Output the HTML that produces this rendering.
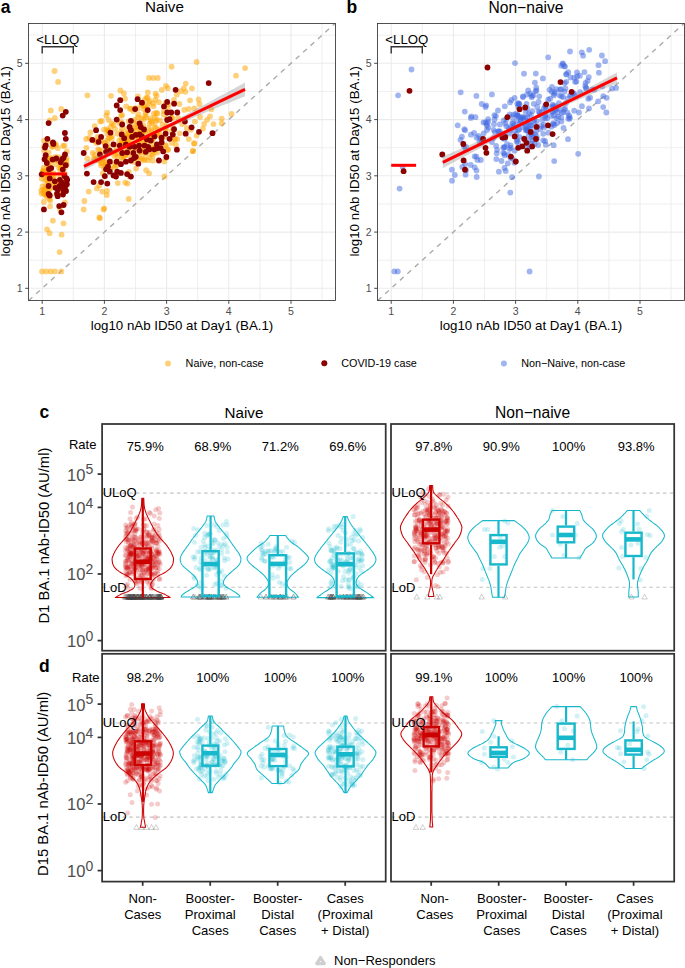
<!DOCTYPE html>
<html><head><meta charset="utf-8"><style>
html,body{margin:0;padding:0;background:#fff;}
svg{display:block;}
text{font-family:"Liberation Sans", sans-serif;}
</style></head><body>
<svg width="685" height="968" viewBox="0 0 685 968" font-family='"Liberation Sans", sans-serif'>
<rect width="685" height="968" fill="#fff"/>
<rect x="28.5" y="23.5" width="307" height="277" fill="#fff"/>
<line x1="73.3" y1="23.5" x2="73.3" y2="300.5" stroke="#EBEBEB" stroke-width="0.8"/>
<line x1="28.5" y1="260.2" x2="335.5" y2="260.2" stroke="#EBEBEB" stroke-width="0.8"/>
<line x1="135.5" y1="23.5" x2="135.5" y2="300.5" stroke="#EBEBEB" stroke-width="0.8"/>
<line x1="28.5" y1="203.9" x2="335.5" y2="203.9" stroke="#EBEBEB" stroke-width="0.8"/>
<line x1="197.7" y1="23.5" x2="197.7" y2="300.5" stroke="#EBEBEB" stroke-width="0.8"/>
<line x1="28.5" y1="147.7" x2="335.5" y2="147.7" stroke="#EBEBEB" stroke-width="0.8"/>
<line x1="259.9" y1="23.5" x2="259.9" y2="300.5" stroke="#EBEBEB" stroke-width="0.8"/>
<line x1="28.5" y1="91.4" x2="335.5" y2="91.4" stroke="#EBEBEB" stroke-width="0.8"/>
<line x1="322.1" y1="23.5" x2="322.1" y2="300.5" stroke="#EBEBEB" stroke-width="0.8"/>
<line x1="28.5" y1="35.2" x2="335.5" y2="35.2" stroke="#EBEBEB" stroke-width="0.8"/>
<line x1="42.2" y1="23.5" x2="42.2" y2="300.5" stroke="#EBEBEB" stroke-width="1.1"/>
<line x1="28.5" y1="288.3" x2="335.5" y2="288.3" stroke="#EBEBEB" stroke-width="1.1"/>
<line x1="104.4" y1="23.5" x2="104.4" y2="300.5" stroke="#EBEBEB" stroke-width="1.1"/>
<line x1="28.5" y1="232.1" x2="335.5" y2="232.1" stroke="#EBEBEB" stroke-width="1.1"/>
<line x1="166.6" y1="23.5" x2="166.6" y2="300.5" stroke="#EBEBEB" stroke-width="1.1"/>
<line x1="28.5" y1="175.8" x2="335.5" y2="175.8" stroke="#EBEBEB" stroke-width="1.1"/>
<line x1="228.8" y1="23.5" x2="228.8" y2="300.5" stroke="#EBEBEB" stroke-width="1.1"/>
<line x1="28.5" y1="119.6" x2="335.5" y2="119.6" stroke="#EBEBEB" stroke-width="1.1"/>
<line x1="291" y1="23.5" x2="291" y2="300.5" stroke="#EBEBEB" stroke-width="1.1"/>
<line x1="28.5" y1="63.3" x2="335.5" y2="63.3" stroke="#EBEBEB" stroke-width="1.1"/>
<line x1="28.7" y1="300.5" x2="335" y2="23.5" stroke="#ABABAB" stroke-width="1.4" stroke-dasharray="5 5"/>
<g fill="#FFA500" fill-opacity="0.52"><circle cx="98.1" cy="149.5" r="2.9"/><circle cx="160.2" cy="136.9" r="2.9"/><circle cx="95.2" cy="159.4" r="2.9"/><circle cx="145.8" cy="113" r="2.9"/><circle cx="128.4" cy="134.4" r="2.9"/><circle cx="148.1" cy="160.2" r="2.9"/><circle cx="153.1" cy="103.3" r="2.9"/><circle cx="123.4" cy="153" r="2.9"/><circle cx="121.5" cy="122.2" r="2.9"/><circle cx="135.6" cy="127.3" r="2.9"/><circle cx="139" cy="137" r="2.9"/><circle cx="139.3" cy="157.2" r="2.9"/><circle cx="139.2" cy="124.4" r="2.9"/><circle cx="104.1" cy="168.2" r="2.9"/><circle cx="107" cy="163.6" r="2.9"/><circle cx="106" cy="164.7" r="2.9"/><circle cx="130.9" cy="145.4" r="2.9"/><circle cx="108.9" cy="149.6" r="2.9"/><circle cx="155.3" cy="99.9" r="2.9"/><circle cx="152.8" cy="160.7" r="2.9"/><circle cx="164.1" cy="161.6" r="2.9"/><circle cx="132.9" cy="140.6" r="2.9"/><circle cx="147.8" cy="92.4" r="2.9"/><circle cx="147.1" cy="139.3" r="2.9"/><circle cx="138.9" cy="160.1" r="2.9"/><circle cx="97.1" cy="158.2" r="2.9"/><circle cx="144.3" cy="159.2" r="2.9"/><circle cx="133.1" cy="149.6" r="2.9"/><circle cx="132.7" cy="131.4" r="2.9"/><circle cx="150.8" cy="120.9" r="2.9"/><circle cx="164.6" cy="136.8" r="2.9"/><circle cx="138.3" cy="138.7" r="2.9"/><circle cx="117.7" cy="153.3" r="2.9"/><circle cx="121.5" cy="157.2" r="2.9"/><circle cx="141.6" cy="142.3" r="2.9"/><circle cx="140.2" cy="152" r="2.9"/><circle cx="146.8" cy="142.2" r="2.9"/><circle cx="89.1" cy="137.9" r="2.9"/><circle cx="124.3" cy="151.1" r="2.9"/><circle cx="151.7" cy="132" r="2.9"/><circle cx="129.9" cy="108.7" r="2.9"/><circle cx="121.2" cy="131.6" r="2.9"/><circle cx="143.3" cy="131.5" r="2.9"/><circle cx="114.3" cy="156.1" r="2.9"/><circle cx="110.7" cy="161.7" r="2.9"/><circle cx="152.9" cy="155.5" r="2.9"/><circle cx="136.1" cy="130.5" r="2.9"/><circle cx="119.2" cy="123" r="2.9"/><circle cx="141.2" cy="149.4" r="2.9"/><circle cx="149.3" cy="103.1" r="2.9"/><circle cx="149.6" cy="136.8" r="2.9"/><circle cx="114.5" cy="164.8" r="2.9"/><circle cx="114.7" cy="144.6" r="2.9"/><circle cx="137.2" cy="124.4" r="2.9"/><circle cx="127.6" cy="146.8" r="2.9"/><circle cx="111.7" cy="138.7" r="2.9"/><circle cx="98.7" cy="159.7" r="2.9"/><circle cx="149.1" cy="133.7" r="2.9"/><circle cx="122" cy="142" r="2.9"/><circle cx="167.9" cy="107.6" r="2.9"/><circle cx="101.5" cy="163.2" r="2.9"/><circle cx="133.8" cy="136.3" r="2.9"/><circle cx="128.7" cy="121.5" r="2.9"/><circle cx="148.6" cy="128.2" r="2.9"/><circle cx="107.6" cy="133.9" r="2.9"/><circle cx="150.4" cy="118.4" r="2.9"/><circle cx="137.1" cy="134.2" r="2.9"/><circle cx="139.3" cy="152" r="2.9"/><circle cx="171.8" cy="117.9" r="2.9"/><circle cx="87.3" cy="158.4" r="2.9"/><circle cx="87.4" cy="95.3" r="2.9"/><circle cx="163.7" cy="114.5" r="2.9"/><circle cx="127.5" cy="183.6" r="2.9"/><circle cx="128.9" cy="171.8" r="2.9"/><circle cx="149.1" cy="173.3" r="2.9"/><circle cx="107" cy="129.2" r="2.9"/><circle cx="99.3" cy="185.5" r="2.9"/><circle cx="157" cy="152.7" r="2.9"/><circle cx="115.1" cy="167.3" r="2.9"/><circle cx="157.3" cy="134.5" r="2.9"/><circle cx="125.2" cy="182.6" r="2.9"/><circle cx="165.3" cy="145.8" r="2.9"/><circle cx="97.5" cy="136.9" r="2.9"/><circle cx="106" cy="163" r="2.9"/><circle cx="138.6" cy="144.2" r="2.9"/><circle cx="132.4" cy="145.1" r="2.9"/><circle cx="106.6" cy="165.7" r="2.9"/><circle cx="137.8" cy="108.4" r="2.9"/><circle cx="93.7" cy="158.4" r="2.9"/><circle cx="151.3" cy="138.4" r="2.9"/><circle cx="156" cy="127.9" r="2.9"/><circle cx="124.2" cy="155.9" r="2.9"/><circle cx="161.8" cy="89.9" r="2.9"/><circle cx="116.2" cy="165.6" r="2.9"/><circle cx="151.8" cy="141.8" r="2.9"/><circle cx="123" cy="155.8" r="2.9"/><circle cx="86.4" cy="147.8" r="2.9"/><circle cx="102.8" cy="173.4" r="2.9"/><circle cx="157" cy="132.8" r="2.9"/><circle cx="146.2" cy="170.2" r="2.9"/><circle cx="133.6" cy="122.3" r="2.9"/><circle cx="96.5" cy="142.9" r="2.9"/><circle cx="125.4" cy="133.5" r="2.9"/><circle cx="159.2" cy="129.7" r="2.9"/><circle cx="151.6" cy="154.2" r="2.9"/><circle cx="152.6" cy="147.4" r="2.9"/><circle cx="133.3" cy="111.1" r="2.9"/><circle cx="121.9" cy="143.2" r="2.9"/><circle cx="143.6" cy="106" r="2.9"/><circle cx="143.7" cy="149.8" r="2.9"/><circle cx="122.1" cy="144.3" r="2.9"/><circle cx="127.1" cy="129.1" r="2.9"/><circle cx="155.6" cy="93.7" r="2.9"/><circle cx="140.5" cy="135.7" r="2.9"/><circle cx="147.8" cy="107.3" r="2.9"/><circle cx="143.9" cy="160.4" r="2.9"/><circle cx="145.4" cy="153.7" r="2.9"/><circle cx="90.4" cy="132.4" r="2.9"/><circle cx="121.4" cy="138.8" r="2.9"/><circle cx="162.6" cy="124.7" r="2.9"/><circle cx="136.1" cy="168.4" r="2.9"/><circle cx="140.1" cy="130.1" r="2.9"/><circle cx="152.5" cy="147.5" r="2.9"/><circle cx="168.1" cy="149.5" r="2.9"/><circle cx="127.4" cy="142" r="2.9"/><circle cx="104.4" cy="142.9" r="2.9"/><circle cx="166.3" cy="125.9" r="2.9"/><circle cx="117.8" cy="173" r="2.9"/><circle cx="143.7" cy="119.3" r="2.9"/><circle cx="117.8" cy="183.1" r="2.9"/><circle cx="108.3" cy="138.6" r="2.9"/><circle cx="92.8" cy="153" r="2.9"/><circle cx="144.9" cy="105" r="2.9"/><circle cx="149.1" cy="157.3" r="2.9"/><circle cx="128.5" cy="155.2" r="2.9"/><circle cx="86.2" cy="138.9" r="2.9"/><circle cx="127.5" cy="138.5" r="2.9"/><circle cx="108.6" cy="120" r="2.9"/><circle cx="102.9" cy="159.1" r="2.9"/><circle cx="141.9" cy="158.4" r="2.9"/><circle cx="145.2" cy="131.7" r="2.9"/><circle cx="100.2" cy="121.5" r="2.9"/><circle cx="141.4" cy="104.5" r="2.9"/><circle cx="152.1" cy="122.9" r="2.9"/><circle cx="154.8" cy="127.2" r="2.9"/><circle cx="117.4" cy="133.8" r="2.9"/><circle cx="159.5" cy="133.5" r="2.9"/><circle cx="143.7" cy="137.5" r="2.9"/><circle cx="138.5" cy="114.4" r="2.9"/><circle cx="121.1" cy="115.8" r="2.9"/><circle cx="110.5" cy="168.6" r="2.9"/><circle cx="152.3" cy="151.3" r="2.9"/><circle cx="122" cy="128" r="2.9"/><circle cx="166.3" cy="158.1" r="2.9"/><circle cx="146.6" cy="97.6" r="2.9"/><circle cx="165.8" cy="129" r="2.9"/><circle cx="115.6" cy="154.1" r="2.9"/><circle cx="100.1" cy="160.8" r="2.9"/><circle cx="127.1" cy="145.7" r="2.9"/><circle cx="165.5" cy="129" r="2.9"/><circle cx="91.6" cy="139.8" r="2.9"/><circle cx="102.4" cy="163.3" r="2.9"/><circle cx="128.6" cy="148.7" r="2.9"/><circle cx="104.3" cy="158.5" r="2.9"/><circle cx="115.4" cy="151.1" r="2.9"/><circle cx="163.8" cy="111.1" r="2.9"/><circle cx="153.8" cy="113.7" r="2.9"/><circle cx="108.2" cy="149.5" r="2.9"/><circle cx="146.4" cy="109" r="2.9"/><circle cx="145.5" cy="138.7" r="2.9"/><circle cx="133.5" cy="143.9" r="2.9"/><circle cx="139.3" cy="124.2" r="2.9"/><circle cx="122.9" cy="160.5" r="2.9"/><circle cx="108.5" cy="130.8" r="2.9"/><circle cx="168.2" cy="104.3" r="2.9"/><circle cx="156.4" cy="113" r="2.9"/><circle cx="132.3" cy="127.7" r="2.9"/><circle cx="102.9" cy="158.3" r="2.9"/><circle cx="111.9" cy="136.3" r="2.9"/><circle cx="116.2" cy="150.2" r="2.9"/><circle cx="143.6" cy="109.1" r="2.9"/><circle cx="110.2" cy="168.9" r="2.9"/><circle cx="155.3" cy="150.6" r="2.9"/><circle cx="145.1" cy="145.2" r="2.9"/><circle cx="129.4" cy="176.6" r="2.9"/><circle cx="152.4" cy="140.4" r="2.9"/><circle cx="107.2" cy="112.7" r="2.9"/><circle cx="143.8" cy="141.6" r="2.9"/><circle cx="135.4" cy="108.2" r="2.9"/><circle cx="131.6" cy="132.1" r="2.9"/><circle cx="146.8" cy="150.9" r="2.9"/><circle cx="136" cy="148.3" r="2.9"/><circle cx="97.5" cy="140.3" r="2.9"/><circle cx="151" cy="130.1" r="2.9"/><circle cx="107" cy="190.9" r="2.9"/><circle cx="157.3" cy="113.4" r="2.9"/><circle cx="134.1" cy="162.1" r="2.9"/><circle cx="125.3" cy="155.2" r="2.9"/><circle cx="144.4" cy="130.8" r="2.9"/><circle cx="166.9" cy="118.3" r="2.9"/><circle cx="96.2" cy="159.9" r="2.9"/><circle cx="143.2" cy="125.5" r="2.9"/><circle cx="147.7" cy="98" r="2.9"/><circle cx="128.5" cy="136.6" r="2.9"/><circle cx="138" cy="117.4" r="2.9"/><circle cx="123" cy="143.3" r="2.9"/><circle cx="139.3" cy="139.6" r="2.9"/><circle cx="129.7" cy="152.8" r="2.9"/><circle cx="145.3" cy="115.1" r="2.9"/><circle cx="130.5" cy="160.7" r="2.9"/><circle cx="138.1" cy="126.8" r="2.9"/><circle cx="127.5" cy="143" r="2.9"/><circle cx="171.8" cy="142.9" r="2.9"/><circle cx="101.1" cy="140.7" r="2.9"/><circle cx="130.2" cy="136.4" r="2.9"/><circle cx="112" cy="123.3" r="2.9"/><circle cx="107.9" cy="145.9" r="2.9"/><circle cx="165.7" cy="103" r="2.9"/><circle cx="102.8" cy="151" r="2.9"/><circle cx="95.2" cy="141" r="2.9"/><circle cx="155.5" cy="121.8" r="2.9"/><circle cx="128.4" cy="141.7" r="2.9"/><circle cx="107.8" cy="130.6" r="2.9"/><circle cx="117.9" cy="157.1" r="2.9"/><circle cx="171.4" cy="131.4" r="2.9"/><circle cx="110.8" cy="126.7" r="2.9"/><circle cx="101.1" cy="165.3" r="2.9"/><circle cx="105.1" cy="176.6" r="2.9"/><circle cx="138.4" cy="138" r="2.9"/><circle cx="125.1" cy="140.3" r="2.9"/><circle cx="141.5" cy="118.5" r="2.9"/><circle cx="149.7" cy="123.7" r="2.9"/><circle cx="161.7" cy="139.9" r="2.9"/><circle cx="128.8" cy="198.9" r="2.9"/><circle cx="105.2" cy="143.1" r="2.9"/><circle cx="111" cy="95.8" r="2.9"/><circle cx="120.4" cy="90.5" r="2.9"/><circle cx="123.9" cy="93.4" r="2.9"/><circle cx="125" cy="98.7" r="2.9"/><circle cx="126.2" cy="106.3" r="2.9"/><circle cx="130.9" cy="108.6" r="2.9"/><circle cx="106.4" cy="115.6" r="2.9"/><circle cx="101.7" cy="120.9" r="2.9"/><circle cx="94.7" cy="126.1" r="2.9"/><circle cx="104" cy="129.6" r="2.9"/><circle cx="137.9" cy="96.4" r="2.9"/><circle cx="144.9" cy="99.3" r="2.9"/><circle cx="149.6" cy="101" r="2.9"/><circle cx="153.6" cy="106.3" r="2.9"/><circle cx="156.6" cy="95.8" r="2.9"/><circle cx="158.9" cy="102.2" r="2.9"/><circle cx="165.9" cy="85.8" r="2.9"/><circle cx="167.7" cy="88.2" r="2.9"/><circle cx="146.1" cy="117.4" r="2.9"/><circle cx="154.8" cy="117.4" r="2.9"/><circle cx="160.1" cy="120.3" r="2.9"/><circle cx="156.6" cy="119.7" r="2.9"/><circle cx="135" cy="119.7" r="2.9"/><circle cx="122.1" cy="115" r="2.9"/><circle cx="113.4" cy="125" r="2.9"/><circle cx="115.1" cy="129" r="2.9"/><circle cx="128.5" cy="133.7" r="2.9"/><circle cx="132" cy="134.9" r="2.9"/><circle cx="141.4" cy="131.4" r="2.9"/><circle cx="148.4" cy="139.6" r="2.9"/><circle cx="153.1" cy="138.4" r="2.9"/><circle cx="155.4" cy="134.9" r="2.9"/><circle cx="107.5" cy="140.7" r="2.9"/><circle cx="109.9" cy="137.2" r="2.9"/><circle cx="99.3" cy="150.1" r="2.9"/><circle cx="94.7" cy="154.7" r="2.9"/><circle cx="119.2" cy="140.7" r="2.9"/><circle cx="139" cy="150.1" r="2.9"/><circle cx="143.7" cy="152.4" r="2.9"/><circle cx="165.9" cy="145.4" r="2.9"/><circle cx="167.7" cy="150.1" r="2.9"/><circle cx="196.6" cy="62" r="2.9"/><circle cx="245.1" cy="68.1" r="2.9"/><circle cx="236" cy="75.7" r="2.9"/><circle cx="185.7" cy="83.6" r="2.9"/><circle cx="191.9" cy="88.3" r="2.9"/><circle cx="183.8" cy="88.3" r="2.9"/><circle cx="185.5" cy="91.8" r="2.9"/><circle cx="180.8" cy="91.2" r="2.9"/><circle cx="176.8" cy="94.7" r="2.9"/><circle cx="190" cy="100.3" r="2.9"/><circle cx="198.6" cy="99.4" r="2.9"/><circle cx="199.5" cy="104" r="2.9"/><circle cx="179.4" cy="104" r="2.9"/><circle cx="211.4" cy="109.3" r="2.9"/><circle cx="184.3" cy="109.9" r="2.9"/><circle cx="188.8" cy="109" r="2.9"/><circle cx="194.3" cy="108.5" r="2.9"/><circle cx="231.6" cy="114" r="2.9"/><circle cx="210" cy="116.3" r="2.9"/><circle cx="207.1" cy="119.8" r="2.9"/><circle cx="200.1" cy="116.9" r="2.9"/><circle cx="194.9" cy="121.6" r="2.9"/><circle cx="221.7" cy="118.6" r="2.9"/><circle cx="221.7" cy="123.3" r="2.9"/><circle cx="213.5" cy="124.1" r="2.9"/><circle cx="204.2" cy="123.9" r="2.9"/><circle cx="203" cy="128.6" r="2.9"/><circle cx="186.7" cy="128" r="2.9"/><circle cx="190.8" cy="129.7" r="2.9"/><circle cx="179.7" cy="133.3" r="2.9"/><circle cx="177.3" cy="139.1" r="2.9"/><circle cx="196.6" cy="135.6" r="2.9"/><circle cx="188.8" cy="139.1" r="2.9"/><circle cx="194.3" cy="143.2" r="2.9"/><circle cx="192.8" cy="151" r="2.9"/><circle cx="175" cy="139" r="2.9"/><circle cx="171.6" cy="66.7" r="2.9"/><circle cx="174.5" cy="139.3" r="2.9"/><circle cx="173" cy="128" r="2.9"/><circle cx="172" cy="118" r="2.9"/><circle cx="174" cy="100" r="2.9"/><circle cx="178" cy="118" r="2.9"/><circle cx="182" cy="124" r="2.9"/><circle cx="176" cy="145" r="2.9"/><circle cx="53.9" cy="176" r="2.9"/><circle cx="46.4" cy="196.8" r="2.9"/><circle cx="43.7" cy="170.6" r="2.9"/><circle cx="65.7" cy="191.2" r="2.9"/><circle cx="57.1" cy="160.4" r="2.9"/><circle cx="51.3" cy="177.3" r="2.9"/><circle cx="56.1" cy="144.9" r="2.9"/><circle cx="49.3" cy="174.5" r="2.9"/><circle cx="42.5" cy="186.5" r="2.9"/><circle cx="48.3" cy="160.9" r="2.9"/><circle cx="61" cy="168.4" r="2.9"/><circle cx="51.9" cy="146.6" r="2.9"/><circle cx="43.4" cy="189.8" r="2.9"/><circle cx="66.8" cy="164.5" r="2.9"/><circle cx="64.7" cy="173.8" r="2.9"/><circle cx="52.9" cy="220.7" r="2.9"/><circle cx="48.3" cy="164.3" r="2.9"/><circle cx="55.2" cy="143.8" r="2.9"/><circle cx="53.9" cy="182.7" r="2.9"/><circle cx="66.6" cy="161" r="2.9"/><circle cx="45.1" cy="194.4" r="2.9"/><circle cx="57.7" cy="183.3" r="2.9"/><circle cx="43.5" cy="167.9" r="2.9"/><circle cx="55.3" cy="157" r="2.9"/><circle cx="58.8" cy="157.2" r="2.9"/><circle cx="53.5" cy="173.2" r="2.9"/><circle cx="52.6" cy="146.8" r="2.9"/><circle cx="61.6" cy="234.7" r="2.9"/><circle cx="65.9" cy="183.7" r="2.9"/><circle cx="60.5" cy="170.6" r="2.9"/><circle cx="64.4" cy="162.2" r="2.9"/><circle cx="61.7" cy="183.7" r="2.9"/><circle cx="49" cy="183.7" r="2.9"/><circle cx="59.2" cy="194.1" r="2.9"/><circle cx="58" cy="181.2" r="2.9"/><circle cx="60.9" cy="166.1" r="2.9"/><circle cx="66.6" cy="158.2" r="2.9"/><circle cx="65" cy="167.5" r="2.9"/><circle cx="43.7" cy="174.9" r="2.9"/><circle cx="48.9" cy="194.4" r="2.9"/><circle cx="44.7" cy="159.6" r="2.9"/><circle cx="55.7" cy="164.2" r="2.9"/><circle cx="59" cy="167.8" r="2.9"/><circle cx="55.9" cy="183.5" r="2.9"/><circle cx="54.1" cy="184.5" r="2.9"/><circle cx="47.4" cy="188.3" r="2.9"/><circle cx="63.1" cy="145.8" r="2.9"/><circle cx="44" cy="146.6" r="2.9"/><circle cx="57.7" cy="148.2" r="2.9"/><circle cx="61.3" cy="166.8" r="2.9"/><circle cx="48.6" cy="152.3" r="2.9"/><circle cx="62.3" cy="189.7" r="2.9"/><circle cx="66.8" cy="151.5" r="2.9"/><circle cx="50.3" cy="200.6" r="2.9"/><circle cx="65.1" cy="180.5" r="2.9"/><circle cx="52.8" cy="177" r="2.9"/><circle cx="64" cy="165.2" r="2.9"/><circle cx="44.2" cy="150.6" r="2.9"/><circle cx="54.3" cy="159.4" r="2.9"/><circle cx="59.3" cy="181" r="2.9"/><circle cx="44.1" cy="140.7" r="2.9"/><circle cx="47.5" cy="175.3" r="2.9"/><circle cx="49.8" cy="177.8" r="2.9"/><circle cx="60.2" cy="176.5" r="2.9"/><circle cx="45.8" cy="185.5" r="2.9"/><circle cx="51.1" cy="174" r="2.9"/><circle cx="45.1" cy="188.8" r="2.9"/><circle cx="59.8" cy="209" r="2.9"/><circle cx="65.6" cy="188.8" r="2.9"/><circle cx="64.9" cy="202.3" r="2.9"/><circle cx="49.8" cy="158.6" r="2.9"/><circle cx="50.1" cy="206.3" r="2.9"/><circle cx="64.5" cy="145.7" r="2.9"/><circle cx="48.4" cy="182.7" r="2.9"/><circle cx="51.2" cy="157.8" r="2.9"/><circle cx="45.1" cy="180" r="2.9"/><circle cx="46.9" cy="167" r="2.9"/><circle cx="49.4" cy="198.9" r="2.9"/><circle cx="46.9" cy="179.7" r="2.9"/><circle cx="42.8" cy="171.4" r="2.9"/><circle cx="43.9" cy="202" r="2.9"/><circle cx="41.2" cy="190.5" r="2.9"/><circle cx="47" cy="174.7" r="2.9"/><circle cx="51.2" cy="187.8" r="2.9"/><circle cx="41.6" cy="193.6" r="2.9"/><circle cx="46.7" cy="171.6" r="2.9"/><circle cx="41.8" cy="178.7" r="2.9"/><circle cx="48.7" cy="168.2" r="2.9"/><circle cx="47.7" cy="176.5" r="2.9"/><circle cx="42.5" cy="173.5" r="2.9"/><circle cx="43.6" cy="193.3" r="2.9"/><circle cx="43.3" cy="171.3" r="2.9"/><circle cx="49" cy="190" r="2.9"/><circle cx="45.1" cy="192.4" r="2.9"/><circle cx="48.1" cy="141.5" r="2.9"/><circle cx="46.2" cy="194.8" r="2.9"/><circle cx="48.4" cy="178.2" r="2.9"/><circle cx="50.6" cy="195.3" r="2.9"/><circle cx="48" cy="159" r="2.9"/><circle cx="50" cy="163.8" r="2.9"/><circle cx="42" cy="271.4" r="2.9"/><circle cx="46.2" cy="271.4" r="2.9"/><circle cx="50.6" cy="271.4" r="2.9"/><circle cx="55" cy="271.4" r="2.9"/><circle cx="61.3" cy="271.4" r="2.9"/><circle cx="54.6" cy="71" r="2.9"/><circle cx="58.1" cy="81.9" r="2.9"/><circle cx="148.9" cy="77.9" r="2.9"/><circle cx="153.3" cy="77.9" r="2.9"/><circle cx="157.8" cy="77.9" r="2.9"/><circle cx="84.4" cy="201" r="2.9"/><circle cx="99.3" cy="217.4" r="2.9"/><circle cx="104.2" cy="208.4" r="2.9"/><circle cx="59.6" cy="252.1" r="2.9"/><circle cx="63.5" cy="223.3" r="2.9"/><circle cx="47.1" cy="229.3" r="2.9"/><circle cx="49.6" cy="233.2" r="2.9"/><circle cx="50.8" cy="110.5" r="2.9"/><circle cx="61.2" cy="108.9" r="2.9"/><circle cx="54.8" cy="118" r="2.9"/><circle cx="49.7" cy="120.5" r="2.9"/><circle cx="83.7" cy="209.5" r="2.9"/><circle cx="103.6" cy="209.5" r="2.9"/><circle cx="99.9" cy="218.2" r="2.9"/><circle cx="88.7" cy="191.6" r="2.9"/><circle cx="96.9" cy="188.4" r="2.9"/><circle cx="102.3" cy="191.6" r="2.9"/><circle cx="106.8" cy="195.1" r="2.9"/><circle cx="164.4" cy="176.5" r="2.9"/><circle cx="192.9" cy="151.2" r="2.9"/><circle cx="194.1" cy="143.7" r="2.9"/></g>
<g fill="#8B0000"><circle cx="65.8" cy="111.8" r="2.9"/><circle cx="62.7" cy="115.6" r="2.9"/><circle cx="48.6" cy="123.1" r="2.9"/><circle cx="64.9" cy="133" r="2.9"/><circle cx="65.8" cy="138.8" r="2.9"/><circle cx="47.4" cy="138.8" r="2.9"/><circle cx="53" cy="142.4" r="2.9"/><circle cx="53.4" cy="143.9" r="2.9"/><circle cx="45.7" cy="145.4" r="2.9"/><circle cx="45" cy="147.6" r="2.9"/><circle cx="65" cy="154.5" r="2.9"/><circle cx="45.7" cy="155.2" r="2.9"/><circle cx="56.3" cy="158.5" r="2.9"/><circle cx="52.6" cy="159.6" r="2.9"/><circle cx="44.6" cy="159.2" r="2.9"/><circle cx="62.1" cy="159.2" r="2.9"/><circle cx="63.6" cy="157.8" r="2.9"/><circle cx="46.8" cy="163" r="2.9"/><circle cx="60.7" cy="162.3" r="2.9"/><circle cx="65.8" cy="165.2" r="2.9"/><circle cx="62.8" cy="169.6" r="2.9"/><circle cx="49" cy="169.2" r="2.9"/><circle cx="51.2" cy="168.1" r="2.9"/><circle cx="41.7" cy="174.3" r="2.9"/><circle cx="49.7" cy="178.4" r="2.9"/><circle cx="54.8" cy="181.3" r="2.9"/><circle cx="59.9" cy="179.8" r="2.9"/><circle cx="62.1" cy="182.7" r="2.9"/><circle cx="66.5" cy="178.4" r="2.9"/><circle cx="67.2" cy="179.8" r="2.9"/><circle cx="66.9" cy="184.2" r="2.9"/><circle cx="48.6" cy="186" r="2.9"/><circle cx="55.5" cy="187.8" r="2.9"/><circle cx="59.2" cy="186.4" r="2.9"/><circle cx="63.6" cy="190" r="2.9"/><circle cx="65" cy="187.1" r="2.9"/><circle cx="48.6" cy="194" r="2.9"/><circle cx="49.7" cy="195.5" r="2.9"/><circle cx="57" cy="193.7" r="2.9"/><circle cx="57.7" cy="196.2" r="2.9"/><circle cx="43.9" cy="209.4" r="2.9"/><circle cx="59.2" cy="206.1" r="2.9"/><circle cx="63.6" cy="205" r="2.9"/><circle cx="61.4" cy="212.3" r="2.9"/><circle cx="64.5" cy="176" r="2.9"/><circle cx="61" cy="185" r="2.9"/><circle cx="66" cy="191" r="2.9"/><circle cx="58" cy="189.5" r="2.9"/><circle cx="63" cy="194.5" r="2.9"/><circle cx="120.2" cy="100.2" r="2.9"/><circle cx="116.7" cy="105.4" r="2.9"/><circle cx="137.6" cy="99.2" r="2.9"/><circle cx="142" cy="102.7" r="2.9"/><circle cx="120.2" cy="110.1" r="2.9"/><circle cx="135.1" cy="109.1" r="2.9"/><circle cx="147.7" cy="110.1" r="2.9"/><circle cx="116.7" cy="119.6" r="2.9"/><circle cx="130.9" cy="120.8" r="2.9"/><circle cx="122.2" cy="124.5" r="2.9"/><circle cx="129.6" cy="127" r="2.9"/><circle cx="130.9" cy="130.2" r="2.9"/><circle cx="139.6" cy="123.3" r="2.9"/><circle cx="140.8" cy="127" r="2.9"/><circle cx="144" cy="129.5" r="2.9"/><circle cx="96.1" cy="130.2" r="2.9"/><circle cx="110.5" cy="132.7" r="2.9"/><circle cx="101.1" cy="136.9" r="2.9"/><circle cx="92.4" cy="139.9" r="2.9"/><circle cx="98.6" cy="141.9" r="2.9"/><circle cx="121.7" cy="134.4" r="2.9"/><circle cx="124.2" cy="138.2" r="2.9"/><circle cx="132.1" cy="136.9" r="2.9"/><circle cx="135.8" cy="134.9" r="2.9"/><circle cx="139.6" cy="134.4" r="2.9"/><circle cx="142" cy="136.4" r="2.9"/><circle cx="147" cy="139.4" r="2.9"/><circle cx="150.7" cy="140.6" r="2.9"/><circle cx="154.4" cy="136.4" r="2.9"/><circle cx="105.6" cy="146.1" r="2.9"/><circle cx="113.5" cy="144.4" r="2.9"/><circle cx="119.7" cy="145.6" r="2.9"/><circle cx="125.9" cy="144.4" r="2.9"/><circle cx="129.6" cy="146.8" r="2.9"/><circle cx="134.6" cy="146.8" r="2.9"/><circle cx="139.1" cy="145.6" r="2.9"/><circle cx="144.5" cy="145.6" r="2.9"/><circle cx="148.2" cy="146.8" r="2.9"/><circle cx="156.9" cy="144.4" r="2.9"/><circle cx="157.4" cy="148.1" r="2.9"/><circle cx="83.7" cy="153" r="2.9"/><circle cx="99.9" cy="154.3" r="2.9"/><circle cx="106.1" cy="151.8" r="2.9"/><circle cx="109.8" cy="150.6" r="2.9"/><circle cx="122.2" cy="153" r="2.9"/><circle cx="127.1" cy="152.3" r="2.9"/><circle cx="133.4" cy="153" r="2.9"/><circle cx="135.8" cy="156.8" r="2.9"/><circle cx="139.6" cy="150.6" r="2.9"/><circle cx="145.8" cy="151.8" r="2.9"/><circle cx="149.5" cy="149.3" r="2.9"/><circle cx="154.4" cy="149.3" r="2.9"/><circle cx="109.8" cy="161.7" r="2.9"/><circle cx="108" cy="166.7" r="2.9"/><circle cx="116.7" cy="161.7" r="2.9"/><circle cx="120.9" cy="164.2" r="2.9"/><circle cx="125.9" cy="161.7" r="2.9"/><circle cx="130.9" cy="160.5" r="2.9"/><circle cx="134.1" cy="158" r="2.9"/><circle cx="138.3" cy="163.7" r="2.9"/><circle cx="158.9" cy="160.5" r="2.9"/><circle cx="86.9" cy="173.6" r="2.9"/><circle cx="106.1" cy="169.2" r="2.9"/><circle cx="109.8" cy="171.7" r="2.9"/><circle cx="117.2" cy="171.7" r="2.9"/><circle cx="113.5" cy="175.4" r="2.9"/><circle cx="116" cy="176.6" r="2.9"/><circle cx="120.9" cy="172.9" r="2.9"/><circle cx="127.1" cy="174.1" r="2.9"/><circle cx="130.9" cy="176.6" r="2.9"/><circle cx="93.6" cy="182.1" r="2.9"/><circle cx="101.1" cy="182.1" r="2.9"/><circle cx="107.3" cy="183.6" r="2.9"/><circle cx="104.8" cy="176.1" r="2.9"/><circle cx="208.7" cy="83.1" r="2.9"/><circle cx="175.6" cy="89.8" r="2.9"/><circle cx="167.2" cy="101.9" r="2.9"/><circle cx="174.1" cy="103.7" r="2.9"/><circle cx="164" cy="106.4" r="2.9"/><circle cx="167.2" cy="112.5" r="2.9"/><circle cx="171.2" cy="112.5" r="2.9"/><circle cx="177.3" cy="112.5" r="2.9"/><circle cx="167.2" cy="120" r="2.9"/><circle cx="169.6" cy="119.2" r="2.9"/><circle cx="184.9" cy="121.6" r="2.9"/><circle cx="191.6" cy="127.3" r="2.9"/><circle cx="174.1" cy="129.2" r="2.9"/><circle cx="199" cy="131.8" r="2.9"/><circle cx="212.5" cy="133.2" r="2.9"/><circle cx="185.7" cy="133.7" r="2.9"/><circle cx="165.6" cy="133.7" r="2.9"/><circle cx="172.8" cy="134.5" r="2.9"/><circle cx="169.6" cy="138.8" r="2.9"/><circle cx="161.6" cy="142.5" r="2.9"/><circle cx="161.6" cy="137.7" r="2.9"/><circle cx="176.9" cy="149.7" r="2.9"/><circle cx="163.2" cy="151.4" r="2.9"/><circle cx="166.4" cy="157" r="2.9"/><circle cx="160.6" cy="148.1" r="2.9"/></g>
<path d="M84 162.3 L89.4 160 L94.7 157.8 L100.1 155.5 L105.5 153.3 L110.8 151 L116.2 148.7 L121.6 146.4 L126.9 144 L132.3 141.6 L137.7 139.1 L143 136.6 L148.4 134 L153.8 131.3 L159.1 128.5 L164.5 125.8 L169.9 122.9 L175.2 120.1 L180.6 117.2 L185.9 114.4 L191.3 111.5 L196.7 108.6 L202 105.8 L207.4 102.9 L212.8 100 L218.1 97.1 L223.5 94.2 L228.9 91.3 L234.2 88.4 L239.6 85.5 L245 82.6 L245 96.2 L239.6 98.4 L234.2 100.7 L228.9 102.9 L223.5 105.1 L218.1 107.3 L212.8 109.6 L207.4 111.8 L202 114.1 L196.7 116.3 L191.3 118.6 L185.9 120.8 L180.6 123.1 L175.2 125.3 L169.9 127.6 L164.5 129.9 L159.1 132.3 L153.8 134.7 L148.4 137.1 L143 139.6 L137.7 142.2 L132.3 144.8 L126.9 147.6 L121.6 150.3 L116.2 153.1 L110.8 156 L105.5 158.8 L100.1 161.7 L94.7 164.5 L89.4 167.4 L84 170.3Z" fill="#999" fill-opacity="0.4"/>
<line x1="84" y1="166.3" x2="245" y2="89.4" stroke="#FF0000" stroke-width="3"/>
<line x1="42.2" y1="173.9" x2="66.8" y2="173.9" stroke="#FF0000" stroke-width="3"/>
<rect x="28.5" y="23.5" width="307" height="277" fill="none" stroke="#333333" stroke-width="0.85"/>
<line x1="42.2" y1="300.5" x2="42.2" y2="303.8" stroke="#333333" stroke-width="0.9"/>
<text x="42.2" y="314.9" font-size="10.56" fill="#4D4D4D" text-anchor="middle">1</text>
<line x1="25.2" y1="288.3" x2="28.5" y2="288.3" stroke="#333333" stroke-width="0.9"/>
<text x="22.6" y="292.1" font-size="10.56" fill="#4D4D4D" text-anchor="end">1</text>
<line x1="104.4" y1="300.5" x2="104.4" y2="303.8" stroke="#333333" stroke-width="0.9"/>
<text x="104.4" y="314.9" font-size="10.56" fill="#4D4D4D" text-anchor="middle">2</text>
<line x1="25.2" y1="232.1" x2="28.5" y2="232.1" stroke="#333333" stroke-width="0.9"/>
<text x="22.6" y="235.9" font-size="10.56" fill="#4D4D4D" text-anchor="end">2</text>
<line x1="166.6" y1="300.5" x2="166.6" y2="303.8" stroke="#333333" stroke-width="0.9"/>
<text x="166.6" y="314.9" font-size="10.56" fill="#4D4D4D" text-anchor="middle">3</text>
<line x1="25.2" y1="175.8" x2="28.5" y2="175.8" stroke="#333333" stroke-width="0.9"/>
<text x="22.6" y="179.6" font-size="10.56" fill="#4D4D4D" text-anchor="end">3</text>
<line x1="228.8" y1="300.5" x2="228.8" y2="303.8" stroke="#333333" stroke-width="0.9"/>
<text x="228.8" y="314.9" font-size="10.56" fill="#4D4D4D" text-anchor="middle">4</text>
<line x1="25.2" y1="119.6" x2="28.5" y2="119.6" stroke="#333333" stroke-width="0.9"/>
<text x="22.6" y="123.4" font-size="10.56" fill="#4D4D4D" text-anchor="end">4</text>
<line x1="291" y1="300.5" x2="291" y2="303.8" stroke="#333333" stroke-width="0.9"/>
<text x="291" y="314.9" font-size="10.56" fill="#4D4D4D" text-anchor="middle">5</text>
<line x1="25.2" y1="63.3" x2="28.5" y2="63.3" stroke="#333333" stroke-width="0.9"/>
<text x="22.6" y="67.1" font-size="10.56" fill="#4D4D4D" text-anchor="end">5</text>
<text x="182" y="330" font-size="13.3" text-anchor="middle">log10 nAb ID50 at Day1 (BA.1)</text>
<text transform="translate(9.9,161.3) rotate(-90)" x="0" y="0" font-size="13.35" text-anchor="middle">log10 nAb ID50 at Day15 (BA.1)</text>
<text x="164.5" y="12.3" font-size="15.2" text-anchor="middle">Naive</text>
<path d="M42.2 53.5V46.7H73.3V53.5" fill="none" stroke="#333333" stroke-width="1.4"/>
<text x="57.8" y="44.1" font-size="13.2" text-anchor="middle">&lt;LLOQ</text>
<rect x="377.5" y="23.5" width="307" height="277" fill="#fff"/>
<line x1="422.3" y1="23.5" x2="422.3" y2="300.5" stroke="#EBEBEB" stroke-width="0.8"/>
<line x1="377.5" y1="260.2" x2="684.5" y2="260.2" stroke="#EBEBEB" stroke-width="0.8"/>
<line x1="484.5" y1="23.5" x2="484.5" y2="300.5" stroke="#EBEBEB" stroke-width="0.8"/>
<line x1="377.5" y1="203.9" x2="684.5" y2="203.9" stroke="#EBEBEB" stroke-width="0.8"/>
<line x1="546.7" y1="23.5" x2="546.7" y2="300.5" stroke="#EBEBEB" stroke-width="0.8"/>
<line x1="377.5" y1="147.7" x2="684.5" y2="147.7" stroke="#EBEBEB" stroke-width="0.8"/>
<line x1="608.9" y1="23.5" x2="608.9" y2="300.5" stroke="#EBEBEB" stroke-width="0.8"/>
<line x1="377.5" y1="91.4" x2="684.5" y2="91.4" stroke="#EBEBEB" stroke-width="0.8"/>
<line x1="671.1" y1="23.5" x2="671.1" y2="300.5" stroke="#EBEBEB" stroke-width="0.8"/>
<line x1="377.5" y1="35.2" x2="684.5" y2="35.2" stroke="#EBEBEB" stroke-width="0.8"/>
<line x1="391.2" y1="23.5" x2="391.2" y2="300.5" stroke="#EBEBEB" stroke-width="1.1"/>
<line x1="377.5" y1="288.3" x2="684.5" y2="288.3" stroke="#EBEBEB" stroke-width="1.1"/>
<line x1="453.4" y1="23.5" x2="453.4" y2="300.5" stroke="#EBEBEB" stroke-width="1.1"/>
<line x1="377.5" y1="232.1" x2="684.5" y2="232.1" stroke="#EBEBEB" stroke-width="1.1"/>
<line x1="515.6" y1="23.5" x2="515.6" y2="300.5" stroke="#EBEBEB" stroke-width="1.1"/>
<line x1="377.5" y1="175.8" x2="684.5" y2="175.8" stroke="#EBEBEB" stroke-width="1.1"/>
<line x1="577.8" y1="23.5" x2="577.8" y2="300.5" stroke="#EBEBEB" stroke-width="1.1"/>
<line x1="377.5" y1="119.6" x2="684.5" y2="119.6" stroke="#EBEBEB" stroke-width="1.1"/>
<line x1="640" y1="23.5" x2="640" y2="300.5" stroke="#EBEBEB" stroke-width="1.1"/>
<line x1="377.5" y1="63.3" x2="684.5" y2="63.3" stroke="#EBEBEB" stroke-width="1.1"/>
<line x1="377.7" y1="300.5" x2="684" y2="23.5" stroke="#ABABAB" stroke-width="1.4" stroke-dasharray="5 5"/>
<g fill="#4169E1" fill-opacity="0.5"><circle cx="464.8" cy="111.6" r="2.9"/><circle cx="470.7" cy="164.9" r="2.9"/><circle cx="496.1" cy="145.8" r="2.9"/><circle cx="466.1" cy="170.2" r="2.9"/><circle cx="549.6" cy="89.8" r="2.9"/><circle cx="579.9" cy="75.7" r="2.9"/><circle cx="529.1" cy="113.5" r="2.9"/><circle cx="553.1" cy="124.3" r="2.9"/><circle cx="545.2" cy="105.5" r="2.9"/><circle cx="528.7" cy="124.4" r="2.9"/><circle cx="548.4" cy="132.7" r="2.9"/><circle cx="479.4" cy="141.4" r="2.9"/><circle cx="543.2" cy="140.3" r="2.9"/><circle cx="543.8" cy="108.6" r="2.9"/><circle cx="525.7" cy="111.8" r="2.9"/><circle cx="546.2" cy="109.1" r="2.9"/><circle cx="557.9" cy="112.2" r="2.9"/><circle cx="482" cy="141.1" r="2.9"/><circle cx="554.7" cy="110.6" r="2.9"/><circle cx="553.7" cy="107.7" r="2.9"/><circle cx="498.9" cy="171.7" r="2.9"/><circle cx="510.6" cy="145.5" r="2.9"/><circle cx="534.9" cy="82.6" r="2.9"/><circle cx="477.4" cy="159.9" r="2.9"/><circle cx="570.5" cy="77.4" r="2.9"/><circle cx="519.7" cy="123.8" r="2.9"/><circle cx="542.9" cy="78.4" r="2.9"/><circle cx="509.4" cy="149.1" r="2.9"/><circle cx="561.4" cy="121.4" r="2.9"/><circle cx="528.2" cy="90.5" r="2.9"/><circle cx="527.8" cy="120.9" r="2.9"/><circle cx="536.7" cy="136.6" r="2.9"/><circle cx="537.3" cy="107" r="2.9"/><circle cx="474.7" cy="156.4" r="2.9"/><circle cx="517.7" cy="115.9" r="2.9"/><circle cx="558.6" cy="108.7" r="2.9"/><circle cx="606.3" cy="112.5" r="2.9"/><circle cx="525.8" cy="124.8" r="2.9"/><circle cx="577.1" cy="76.4" r="2.9"/><circle cx="583.1" cy="55.7" r="2.9"/><circle cx="531.7" cy="97.2" r="2.9"/><circle cx="474.1" cy="132.8" r="2.9"/><circle cx="545.8" cy="114.3" r="2.9"/><circle cx="514.6" cy="150.7" r="2.9"/><circle cx="536.4" cy="90.4" r="2.9"/><circle cx="517.5" cy="115.1" r="2.9"/><circle cx="506.4" cy="126.2" r="2.9"/><circle cx="493.6" cy="129.8" r="2.9"/><circle cx="523" cy="116.9" r="2.9"/><circle cx="508.5" cy="154.9" r="2.9"/><circle cx="518.9" cy="103.9" r="2.9"/><circle cx="590.1" cy="97.7" r="2.9"/><circle cx="561" cy="89.2" r="2.9"/><circle cx="545.8" cy="144.7" r="2.9"/><circle cx="543.2" cy="133.8" r="2.9"/><circle cx="575.1" cy="81.8" r="2.9"/><circle cx="554.2" cy="161.1" r="2.9"/><circle cx="554.3" cy="93.7" r="2.9"/><circle cx="483.5" cy="122.4" r="2.9"/><circle cx="534" cy="121.9" r="2.9"/><circle cx="504.5" cy="153.6" r="2.9"/><circle cx="515" cy="63.1" r="2.9"/><circle cx="538.7" cy="111.5" r="2.9"/><circle cx="507" cy="144.1" r="2.9"/><circle cx="510.6" cy="147.9" r="2.9"/><circle cx="563.8" cy="109.3" r="2.9"/><circle cx="563.5" cy="127.9" r="2.9"/><circle cx="565.8" cy="103.2" r="2.9"/><circle cx="556.1" cy="109.6" r="2.9"/><circle cx="498" cy="110.4" r="2.9"/><circle cx="514.9" cy="130.4" r="2.9"/><circle cx="498.1" cy="131.3" r="2.9"/><circle cx="516.6" cy="120.7" r="2.9"/><circle cx="544" cy="127.6" r="2.9"/><circle cx="478.5" cy="136" r="2.9"/><circle cx="565.4" cy="88.4" r="2.9"/><circle cx="488.4" cy="127.6" r="2.9"/><circle cx="545.5" cy="106.6" r="2.9"/><circle cx="547.2" cy="118.5" r="2.9"/><circle cx="539.2" cy="96.3" r="2.9"/><circle cx="512.3" cy="158.6" r="2.9"/><circle cx="527.2" cy="117.3" r="2.9"/><circle cx="462.3" cy="166.9" r="2.9"/><circle cx="553.1" cy="111.9" r="2.9"/><circle cx="534.6" cy="144" r="2.9"/><circle cx="565" cy="66.6" r="2.9"/><circle cx="523.7" cy="138.3" r="2.9"/><circle cx="488" cy="121.9" r="2.9"/><circle cx="535" cy="134.1" r="2.9"/><circle cx="576.4" cy="81.6" r="2.9"/><circle cx="553.7" cy="145.2" r="2.9"/><circle cx="527.3" cy="108.3" r="2.9"/><circle cx="485.5" cy="122.3" r="2.9"/><circle cx="584.5" cy="72.1" r="2.9"/><circle cx="504.2" cy="147.3" r="2.9"/><circle cx="566.3" cy="81.8" r="2.9"/><circle cx="577" cy="72.3" r="2.9"/><circle cx="527.4" cy="129.8" r="2.9"/><circle cx="461.9" cy="136.7" r="2.9"/><circle cx="616.1" cy="87.9" r="2.9"/><circle cx="513.4" cy="114.6" r="2.9"/><circle cx="545.1" cy="141.2" r="2.9"/><circle cx="504.5" cy="155.3" r="2.9"/><circle cx="606.6" cy="97.8" r="2.9"/><circle cx="563" cy="64.1" r="2.9"/><circle cx="601.9" cy="55.5" r="2.9"/><circle cx="518.3" cy="129.9" r="2.9"/><circle cx="527.7" cy="129.7" r="2.9"/><circle cx="519.8" cy="117.2" r="2.9"/><circle cx="503.7" cy="120.5" r="2.9"/><circle cx="514.4" cy="162.7" r="2.9"/><circle cx="499.8" cy="124.4" r="2.9"/><circle cx="574.4" cy="93.8" r="2.9"/><circle cx="535.5" cy="91.3" r="2.9"/><circle cx="581.9" cy="106.2" r="2.9"/><circle cx="511.4" cy="100" r="2.9"/><circle cx="528.3" cy="141.2" r="2.9"/><circle cx="474.7" cy="167.3" r="2.9"/><circle cx="555.9" cy="106.1" r="2.9"/><circle cx="510.8" cy="127" r="2.9"/><circle cx="494.5" cy="119.5" r="2.9"/><circle cx="552" cy="87" r="2.9"/><circle cx="527" cy="94.6" r="2.9"/><circle cx="504.8" cy="106.3" r="2.9"/><circle cx="585.2" cy="86" r="2.9"/><circle cx="589.2" cy="49.8" r="2.9"/><circle cx="497.1" cy="149.8" r="2.9"/><circle cx="486.8" cy="125.6" r="2.9"/><circle cx="507.8" cy="163.4" r="2.9"/><circle cx="531.6" cy="143.3" r="2.9"/><circle cx="602.3" cy="86.3" r="2.9"/><circle cx="554.6" cy="125" r="2.9"/><circle cx="487" cy="130" r="2.9"/><circle cx="568.9" cy="115.4" r="2.9"/><circle cx="491.9" cy="142" r="2.9"/><circle cx="558.2" cy="116.7" r="2.9"/><circle cx="587.7" cy="80.8" r="2.9"/><circle cx="531.5" cy="137" r="2.9"/><circle cx="519.3" cy="129.6" r="2.9"/><circle cx="560" cy="89.6" r="2.9"/><circle cx="493.6" cy="138" r="2.9"/><circle cx="585.6" cy="82.8" r="2.9"/><circle cx="503.9" cy="135.2" r="2.9"/><circle cx="518.2" cy="106.2" r="2.9"/><circle cx="532.4" cy="111.1" r="2.9"/><circle cx="557.2" cy="123" r="2.9"/><circle cx="540.1" cy="129" r="2.9"/><circle cx="530.1" cy="146.9" r="2.9"/><circle cx="545.1" cy="118.1" r="2.9"/><circle cx="536.2" cy="127.4" r="2.9"/><circle cx="509.7" cy="114.3" r="2.9"/><circle cx="531.3" cy="125.1" r="2.9"/><circle cx="562.7" cy="63.4" r="2.9"/><circle cx="561.5" cy="96.4" r="2.9"/><circle cx="496.7" cy="153.3" r="2.9"/><circle cx="570" cy="95.6" r="2.9"/><circle cx="533.8" cy="103.8" r="2.9"/><circle cx="512.1" cy="177.2" r="2.9"/><circle cx="532" cy="95.8" r="2.9"/><circle cx="525.1" cy="117.7" r="2.9"/><circle cx="561.2" cy="65.7" r="2.9"/><circle cx="494" cy="124.2" r="2.9"/><circle cx="598.2" cy="101.3" r="2.9"/><circle cx="564.6" cy="83.1" r="2.9"/><circle cx="598.9" cy="72.7" r="2.9"/><circle cx="530.4" cy="129" r="2.9"/><circle cx="513.2" cy="123.3" r="2.9"/><circle cx="523" cy="97.1" r="2.9"/><circle cx="568.3" cy="118.7" r="2.9"/><circle cx="605.1" cy="61.2" r="2.9"/><circle cx="488.1" cy="119.1" r="2.9"/><circle cx="574.3" cy="77.7" r="2.9"/><circle cx="515.7" cy="114" r="2.9"/><circle cx="543.8" cy="124.9" r="2.9"/><circle cx="586.2" cy="88.5" r="2.9"/><circle cx="553.4" cy="105.9" r="2.9"/><circle cx="586.1" cy="87.8" r="2.9"/><circle cx="496.3" cy="159.1" r="2.9"/><circle cx="465.2" cy="164.1" r="2.9"/><circle cx="516.7" cy="141.4" r="2.9"/><circle cx="612.1" cy="88.6" r="2.9"/><circle cx="505.1" cy="137.9" r="2.9"/><circle cx="518.7" cy="103.2" r="2.9"/><circle cx="526.9" cy="146.8" r="2.9"/><circle cx="523" cy="96.4" r="2.9"/><circle cx="545.3" cy="116" r="2.9"/><circle cx="558.9" cy="103.1" r="2.9"/><circle cx="516.1" cy="134.4" r="2.9"/><circle cx="592.3" cy="89.4" r="2.9"/><circle cx="561.3" cy="117.6" r="2.9"/><circle cx="524" cy="73.7" r="2.9"/><circle cx="464.4" cy="129.2" r="2.9"/><circle cx="539.9" cy="115.2" r="2.9"/><circle cx="494.4" cy="115.2" r="2.9"/><circle cx="512.3" cy="117.3" r="2.9"/><circle cx="574.2" cy="110.7" r="2.9"/><circle cx="503.3" cy="152.8" r="2.9"/><circle cx="476.5" cy="170.6" r="2.9"/><circle cx="526.5" cy="103.9" r="2.9"/><circle cx="519.3" cy="108.6" r="2.9"/><circle cx="588.8" cy="77.1" r="2.9"/><circle cx="575.1" cy="96.1" r="2.9"/><circle cx="571.2" cy="94.8" r="2.9"/><circle cx="466.2" cy="147" r="2.9"/><circle cx="504.7" cy="147" r="2.9"/><circle cx="533" cy="140" r="2.9"/><circle cx="510" cy="102.4" r="2.9"/><circle cx="542.2" cy="120.1" r="2.9"/><circle cx="483.7" cy="133.3" r="2.9"/><circle cx="514.3" cy="125.4" r="2.9"/><circle cx="536.9" cy="138.9" r="2.9"/><circle cx="532.1" cy="134.2" r="2.9"/><circle cx="541.6" cy="112" r="2.9"/><circle cx="517.3" cy="103.6" r="2.9"/><circle cx="504.5" cy="167.9" r="2.9"/><circle cx="513.4" cy="127.2" r="2.9"/><circle cx="552.1" cy="111.6" r="2.9"/><circle cx="541.3" cy="126" r="2.9"/><circle cx="579" cy="112.4" r="2.9"/><circle cx="526.5" cy="129.3" r="2.9"/><circle cx="522.7" cy="118.1" r="2.9"/><circle cx="510.5" cy="129.9" r="2.9"/><circle cx="553.2" cy="123.1" r="2.9"/><circle cx="465.6" cy="149.6" r="2.9"/><circle cx="518.2" cy="142.5" r="2.9"/><circle cx="550.1" cy="98.7" r="2.9"/><circle cx="572.9" cy="92.9" r="2.9"/><circle cx="538.9" cy="176.5" r="2.9"/><circle cx="556.5" cy="89.1" r="2.9"/><circle cx="530.8" cy="125.5" r="2.9"/><circle cx="535.8" cy="73.6" r="2.9"/><circle cx="554.6" cy="92" r="2.9"/><circle cx="519.5" cy="104.3" r="2.9"/><circle cx="539.9" cy="112.7" r="2.9"/><circle cx="594.5" cy="89.6" r="2.9"/><circle cx="528.5" cy="135.8" r="2.9"/><circle cx="530.2" cy="93.6" r="2.9"/><circle cx="533.3" cy="95.3" r="2.9"/><circle cx="563.5" cy="112" r="2.9"/><circle cx="476.4" cy="95.9" r="2.9"/><circle cx="523" cy="127.2" r="2.9"/><circle cx="486.8" cy="123.7" r="2.9"/><circle cx="563.1" cy="97.1" r="2.9"/><circle cx="505.7" cy="170.9" r="2.9"/><circle cx="465.6" cy="174.7" r="2.9"/><circle cx="494.9" cy="132.2" r="2.9"/><circle cx="551.3" cy="126.7" r="2.9"/><circle cx="536.2" cy="131.2" r="2.9"/><circle cx="517.5" cy="115.3" r="2.9"/><circle cx="509.9" cy="133.6" r="2.9"/><circle cx="538.6" cy="102" r="2.9"/><circle cx="499.7" cy="131.1" r="2.9"/><circle cx="569.7" cy="118.7" r="2.9"/><circle cx="464" cy="146.3" r="2.9"/><circle cx="566.3" cy="73.8" r="2.9"/><circle cx="556.4" cy="118.1" r="2.9"/><circle cx="553.8" cy="95.4" r="2.9"/><circle cx="533.9" cy="119.8" r="2.9"/><circle cx="568.3" cy="72.2" r="2.9"/><circle cx="503.8" cy="135" r="2.9"/><circle cx="566.2" cy="74.6" r="2.9"/><circle cx="603.2" cy="107.1" r="2.9"/><circle cx="580.2" cy="92.2" r="2.9"/><circle cx="527" cy="130.5" r="2.9"/><circle cx="564.2" cy="66.1" r="2.9"/><circle cx="569.7" cy="117.1" r="2.9"/><circle cx="588.2" cy="98.8" r="2.9"/><circle cx="529.6" cy="132.3" r="2.9"/><circle cx="548.2" cy="99.7" r="2.9"/><circle cx="536.6" cy="121.2" r="2.9"/><circle cx="525.8" cy="130.4" r="2.9"/><circle cx="567.4" cy="112.7" r="2.9"/><circle cx="525.6" cy="126.5" r="2.9"/><circle cx="503.2" cy="137.7" r="2.9"/><circle cx="476.5" cy="137.5" r="2.9"/><circle cx="551.3" cy="115.9" r="2.9"/><circle cx="589" cy="108.5" r="2.9"/><circle cx="551.8" cy="106.9" r="2.9"/><circle cx="561.8" cy="112.8" r="2.9"/><circle cx="552.7" cy="104.6" r="2.9"/><circle cx="533.3" cy="136.8" r="2.9"/><circle cx="495.9" cy="116.1" r="2.9"/><circle cx="514.6" cy="97.9" r="2.9"/><circle cx="553.9" cy="115.5" r="2.9"/><circle cx="510.5" cy="158.1" r="2.9"/><circle cx="603.3" cy="96.2" r="2.9"/><circle cx="536.3" cy="87.7" r="2.9"/><circle cx="564.5" cy="91.6" r="2.9"/><circle cx="520.9" cy="119.9" r="2.9"/><circle cx="506.4" cy="119.1" r="2.9"/><circle cx="500.9" cy="133.8" r="2.9"/><circle cx="551.7" cy="91.8" r="2.9"/><circle cx="508.9" cy="128.3" r="2.9"/><circle cx="517.1" cy="139.6" r="2.9"/><circle cx="559.6" cy="95.2" r="2.9"/><circle cx="512.3" cy="123" r="2.9"/><circle cx="480.8" cy="160" r="2.9"/><circle cx="476.4" cy="156.6" r="2.9"/><circle cx="568" cy="98.7" r="2.9"/><circle cx="522.3" cy="118.1" r="2.9"/><circle cx="520.8" cy="120.5" r="2.9"/><circle cx="481.6" cy="142.7" r="2.9"/><circle cx="498.7" cy="131.7" r="2.9"/><circle cx="531" cy="115" r="2.9"/><circle cx="486.1" cy="105.4" r="2.9"/><circle cx="504.5" cy="138.9" r="2.9"/><circle cx="519.4" cy="136.8" r="2.9"/><circle cx="480.5" cy="138.5" r="2.9"/><circle cx="565.1" cy="108.6" r="2.9"/><circle cx="452" cy="180.7" r="2.9"/><circle cx="538.2" cy="145" r="2.9"/><circle cx="503.3" cy="147.7" r="2.9"/><circle cx="505.3" cy="123.6" r="2.9"/><circle cx="568" cy="139.2" r="2.9"/><circle cx="470.8" cy="117.9" r="2.9"/><circle cx="460.7" cy="92.3" r="2.9"/><circle cx="491.9" cy="94.4" r="2.9"/><circle cx="481.7" cy="104" r="2.9"/><circle cx="485.5" cy="107" r="2.9"/><circle cx="548.2" cy="57.3" r="2.9"/><circle cx="570" cy="51.5" r="2.9"/><circle cx="581.8" cy="52.3" r="2.9"/><circle cx="598.5" cy="65.2" r="2.9"/><circle cx="457.7" cy="125.3" r="2.9"/><circle cx="465" cy="130.3" r="2.9"/><circle cx="470.9" cy="134.7" r="2.9"/><circle cx="451.9" cy="169.7" r="2.9"/><circle cx="454.8" cy="175" r="2.9"/><circle cx="476.7" cy="177" r="2.9"/><circle cx="501.5" cy="161" r="2.9"/><circle cx="471.4" cy="116.4" r="2.9"/><circle cx="475.5" cy="117.2" r="2.9"/><circle cx="460.5" cy="139.8" r="2.9"/><circle cx="402.6" cy="166.8" r="2.9"/><circle cx="398.1" cy="95.3" r="2.9"/><circle cx="411.5" cy="69.5" r="2.9"/><circle cx="399.6" cy="188.6" r="2.9"/><circle cx="394.3" cy="271.4" r="2.9"/><circle cx="397.8" cy="271.4" r="2.9"/><circle cx="529.6" cy="271.5" r="2.9"/><circle cx="510.3" cy="192.6" r="2.9"/><circle cx="578.2" cy="153.8" r="2.9"/></g>
<g fill="#8B0000"><circle cx="487.5" cy="67.5" r="2.9"/><circle cx="560.5" cy="82.1" r="2.9"/><circle cx="571.6" cy="91.8" r="2.9"/><circle cx="546.2" cy="104.3" r="2.9"/><circle cx="519.6" cy="109.3" r="2.9"/><circle cx="525.2" cy="107.5" r="2.9"/><circle cx="507.4" cy="117.2" r="2.9"/><circle cx="442.3" cy="154.5" r="2.9"/><circle cx="463.3" cy="144" r="2.9"/><circle cx="463.6" cy="160.4" r="2.9"/><circle cx="465" cy="169.7" r="2.9"/><circle cx="483.1" cy="139" r="2.9"/><circle cx="485.5" cy="147.8" r="2.9"/><circle cx="486.4" cy="152.8" r="2.9"/><circle cx="502.4" cy="137.6" r="2.9"/><circle cx="505.3" cy="137" r="2.9"/><circle cx="514.7" cy="136.4" r="2.9"/><circle cx="536.6" cy="126.8" r="2.9"/><circle cx="530.7" cy="132" r="2.9"/><circle cx="548" cy="125.3" r="2.9"/><circle cx="552.6" cy="134.1" r="2.9"/><circle cx="524.3" cy="139" r="2.9"/><circle cx="526.4" cy="142.8" r="2.9"/><circle cx="536" cy="139" r="2.9"/><circle cx="532.2" cy="146.4" r="2.9"/><circle cx="518.2" cy="147.8" r="2.9"/><circle cx="522.3" cy="146.4" r="2.9"/><circle cx="527.2" cy="150.7" r="2.9"/><circle cx="510.9" cy="156.6" r="2.9"/><circle cx="515.8" cy="161.5" r="2.9"/><circle cx="409.5" cy="90.8" r="2.9"/><circle cx="403.6" cy="171.2" r="2.9"/></g>
<path d="M442.8 156.3 L448.6 153.9 L454.4 151.4 L460.2 148.9 L466 146.4 L471.9 144 L477.7 141.5 L483.5 139 L489.3 136.5 L495.1 134 L500.9 131.4 L506.7 128.9 L512.5 126.3 L518.3 123.7 L524.1 121 L529.9 118.3 L535.7 115.5 L541.5 112.6 L547.3 109.7 L553.1 106.7 L558.9 103.7 L564.7 100.6 L570.5 97.5 L576.3 94.4 L582.2 91.3 L588 88.2 L593.8 85.1 L599.6 81.9 L605.4 78.8 L611.2 75.6 L617 72.5 L617 83.4 L611.2 85.9 L605.4 88.3 L599.6 90.8 L593.8 93.3 L588 95.8 L582.2 98.3 L576.3 100.8 L570.5 103.3 L564.7 105.9 L558.9 108.4 L553.1 111 L547.3 113.7 L541.5 116.3 L535.7 119.1 L529.9 121.9 L524.1 124.8 L518.3 127.8 L512.5 130.8 L506.7 133.9 L500.9 136.9 L495.1 140 L489.3 143.1 L483.5 146.3 L477.7 149.4 L471.9 152.5 L466 155.7 L460.2 158.8 L454.4 162 L448.6 165.1 L442.8 168.3Z" fill="#999" fill-opacity="0.4"/>
<line x1="442.8" y1="162.3" x2="617" y2="77.9" stroke="#FF0000" stroke-width="3"/>
<line x1="391.2" y1="165.3" x2="416.1" y2="165.3" stroke="#FF0000" stroke-width="3"/>
<rect x="377.5" y="23.5" width="307" height="277" fill="none" stroke="#333333" stroke-width="0.85"/>
<line x1="391.2" y1="300.5" x2="391.2" y2="303.8" stroke="#333333" stroke-width="0.9"/>
<text x="391.2" y="314.9" font-size="10.56" fill="#4D4D4D" text-anchor="middle">1</text>
<line x1="374.2" y1="288.3" x2="377.5" y2="288.3" stroke="#333333" stroke-width="0.9"/>
<text x="371.6" y="292.1" font-size="10.56" fill="#4D4D4D" text-anchor="end">1</text>
<line x1="453.4" y1="300.5" x2="453.4" y2="303.8" stroke="#333333" stroke-width="0.9"/>
<text x="453.4" y="314.9" font-size="10.56" fill="#4D4D4D" text-anchor="middle">2</text>
<line x1="374.2" y1="232.1" x2="377.5" y2="232.1" stroke="#333333" stroke-width="0.9"/>
<text x="371.6" y="235.9" font-size="10.56" fill="#4D4D4D" text-anchor="end">2</text>
<line x1="515.6" y1="300.5" x2="515.6" y2="303.8" stroke="#333333" stroke-width="0.9"/>
<text x="515.6" y="314.9" font-size="10.56" fill="#4D4D4D" text-anchor="middle">3</text>
<line x1="374.2" y1="175.8" x2="377.5" y2="175.8" stroke="#333333" stroke-width="0.9"/>
<text x="371.6" y="179.6" font-size="10.56" fill="#4D4D4D" text-anchor="end">3</text>
<line x1="577.8" y1="300.5" x2="577.8" y2="303.8" stroke="#333333" stroke-width="0.9"/>
<text x="577.8" y="314.9" font-size="10.56" fill="#4D4D4D" text-anchor="middle">4</text>
<line x1="374.2" y1="119.6" x2="377.5" y2="119.6" stroke="#333333" stroke-width="0.9"/>
<text x="371.6" y="123.4" font-size="10.56" fill="#4D4D4D" text-anchor="end">4</text>
<line x1="640" y1="300.5" x2="640" y2="303.8" stroke="#333333" stroke-width="0.9"/>
<text x="640" y="314.9" font-size="10.56" fill="#4D4D4D" text-anchor="middle">5</text>
<line x1="374.2" y1="63.3" x2="377.5" y2="63.3" stroke="#333333" stroke-width="0.9"/>
<text x="371.6" y="67.1" font-size="10.56" fill="#4D4D4D" text-anchor="end">5</text>
<text x="531" y="330" font-size="13.3" text-anchor="middle">log10 nAb ID50 at Day1 (BA.1)</text>
<text transform="translate(358.9,161.3) rotate(-90)" x="0" y="0" font-size="13.35" text-anchor="middle">log10 nAb ID50 at Day15 (BA.1)</text>
<text x="526" y="12.9" font-size="15.6" text-anchor="middle">Non−naive</text>
<path d="M391.2 53.5V46.7H422.3V53.5" fill="none" stroke="#333333" stroke-width="1.4"/>
<text x="406.8" y="44.1" font-size="13.2" text-anchor="middle">&lt;LLOQ</text>
<text x="0.8" y="12.6" font-size="17.5" font-weight="bold">a</text>
<text x="346.5" y="12.6" font-size="17.5" font-weight="bold">b</text>
<text x="39.6" y="418.4" font-size="17.5" font-weight="bold">c</text>
<text x="39.0" y="671.8" font-size="17.5" font-weight="bold">d</text>
<circle cx="168" cy="363.4" r="3" fill="#FFA500" fill-opacity="0.52"/>
<text x="185.6" y="367.2" font-size="10.8">Naive, non-case</text>
<circle cx="324.3" cy="363.2" r="3" fill="#8B0000"/>
<text x="341.2" y="367.2" font-size="10.8">COVID-19 case</text>
<circle cx="503.9" cy="363.5" r="3" fill="#4169E1" fill-opacity="0.5"/>
<text x="521.2" y="367.2" font-size="10.8">Non−Naive, non-case</text>
<rect x="102.1" y="424.0" width="283.6" height="226.7" fill="#fff"/>
<line x1="102.1" y1="493.1" x2="385.7" y2="493.1" stroke="#C4C4C4" stroke-width="1.05" stroke-dasharray="3.5 3.3"/>
<line x1="102.1" y1="587.3" x2="385.7" y2="587.3" stroke="#C4C4C4" stroke-width="1.05" stroke-dasharray="3.5 3.3"/>
<g fill="#CC0000" fill-opacity="0.2"><circle cx="153.1" cy="554.7" r="2.5"/><circle cx="141.6" cy="581.8" r="2.5"/><circle cx="141.7" cy="579.8" r="2.5"/><circle cx="132.9" cy="550.2" r="2.5"/><circle cx="153.2" cy="567.6" r="2.5"/><circle cx="155.8" cy="509.8" r="2.5"/><circle cx="132.5" cy="547.1" r="2.5"/><circle cx="149" cy="552.9" r="2.5"/><circle cx="153.9" cy="528.9" r="2.5"/><circle cx="142.1" cy="541.8" r="2.5"/><circle cx="159.4" cy="562.1" r="2.5"/><circle cx="152.9" cy="574.8" r="2.5"/><circle cx="143.7" cy="529.5" r="2.5"/><circle cx="151.5" cy="568.5" r="2.5"/><circle cx="137.2" cy="553.6" r="2.5"/><circle cx="131.5" cy="526.6" r="2.5"/><circle cx="159.8" cy="512.9" r="2.5"/><circle cx="133.6" cy="546.6" r="2.5"/><circle cx="141.2" cy="552.1" r="2.5"/><circle cx="157.4" cy="536.5" r="2.5"/><circle cx="150.9" cy="574.2" r="2.5"/><circle cx="140.5" cy="569.6" r="2.5"/><circle cx="139.4" cy="541.7" r="2.5"/><circle cx="137.1" cy="555" r="2.5"/><circle cx="148.5" cy="568.4" r="2.5"/><circle cx="150" cy="567" r="2.5"/><circle cx="135.6" cy="568" r="2.5"/><circle cx="144.4" cy="550.8" r="2.5"/><circle cx="137.5" cy="556.9" r="2.5"/><circle cx="154.3" cy="556.6" r="2.5"/><circle cx="131.1" cy="545.2" r="2.5"/><circle cx="131.3" cy="563.4" r="2.5"/><circle cx="148.6" cy="568.9" r="2.5"/><circle cx="150.5" cy="568.4" r="2.5"/><circle cx="141.8" cy="555.4" r="2.5"/><circle cx="130" cy="518.8" r="2.5"/><circle cx="132.1" cy="527" r="2.5"/><circle cx="156.9" cy="551.7" r="2.5"/><circle cx="146.8" cy="532.1" r="2.5"/><circle cx="130.3" cy="556.4" r="2.5"/><circle cx="158.8" cy="552.2" r="2.5"/><circle cx="130.2" cy="549.5" r="2.5"/><circle cx="138.5" cy="555.3" r="2.5"/><circle cx="135.5" cy="537.4" r="2.5"/><circle cx="159.6" cy="552.2" r="2.5"/><circle cx="136.5" cy="543.2" r="2.5"/><circle cx="152.7" cy="538.4" r="2.5"/><circle cx="143.9" cy="573.1" r="2.5"/><circle cx="134.7" cy="569.1" r="2.5"/><circle cx="146.4" cy="541.3" r="2.5"/><circle cx="151.9" cy="565.6" r="2.5"/><circle cx="143.8" cy="528.7" r="2.5"/><circle cx="151.4" cy="540.3" r="2.5"/><circle cx="134.1" cy="551.8" r="2.5"/><circle cx="142.2" cy="562.4" r="2.5"/><circle cx="154.6" cy="573.4" r="2.5"/><circle cx="135.3" cy="561.2" r="2.5"/><circle cx="136.9" cy="548" r="2.5"/><circle cx="133.4" cy="571.8" r="2.5"/><circle cx="150.6" cy="558.4" r="2.5"/><circle cx="154.8" cy="561.8" r="2.5"/><circle cx="146.7" cy="581.4" r="2.5"/><circle cx="147.1" cy="535.8" r="2.5"/><circle cx="127.3" cy="532.6" r="2.5"/><circle cx="156" cy="550.4" r="2.5"/><circle cx="149.7" cy="532.2" r="2.5"/><circle cx="134.5" cy="548.5" r="2.5"/><circle cx="151.6" cy="548.2" r="2.5"/><circle cx="133.5" cy="545.1" r="2.5"/><circle cx="148.7" cy="557.6" r="2.5"/><circle cx="156" cy="552.1" r="2.5"/><circle cx="153.2" cy="541.8" r="2.5"/><circle cx="159.3" cy="518.5" r="2.5"/><circle cx="130.2" cy="558.5" r="2.5"/><circle cx="133.5" cy="554.8" r="2.5"/><circle cx="140.5" cy="556.9" r="2.5"/><circle cx="146" cy="575.4" r="2.5"/><circle cx="139.1" cy="550.2" r="2.5"/><circle cx="132.4" cy="507.1" r="2.5"/><circle cx="128.8" cy="537.1" r="2.5"/><circle cx="156.1" cy="532.2" r="2.5"/><circle cx="135.3" cy="523.4" r="2.5"/><circle cx="141.8" cy="560.5" r="2.5"/><circle cx="148.7" cy="583.9" r="2.5"/><circle cx="132.3" cy="564.3" r="2.5"/><circle cx="133.7" cy="563.3" r="2.5"/><circle cx="147.9" cy="559.1" r="2.5"/><circle cx="126.9" cy="568.8" r="2.5"/><circle cx="128.6" cy="545.3" r="2.5"/><circle cx="127.1" cy="535.2" r="2.5"/><circle cx="125.9" cy="575.8" r="2.5"/><circle cx="145.3" cy="547.1" r="2.5"/><circle cx="136.1" cy="564" r="2.5"/><circle cx="136.2" cy="518.6" r="2.5"/><circle cx="129.8" cy="572.5" r="2.5"/><circle cx="127.5" cy="550.5" r="2.5"/><circle cx="132.3" cy="561.7" r="2.5"/><circle cx="145.4" cy="557.5" r="2.5"/><circle cx="150.8" cy="557.6" r="2.5"/><circle cx="153.7" cy="561.8" r="2.5"/><circle cx="127.6" cy="532.9" r="2.5"/><circle cx="127.5" cy="559.5" r="2.5"/><circle cx="126.3" cy="567.4" r="2.5"/><circle cx="125.7" cy="531.1" r="2.5"/><circle cx="150.7" cy="551.2" r="2.5"/><circle cx="136.4" cy="570.2" r="2.5"/><circle cx="152.2" cy="537.6" r="2.5"/><circle cx="159.5" cy="536.3" r="2.5"/><circle cx="135" cy="533.8" r="2.5"/><circle cx="130.3" cy="554.2" r="2.5"/><circle cx="126.6" cy="573.6" r="2.5"/><circle cx="150.4" cy="513.6" r="2.5"/><circle cx="153.2" cy="579.8" r="2.5"/><circle cx="125.7" cy="570.7" r="2.5"/><circle cx="131.8" cy="544.6" r="2.5"/><circle cx="126.2" cy="533.5" r="2.5"/><circle cx="144.1" cy="561" r="2.5"/><circle cx="146.1" cy="570.6" r="2.5"/><circle cx="135.2" cy="559.8" r="2.5"/><circle cx="136" cy="567" r="2.5"/><circle cx="150.4" cy="582.4" r="2.5"/><circle cx="156.7" cy="558.9" r="2.5"/><circle cx="151.2" cy="560.5" r="2.5"/><circle cx="143.4" cy="553.6" r="2.5"/><circle cx="159.4" cy="579.4" r="2.5"/><circle cx="125.4" cy="547.5" r="2.5"/><circle cx="148.2" cy="533.6" r="2.5"/><circle cx="129.1" cy="553.8" r="2.5"/><circle cx="150.3" cy="560.6" r="2.5"/><circle cx="147.4" cy="579.5" r="2.5"/><circle cx="127.5" cy="567.7" r="2.5"/><circle cx="156.1" cy="549.5" r="2.5"/><circle cx="140.2" cy="564.2" r="2.5"/><circle cx="146.5" cy="525.7" r="2.5"/><circle cx="126.4" cy="585.8" r="2.5"/><circle cx="132" cy="552.9" r="2.5"/><circle cx="149.5" cy="552.1" r="2.5"/><circle cx="142.3" cy="564.3" r="2.5"/><circle cx="133.3" cy="556.7" r="2.5"/><circle cx="142" cy="561.4" r="2.5"/><circle cx="130.6" cy="512.5" r="2.5"/><circle cx="151.8" cy="554" r="2.5"/><circle cx="153.4" cy="564.9" r="2.5"/><circle cx="158.8" cy="562.8" r="2.5"/><circle cx="128.2" cy="559.9" r="2.5"/><circle cx="146.2" cy="532.3" r="2.5"/><circle cx="151.9" cy="583.8" r="2.5"/><circle cx="129.4" cy="563.6" r="2.5"/><circle cx="151.1" cy="541.7" r="2.5"/><circle cx="145.4" cy="561.4" r="2.5"/><circle cx="127.1" cy="575" r="2.5"/><circle cx="148.6" cy="536.4" r="2.5"/><circle cx="152.1" cy="571.7" r="2.5"/><circle cx="134.1" cy="531" r="2.5"/><circle cx="143.4" cy="539.8" r="2.5"/><circle cx="135.1" cy="541" r="2.5"/><circle cx="139" cy="544.3" r="2.5"/><circle cx="146.1" cy="568.7" r="2.5"/><circle cx="126.1" cy="555.8" r="2.5"/><circle cx="155.9" cy="567.9" r="2.5"/><circle cx="130.5" cy="566.7" r="2.5"/><circle cx="159.3" cy="569" r="2.5"/><circle cx="140" cy="588.3" r="2.5"/><circle cx="138.6" cy="539.7" r="2.5"/><circle cx="154.3" cy="516.1" r="2.5"/><circle cx="151.7" cy="537.1" r="2.5"/><circle cx="138.2" cy="556.5" r="2.5"/><circle cx="159.1" cy="541.5" r="2.5"/><circle cx="142.1" cy="564.5" r="2.5"/><circle cx="152.3" cy="562.2" r="2.5"/><circle cx="146.7" cy="536.2" r="2.5"/><circle cx="142.8" cy="570.1" r="2.5"/><circle cx="135.7" cy="529.6" r="2.5"/><circle cx="158.1" cy="546.3" r="2.5"/><circle cx="157.9" cy="525.6" r="2.5"/><circle cx="138.9" cy="564.9" r="2.5"/><circle cx="130.1" cy="548.2" r="2.5"/><circle cx="141.2" cy="549.5" r="2.5"/><circle cx="159.2" cy="529.3" r="2.5"/><circle cx="134.5" cy="569.2" r="2.5"/><circle cx="138.9" cy="573.3" r="2.5"/><circle cx="134.5" cy="555.2" r="2.5"/><circle cx="130.1" cy="579.5" r="2.5"/><circle cx="126.8" cy="549.1" r="2.5"/><circle cx="155.8" cy="572.9" r="2.5"/><circle cx="133.1" cy="553.6" r="2.5"/><circle cx="127.5" cy="584.2" r="2.5"/><circle cx="127.6" cy="560.2" r="2.5"/><circle cx="151.7" cy="574.6" r="2.5"/><circle cx="132.9" cy="540.4" r="2.5"/><circle cx="137.6" cy="516.9" r="2.5"/><circle cx="131.4" cy="554.6" r="2.5"/><circle cx="145.4" cy="560.5" r="2.5"/><circle cx="134.7" cy="580.8" r="2.5"/><circle cx="156.8" cy="543" r="2.5"/><circle cx="140" cy="548.6" r="2.5"/><circle cx="135.6" cy="569.3" r="2.5"/><circle cx="129.4" cy="556.3" r="2.5"/><circle cx="128.9" cy="568" r="2.5"/><circle cx="145.7" cy="555.5" r="2.5"/><circle cx="139.6" cy="563.8" r="2.5"/><circle cx="127.6" cy="528.1" r="2.5"/><circle cx="155.7" cy="563.2" r="2.5"/><circle cx="139.9" cy="544.1" r="2.5"/><circle cx="145.1" cy="518.8" r="2.5"/><circle cx="143.2" cy="524.5" r="2.5"/><circle cx="152.2" cy="540.5" r="2.5"/><circle cx="134.8" cy="547.4" r="2.5"/><circle cx="143.3" cy="537" r="2.5"/><circle cx="136.7" cy="555.7" r="2.5"/><circle cx="130.2" cy="571.7" r="2.5"/><circle cx="157.4" cy="540.5" r="2.5"/><circle cx="135.2" cy="550.2" r="2.5"/><circle cx="141.8" cy="565.6" r="2.5"/><circle cx="130" cy="566.9" r="2.5"/><circle cx="160.2" cy="564.3" r="2.5"/><circle cx="131" cy="554.4" r="2.5"/><circle cx="145.6" cy="561.5" r="2.5"/><circle cx="155.9" cy="556.1" r="2.5"/><circle cx="137" cy="581.5" r="2.5"/><circle cx="140" cy="577.7" r="2.5"/><circle cx="125.3" cy="566.8" r="2.5"/><circle cx="150.9" cy="559.5" r="2.5"/><circle cx="146.8" cy="544" r="2.5"/><circle cx="142.6" cy="570.3" r="2.5"/><circle cx="126.8" cy="568.1" r="2.5"/><circle cx="129.5" cy="546.7" r="2.5"/><circle cx="154.3" cy="575.5" r="2.5"/><circle cx="147.9" cy="557.2" r="2.5"/><circle cx="142.9" cy="550.9" r="2.5"/><circle cx="151" cy="537.7" r="2.5"/><circle cx="149.3" cy="566.9" r="2.5"/><circle cx="127.3" cy="574.4" r="2.5"/><circle cx="126.2" cy="541.4" r="2.5"/><circle cx="147.1" cy="570.3" r="2.5"/><circle cx="150.4" cy="573.9" r="2.5"/><circle cx="127.6" cy="587.9" r="2.5"/><circle cx="138.2" cy="529.1" r="2.5"/><circle cx="158.7" cy="533.5" r="2.5"/><circle cx="126.2" cy="539.1" r="2.5"/><circle cx="149.2" cy="561.1" r="2.5"/><circle cx="157.4" cy="567.3" r="2.5"/><circle cx="148.4" cy="570.1" r="2.5"/><circle cx="150.3" cy="557.9" r="2.5"/><circle cx="136.8" cy="538.4" r="2.5"/><circle cx="144" cy="567.9" r="2.5"/><circle cx="128.6" cy="574.3" r="2.5"/><circle cx="130.3" cy="553.1" r="2.5"/><circle cx="130.5" cy="524.4" r="2.5"/><circle cx="125.5" cy="536.8" r="2.5"/><circle cx="157.7" cy="573.8" r="2.5"/><circle cx="142" cy="552.8" r="2.5"/><circle cx="157.5" cy="571" r="2.5"/><circle cx="131.3" cy="553.3" r="2.5"/><circle cx="154.1" cy="536.9" r="2.5"/><circle cx="144.1" cy="572.2" r="2.5"/><circle cx="150.9" cy="552.1" r="2.5"/><circle cx="155.3" cy="535.2" r="2.5"/><circle cx="149" cy="568.8" r="2.5"/><circle cx="130.6" cy="540.8" r="2.5"/><circle cx="137.3" cy="583.8" r="2.5"/><circle cx="155.5" cy="540.1" r="2.5"/><circle cx="154.1" cy="524.1" r="2.5"/><circle cx="143" cy="543.8" r="2.5"/><circle cx="141.1" cy="574.8" r="2.5"/><circle cx="139.5" cy="557.7" r="2.5"/><circle cx="140.7" cy="536.9" r="2.5"/><circle cx="138.1" cy="577.8" r="2.5"/><circle cx="131.4" cy="552.9" r="2.5"/><circle cx="127.7" cy="566.7" r="2.5"/><circle cx="155.2" cy="561.1" r="2.5"/><circle cx="141.9" cy="575" r="2.5"/><circle cx="151.5" cy="588.5" r="2.5"/><circle cx="135" cy="564.1" r="2.5"/><circle cx="126.5" cy="539.4" r="2.5"/><circle cx="133.8" cy="572.4" r="2.5"/><circle cx="142.9" cy="543.5" r="2.5"/><circle cx="158" cy="553.7" r="2.5"/><circle cx="127.6" cy="526.5" r="2.5"/><circle cx="154.5" cy="565.3" r="2.5"/><circle cx="131.2" cy="569.1" r="2.5"/><circle cx="131.4" cy="522.7" r="2.5"/><circle cx="125.7" cy="563.4" r="2.5"/><circle cx="144.8" cy="564.5" r="2.5"/><circle cx="134.4" cy="523.9" r="2.5"/><circle cx="128.1" cy="539.7" r="2.5"/><circle cx="139" cy="551.9" r="2.5"/><circle cx="125.6" cy="525" r="2.5"/><circle cx="125.5" cy="551.2" r="2.5"/><circle cx="132.5" cy="525.6" r="2.5"/><circle cx="135.2" cy="558.4" r="2.5"/><circle cx="157.5" cy="564.4" r="2.5"/><circle cx="142.4" cy="562.1" r="2.5"/><circle cx="131.8" cy="560.8" r="2.5"/><circle cx="128.6" cy="540.5" r="2.5"/><circle cx="141.9" cy="565.4" r="2.5"/><circle cx="136.2" cy="553.1" r="2.5"/><circle cx="130" cy="552.7" r="2.5"/><circle cx="132.1" cy="538.7" r="2.5"/><circle cx="134.7" cy="525" r="2.5"/><circle cx="137.6" cy="580.6" r="2.5"/><circle cx="126" cy="561.2" r="2.5"/><circle cx="148.6" cy="542.2" r="2.5"/><circle cx="144.1" cy="563.5" r="2.5"/><circle cx="143" cy="553.8" r="2.5"/><circle cx="149.2" cy="558.2" r="2.5"/><circle cx="157.7" cy="553.9" r="2.5"/><circle cx="149.9" cy="562.4" r="2.5"/><circle cx="151.7" cy="554.4" r="2.5"/><circle cx="152.1" cy="545.7" r="2.5"/><circle cx="160" cy="538.4" r="2.5"/><circle cx="152.5" cy="584.8" r="2.5"/><circle cx="152.9" cy="557.3" r="2.5"/><circle cx="142.3" cy="576.1" r="2.5"/><circle cx="158.8" cy="554" r="2.5"/><circle cx="152.2" cy="566.7" r="2.5"/><circle cx="147.6" cy="546.4" r="2.5"/><circle cx="145" cy="543" r="2.5"/><circle cx="135.8" cy="582.4" r="2.5"/><circle cx="148.7" cy="571.8" r="2.5"/><circle cx="134.4" cy="541.5" r="2.5"/><circle cx="129.5" cy="531.2" r="2.5"/><circle cx="135.6" cy="530.4" r="2.5"/><circle cx="129.4" cy="555.2" r="2.5"/><circle cx="130.3" cy="545.7" r="2.5"/><circle cx="140.7" cy="569.4" r="2.5"/><circle cx="155.9" cy="567.6" r="2.5"/><circle cx="134.4" cy="536.7" r="2.5"/><circle cx="125.5" cy="565" r="2.5"/><circle cx="128.2" cy="548.5" r="2.5"/><circle cx="141.2" cy="536.9" r="2.5"/><circle cx="152.5" cy="541.3" r="2.5"/><circle cx="148.8" cy="545.7" r="2.5"/><circle cx="130.5" cy="545.5" r="2.5"/><circle cx="148.9" cy="535" r="2.5"/><circle cx="136.3" cy="528.8" r="2.5"/><circle cx="155.1" cy="542.9" r="2.5"/><circle cx="128.3" cy="542" r="2.5"/><circle cx="132.6" cy="574" r="2.5"/><circle cx="143.6" cy="519.5" r="2.5"/><circle cx="159.6" cy="578.5" r="2.5"/><circle cx="135.1" cy="564.1" r="2.5"/><circle cx="149.1" cy="557.6" r="2.5"/><circle cx="133.2" cy="529.5" r="2.5"/><circle cx="134.6" cy="545" r="2.5"/><circle cx="157.9" cy="552.3" r="2.5"/><circle cx="146.8" cy="565.2" r="2.5"/><circle cx="133" cy="537" r="2.5"/><circle cx="158.6" cy="508.5" r="2.5"/><circle cx="152.6" cy="535.6" r="2.5"/><circle cx="156.2" cy="542.9" r="2.5"/><circle cx="141.4" cy="582.3" r="2.5"/><circle cx="135.9" cy="530.8" r="2.5"/><circle cx="142.4" cy="553.3" r="2.5"/><circle cx="158.4" cy="559.9" r="2.5"/><circle cx="150.2" cy="551.6" r="2.5"/><circle cx="149.4" cy="512.5" r="2.5"/><circle cx="126.2" cy="528.1" r="2.5"/><circle cx="149.8" cy="559.5" r="2.5"/><circle cx="156.4" cy="556.6" r="2.5"/><circle cx="130.1" cy="553.5" r="2.5"/><circle cx="146.9" cy="573.6" r="2.5"/><circle cx="134.6" cy="565" r="2.5"/><circle cx="145" cy="557.8" r="2.5"/><circle cx="128" cy="557.6" r="2.5"/><circle cx="159.8" cy="554.5" r="2.5"/><circle cx="141.8" cy="543.2" r="2.5"/><circle cx="158.7" cy="550.4" r="2.5"/><circle cx="144.5" cy="545.9" r="2.5"/><circle cx="129.3" cy="551.6" r="2.5"/><circle cx="153.8" cy="529.9" r="2.5"/><circle cx="138.8" cy="566" r="2.5"/><circle cx="125.4" cy="561.3" r="2.5"/><circle cx="145.9" cy="551.7" r="2.5"/><circle cx="150.9" cy="587.4" r="2.5"/><circle cx="144.5" cy="525.6" r="2.5"/><circle cx="146.4" cy="553.3" r="2.5"/><circle cx="147.3" cy="543.5" r="2.5"/><circle cx="149.2" cy="535.2" r="2.5"/><circle cx="131.3" cy="533.3" r="2.5"/><circle cx="153.9" cy="557.7" r="2.5"/><circle cx="140.2" cy="566.3" r="2.5"/><circle cx="144.1" cy="578.8" r="2.5"/><circle cx="133.8" cy="566.6" r="2.5"/><circle cx="125.3" cy="555.3" r="2.5"/><circle cx="142.6" cy="532.2" r="2.5"/><circle cx="145.7" cy="559.4" r="2.5"/><circle cx="145" cy="550.5" r="2.5"/><circle cx="129.3" cy="572.8" r="2.5"/><circle cx="149.8" cy="553.4" r="2.5"/></g>
<path d="M143.8 498.3 L143.8 499.2 L143.9 500.4 L143.9 501.8 L144 503.3 L144.1 504.8 L144.2 506 L144.4 507 L144.5 508 L144.7 508.8 L145 509.7 L145.2 510.5 L145.5 511.4 L145.8 512.3 L146.1 513.2 L146.5 514.1 L146.9 515.1 L147.3 516 L147.7 516.9 L148.1 517.8 L148.6 518.7 L149.1 519.7 L149.6 520.6 L150 521.5 L150.5 522.4 L150.9 523.3 L151.4 524.2 L151.8 525.1 L152.3 526 L152.7 526.9 L153.2 527.8 L153.7 528.7 L154.2 529.6 L154.8 530.5 L155.3 531.5 L155.9 532.4 L156.5 533.3 L157.2 534.2 L157.8 535.1 L158.5 536 L159.3 537 L160 537.9 L160.8 538.8 L161.6 539.7 L162.5 540.6 L163.3 541.6 L164.2 542.5 L165 543.4 L165.8 544.3 L166.5 545.2 L167.2 546.1 L167.8 547 L168.5 547.9 L169 548.8 L169.6 549.7 L170.1 550.6 L170.7 551.6 L171.2 552.5 L171.6 553.4 L172 554.3 L172.4 555.2 L172.7 556 L173 556.7 L173.2 557.3 L173.4 558 L173.5 558.8 L173.5 559.6 L173.4 560.6 L173.3 561.7 L173.1 562.8 L172.8 564 L172.3 565.1 L171.8 566.2 L171.2 567.2 L170.4 568.1 L169.6 569 L168.6 569.8 L167.5 570.7 L166.3 571.6 L164.9 572.5 L163.2 573.5 L161.3 574.4 L159.5 575.3 L157.9 576.2 L156.5 577.1 L155.4 577.9 L154.5 578.7 L153.8 579.4 L153.1 580.2 L152.6 580.8 L152.1 581.5 L151.7 582.1 L151.3 582.7 L151.1 583.2 L150.9 583.7 L150.8 584.3 L150.8 584.8 L150.8 585.3 L150.9 585.9 L151 586.4 L151.3 587 L151.6 587.5 L152.1 588.1 L152.7 588.7 L153.5 589.2 L154.5 589.8 L155.5 590.3 L156.5 590.9 L157.6 591.4 L158.8 591.9 L160.1 592.5 L161.4 593 L162.8 593.6 L164.1 594.1 L165.2 594.6 L166.2 595.1 L167.2 595.7 L168.2 596.2 L169 596.7 L169.7 597.1 L170.2 597.4 L115.4 597.4 L115.9 597.1 L116.6 596.7 L117.4 596.2 L118.4 595.7 L119.4 595.1 L120.4 594.6 L121.5 594.1 L122.8 593.6 L124.2 593 L125.5 592.5 L126.8 591.9 L128 591.4 L129.1 590.9 L130.1 590.3 L131.1 589.8 L132.1 589.2 L132.9 588.7 L133.5 588.1 L134 587.5 L134.3 587 L134.6 586.4 L134.7 585.9 L134.8 585.3 L134.8 584.8 L134.8 584.3 L134.7 583.7 L134.5 583.2 L134.3 582.7 L133.9 582.1 L133.5 581.5 L133 580.8 L132.5 580.2 L131.8 579.4 L131.1 578.7 L130.2 577.9 L129.1 577.1 L127.7 576.2 L126.1 575.3 L124.3 574.4 L122.4 573.5 L120.7 572.5 L119.3 571.6 L118.1 570.7 L117 569.8 L116 569 L115.2 568.1 L114.4 567.2 L113.8 566.2 L113.3 565.1 L112.8 564 L112.5 562.8 L112.3 561.7 L112.2 560.6 L112.1 559.6 L112.1 558.8 L112.2 558 L112.4 557.3 L112.6 556.7 L112.9 556 L113.2 555.2 L113.6 554.3 L114 553.4 L114.4 552.5 L114.9 551.6 L115.5 550.6 L116 549.7 L116.6 548.8 L117.1 547.9 L117.8 547 L118.4 546.1 L119.1 545.2 L119.8 544.3 L120.6 543.4 L121.4 542.5 L122.3 541.6 L123.1 540.6 L124 539.7 L124.8 538.8 L125.6 537.9 L126.3 537 L127.1 536 L127.8 535.1 L128.4 534.2 L129.1 533.3 L129.7 532.4 L130.3 531.5 L130.9 530.5 L131.4 529.6 L131.9 528.7 L132.4 527.8 L132.9 526.9 L133.3 526 L133.8 525.1 L134.2 524.2 L134.7 523.3 L135.1 522.4 L135.6 521.5 L136 520.6 L136.5 519.7 L137 518.7 L137.5 517.8 L137.9 516.9 L138.3 516 L138.7 515.1 L139.1 514.1 L139.5 513.2 L139.8 512.3 L140.1 511.4 L140.4 510.5 L140.6 509.7 L140.9 508.8 L141.1 508 L141.2 507 L141.4 506 L141.5 504.8 L141.6 503.3 L141.7 501.8 L141.7 500.4 L141.8 499.2 L141.8 498.3Z" fill="none" stroke="#CC0000" stroke-width="1.05" stroke-linejoin="round"/>
<g fill="none" stroke="#444" stroke-opacity="0.3" stroke-width="0.85"><path d="M138.2 594.2L140.9 599L135.5 599Z"/><path d="M128.5 594.2L131.2 599L125.8 599Z"/><path d="M152.6 594.2L155.3 599L149.9 599Z"/><path d="M150.6 594.2L153.3 599L147.9 599Z"/><path d="M141.7 594.2L144.4 599L139 599Z"/><path d="M134.3 594.2L137 599L131.6 599Z"/><path d="M137.8 594.2L140.5 599L135.1 599Z"/><path d="M158.9 594.2L161.6 599L156.2 599Z"/><path d="M141.4 594.2L144.1 599L138.7 599Z"/><path d="M132.1 594.2L134.8 599L129.4 599Z"/><path d="M160.8 594.2L163.5 599L158.1 599Z"/><path d="M160.5 594.2L163.2 599L157.8 599Z"/><path d="M130.8 594.2L133.5 599L128.1 599Z"/><path d="M131.6 594.2L134.3 599L128.9 599Z"/><path d="M151.3 594.2L154 599L148.6 599Z"/><path d="M138.6 594.2L141.3 599L135.9 599Z"/><path d="M141.8 594.2L144.5 599L139.1 599Z"/><path d="M149.6 594.2L152.3 599L146.9 599Z"/><path d="M134.4 594.2L137.1 599L131.7 599Z"/><path d="M146.3 594.2L149 599L143.6 599Z"/><path d="M131.9 594.2L134.6 599L129.2 599Z"/><path d="M132.5 594.2L135.2 599L129.8 599Z"/><path d="M144.5 594.2L147.2 599L141.8 599Z"/><path d="M140.1 594.2L142.8 599L137.4 599Z"/><path d="M157.4 594.2L160.1 599L154.7 599Z"/><path d="M129.6 594.2L132.3 599L126.9 599Z"/><path d="M158.2 594.2L160.9 599L155.5 599Z"/><path d="M134 594.2L136.7 599L131.3 599Z"/><path d="M137 594.2L139.7 599L134.3 599Z"/><path d="M128.2 594.2L130.9 599L125.5 599Z"/><path d="M136 594.2L138.7 599L133.3 599Z"/><path d="M160.6 594.2L163.3 599L157.9 599Z"/><path d="M137.7 594.2L140.4 599L135 599Z"/><path d="M155.2 594.2L157.9 599L152.5 599Z"/><path d="M160.4 594.2L163.1 599L157.7 599Z"/><path d="M150 594.2L152.7 599L147.3 599Z"/><path d="M131.1 594.2L133.8 599L128.4 599Z"/><path d="M140.3 594.2L143 599L137.6 599Z"/><path d="M130.5 594.2L133.2 599L127.8 599Z"/><path d="M133.5 594.2L136.2 599L130.8 599Z"/><path d="M136.7 594.2L139.4 599L134 599Z"/><path d="M130.4 594.2L133.1 599L127.7 599Z"/><path d="M149.5 594.2L152.2 599L146.8 599Z"/><path d="M143.6 594.2L146.3 599L140.9 599Z"/><path d="M135.1 594.2L137.8 599L132.4 599Z"/><path d="M133.7 594.2L136.4 599L131 599Z"/><path d="M129.6 594.2L132.3 599L126.9 599Z"/><path d="M128.5 594.2L131.2 599L125.8 599Z"/><path d="M140.5 594.2L143.2 599L137.8 599Z"/><path d="M127.1 594.2L129.8 599L124.4 599Z"/><path d="M143.6 594.2L146.3 599L140.9 599Z"/><path d="M133.7 594.2L136.4 599L131 599Z"/><path d="M152.9 594.2L155.6 599L150.2 599Z"/><path d="M134.2 594.2L136.9 599L131.5 599Z"/><path d="M156 594.2L158.7 599L153.3 599Z"/><path d="M159.3 594.2L162 599L156.6 599Z"/><path d="M158.7 594.2L161.4 599L156 599Z"/><path d="M132.7 594.2L135.4 599L130 599Z"/><path d="M158.7 594.2L161.4 599L156 599Z"/><path d="M141.8 594.2L144.5 599L139.1 599Z"/><path d="M157 594.2L159.7 599L154.3 599Z"/><path d="M141.5 594.2L144.2 599L138.8 599Z"/><path d="M144.3 594.2L147 599L141.6 599Z"/><path d="M133.9 594.2L136.6 599L131.2 599Z"/><path d="M152.3 594.2L155 599L149.6 599Z"/><path d="M137.9 594.2L140.6 599L135.2 599Z"/><path d="M157 594.2L159.7 599L154.3 599Z"/><path d="M150.5 594.2L153.2 599L147.8 599Z"/><path d="M140.2 594.2L142.9 599L137.5 599Z"/><path d="M125.5 594.2L128.2 599L122.8 599Z"/><path d="M134.2 594.2L136.9 599L131.5 599Z"/><path d="M139.7 594.2L142.4 599L137 599Z"/><path d="M138 594.2L140.7 599L135.3 599Z"/><path d="M145.9 594.2L148.6 599L143.2 599Z"/><path d="M124.5 594.2L127.2 599L121.8 599Z"/><path d="M141.6 594.2L144.3 599L138.9 599Z"/><path d="M157.3 594.2L160 599L154.6 599Z"/><path d="M159.6 594.2L162.3 599L156.9 599Z"/><path d="M149.8 594.2L152.5 599L147.1 599Z"/><path d="M149.7 594.2L152.4 599L147 599Z"/><path d="M146.6 594.2L149.3 599L143.9 599Z"/><path d="M161.3 594.2L164 599L158.6 599Z"/><path d="M153.5 594.2L156.2 599L150.8 599Z"/><path d="M141.3 594.2L144 599L138.6 599Z"/><path d="M142.6 594.2L145.3 599L139.9 599Z"/><path d="M159.1 594.2L161.8 599L156.4 599Z"/><path d="M144.7 594.2L147.4 599L142 599Z"/><path d="M146.4 594.2L149.1 599L143.7 599Z"/><path d="M135.7 594.2L138.4 599L133 599Z"/><path d="M148.9 594.2L151.6 599L146.2 599Z"/><path d="M142.4 594.2L145.1 599L139.7 599Z"/><path d="M159.2 594.2L161.9 599L156.5 599Z"/><path d="M161.3 594.2L164 599L158.6 599Z"/><path d="M161.2 594.2L163.9 599L158.5 599Z"/><path d="M159.5 594.2L162.2 599L156.8 599Z"/><path d="M125.9 594.2L128.6 599L123.2 599Z"/><path d="M127 594.2L129.7 599L124.3 599Z"/><path d="M136.8 594.2L139.5 599L134.1 599Z"/><path d="M154.9 594.2L157.6 599L152.2 599Z"/><path d="M145 594.2L147.7 599L142.3 599Z"/><path d="M133.8 594.2L136.5 599L131.1 599Z"/><path d="M128 594.2L130.7 599L125.3 599Z"/><path d="M133.6 594.2L136.3 599L130.9 599Z"/><path d="M129 594.2L131.7 599L126.3 599Z"/><path d="M129.6 594.2L132.3 599L126.9 599Z"/><path d="M151.9 594.2L154.6 599L149.2 599Z"/><path d="M131.4 594.2L134.1 599L128.7 599Z"/><path d="M130.5 594.2L133.2 599L127.8 599Z"/><path d="M147.2 594.2L149.9 599L144.5 599Z"/><path d="M129.1 594.2L131.8 599L126.4 599Z"/></g>
<line x1="142.8" y1="498.3" x2="142.8" y2="547.3" stroke="#CC0000" stroke-width="2.2"/>
<line x1="142.8" y1="580.2" x2="142.8" y2="597.4" stroke="#CC0000" stroke-width="2.2"/>
<rect x="134.9" y="548.5" width="15.8" height="30.5" fill="none" stroke="#CC0000" stroke-width="2.4"/>
<line x1="134.9" y1="561.8" x2="150.7" y2="561.8" stroke="#CC0000" stroke-width="4.6"/>
<g fill="#17B8CB" fill-opacity="0.2"><circle cx="207.8" cy="569.2" r="2.5"/><circle cx="225" cy="543.7" r="2.5"/><circle cx="200.4" cy="561.9" r="2.5"/><circle cx="201.2" cy="558.1" r="2.5"/><circle cx="209.1" cy="534.2" r="2.5"/><circle cx="205.1" cy="560.3" r="2.5"/><circle cx="206.8" cy="553" r="2.5"/><circle cx="212.6" cy="559.5" r="2.5"/><circle cx="212" cy="556.4" r="2.5"/><circle cx="208.5" cy="552.2" r="2.5"/><circle cx="215.1" cy="540" r="2.5"/><circle cx="209.5" cy="556.2" r="2.5"/><circle cx="223.8" cy="545.6" r="2.5"/><circle cx="212.7" cy="543.1" r="2.5"/><circle cx="201.7" cy="564.6" r="2.5"/><circle cx="216.9" cy="583.2" r="2.5"/><circle cx="208.8" cy="534.9" r="2.5"/><circle cx="226.6" cy="533.4" r="2.5"/><circle cx="199.9" cy="569.8" r="2.5"/><circle cx="216.3" cy="559.4" r="2.5"/><circle cx="196.1" cy="567.4" r="2.5"/><circle cx="217.6" cy="563.4" r="2.5"/><circle cx="215.2" cy="568.1" r="2.5"/><circle cx="226.4" cy="521.4" r="2.5"/><circle cx="217" cy="526.8" r="2.5"/><circle cx="201.2" cy="547.2" r="2.5"/><circle cx="210.2" cy="568.8" r="2.5"/><circle cx="204.5" cy="544.8" r="2.5"/><circle cx="216.5" cy="574.4" r="2.5"/><circle cx="224.2" cy="575.7" r="2.5"/><circle cx="214.9" cy="584.5" r="2.5"/><circle cx="212.2" cy="543.7" r="2.5"/><circle cx="220.9" cy="580.7" r="2.5"/><circle cx="221.2" cy="544.5" r="2.5"/><circle cx="224.3" cy="558" r="2.5"/><circle cx="227.5" cy="551.8" r="2.5"/><circle cx="212.2" cy="539.8" r="2.5"/><circle cx="226.9" cy="536.8" r="2.5"/><circle cx="217" cy="566.8" r="2.5"/><circle cx="216.5" cy="560.8" r="2.5"/><circle cx="204.6" cy="537.6" r="2.5"/><circle cx="201.5" cy="588.5" r="2.5"/><circle cx="210.5" cy="533.8" r="2.5"/><circle cx="207" cy="525.6" r="2.5"/><circle cx="214.2" cy="524.7" r="2.5"/><circle cx="219.3" cy="546.8" r="2.5"/><circle cx="205" cy="567.1" r="2.5"/><circle cx="202.9" cy="585.8" r="2.5"/><circle cx="223.5" cy="538.5" r="2.5"/><circle cx="193.7" cy="528.5" r="2.5"/><circle cx="211" cy="549" r="2.5"/><circle cx="194.5" cy="542.2" r="2.5"/><circle cx="219.3" cy="573" r="2.5"/><circle cx="221.8" cy="570.7" r="2.5"/><circle cx="219.2" cy="530.6" r="2.5"/><circle cx="206.5" cy="575.3" r="2.5"/><circle cx="208.6" cy="569.5" r="2.5"/><circle cx="226.1" cy="588.2" r="2.5"/><circle cx="208.4" cy="533.9" r="2.5"/><circle cx="210.2" cy="557.6" r="2.5"/><circle cx="223" cy="525.1" r="2.5"/><circle cx="227.9" cy="558.9" r="2.5"/><circle cx="219.3" cy="572.2" r="2.5"/><circle cx="204.4" cy="554.7" r="2.5"/><circle cx="215.1" cy="551.8" r="2.5"/><circle cx="224.7" cy="560.8" r="2.5"/><circle cx="200" cy="568.8" r="2.5"/><circle cx="200.2" cy="551.7" r="2.5"/><circle cx="221.6" cy="585.2" r="2.5"/><circle cx="193.9" cy="576.7" r="2.5"/><circle cx="214" cy="567.6" r="2.5"/><circle cx="193.1" cy="557" r="2.5"/><circle cx="195.6" cy="535.4" r="2.5"/><circle cx="217.2" cy="565.8" r="2.5"/><circle cx="227" cy="547.1" r="2.5"/><circle cx="221.7" cy="585.5" r="2.5"/><circle cx="217.4" cy="562.8" r="2.5"/><circle cx="195" cy="556.7" r="2.5"/><circle cx="218.3" cy="571.4" r="2.5"/><circle cx="203.2" cy="541.1" r="2.5"/><circle cx="204.7" cy="533.3" r="2.5"/><circle cx="227.1" cy="525.1" r="2.5"/><circle cx="208.1" cy="546.6" r="2.5"/><circle cx="212" cy="552.9" r="2.5"/><circle cx="197.2" cy="585" r="2.5"/><circle cx="214.6" cy="539.7" r="2.5"/><circle cx="210.8" cy="553" r="2.5"/><circle cx="206.7" cy="535.7" r="2.5"/><circle cx="205.7" cy="551.3" r="2.5"/><circle cx="217.5" cy="542.8" r="2.5"/><circle cx="213.4" cy="552.6" r="2.5"/><circle cx="205.2" cy="546.9" r="2.5"/><circle cx="210" cy="562.5" r="2.5"/><circle cx="197.5" cy="551.8" r="2.5"/><circle cx="221.5" cy="549.5" r="2.5"/><circle cx="198.3" cy="586.4" r="2.5"/><circle cx="197.9" cy="529.8" r="2.5"/><circle cx="201.3" cy="582.2" r="2.5"/><circle cx="194.4" cy="559.3" r="2.5"/><circle cx="212.4" cy="558.2" r="2.5"/><circle cx="221.8" cy="553.5" r="2.5"/><circle cx="194.5" cy="578.7" r="2.5"/><circle cx="215.3" cy="550.3" r="2.5"/></g>
<path d="M214 516 L214.1 516.6 L214.2 517.4 L214.4 518.4 L214.6 519.4 L214.9 520.4 L215.2 521.4 L215.7 522.3 L216.3 523.2 L217 524.1 L217.6 525.1 L218.4 526 L219.1 526.9 L219.7 527.8 L220.5 528.7 L221.2 529.7 L222 530.6 L222.7 531.5 L223.5 532.4 L224.2 533.3 L224.9 534.2 L225.7 535.1 L226.4 536 L227.2 536.9 L227.9 537.8 L228.5 538.7 L229.2 539.6 L229.8 540.5 L230.4 541.5 L231 542.4 L231.7 543.3 L232.3 544.2 L232.9 545.1 L233.6 546 L234.3 547 L234.9 547.9 L235.6 548.8 L236.2 549.7 L236.9 550.6 L237.6 551.6 L238.3 552.5 L238.8 553.4 L239.4 554.3 L239.8 555.2 L240.2 556.1 L240.5 557 L240.8 557.9 L240.9 558.8 L241 559.7 L240.8 560.6 L240.6 561.5 L240.3 562.4 L239.9 563.4 L239.4 564.3 L238.8 565.2 L238 566.1 L237 567 L236 568 L234.9 568.9 L233.8 569.8 L232.8 570.7 L231.7 571.6 L230.7 572.5 L229.6 573.5 L228.6 574.4 L227.6 575.3 L226.8 576.2 L226 577.1 L225.3 578 L224.6 579 L224.1 579.9 L223.7 580.8 L223.5 581.6 L223.4 582.4 L223.4 583.1 L223.7 583.9 L224 584.6 L224.5 585.3 L225.2 586 L226 586.7 L227.1 587.5 L228.4 588.2 L229.7 588.9 L231 589.7 L232.2 590.4 L233.4 591.2 L234.7 591.9 L235.9 592.7 L237 593.5 L238 594.2 L238.8 594.8 L239.3 595.3 L239.6 595.8 L239.7 596.2 L239.8 596.5 L239.8 596.8 L239.9 597 L181.2 597 L181.3 596.8 L181.3 596.5 L181.4 596.2 L181.5 595.8 L181.8 595.3 L182.4 594.8 L183.1 594.2 L184.1 593.5 L185.2 592.7 L186.4 591.9 L187.7 591.2 L188.9 590.4 L190.1 589.7 L191.4 588.9 L192.7 588.2 L194 587.5 L195.1 586.7 L196 586 L196.6 585.3 L197.1 584.6 L197.5 583.9 L197.7 583.1 L197.7 582.4 L197.7 581.6 L197.4 580.8 L197 579.9 L196.5 579 L195.8 578 L195.1 577.1 L194.4 576.2 L193.5 575.3 L192.6 574.4 L191.5 573.5 L190.5 572.5 L189.4 571.6 L188.4 570.7 L187.3 569.8 L186.2 568.9 L185.1 568 L184.1 567 L183.1 566.1 L182.4 565.2 L181.7 564.3 L181.2 563.4 L180.8 562.4 L180.5 561.5 L180.3 560.6 L180.2 559.7 L180.2 558.8 L180.3 557.9 L180.6 557 L180.9 556.1 L181.3 555.2 L181.8 554.3 L182.3 553.4 L182.9 552.5 L183.5 551.6 L184.2 550.6 L184.9 549.7 L185.6 548.8 L186.2 547.9 L186.8 547 L187.5 546 L188.2 545.1 L188.8 544.2 L189.5 543.3 L190.1 542.4 L190.7 541.5 L191.3 540.5 L191.9 539.6 L192.6 538.7 L193.2 537.8 L193.9 536.9 L194.7 536 L195.4 535.1 L196.2 534.2 L196.9 533.3 L197.7 532.4 L198.4 531.5 L199.1 530.6 L199.9 529.7 L200.6 528.7 L201.4 527.8 L202.1 526.9 L202.7 526 L203.5 525.1 L204.1 524.1 L204.8 523.2 L205.4 522.3 L205.9 521.4 L206.2 520.4 L206.5 519.4 L206.7 518.4 L206.9 517.4 L207 516.6 L207.2 516Z" fill="none" stroke="#17B8CB" stroke-width="1.05" stroke-linejoin="round"/>
<g fill="none" stroke="#444" stroke-opacity="0.3" stroke-width="0.85"><path d="M209.8 594.2L212.5 599L207.1 599Z"/><path d="M219.7 594.2L222.4 599L217 599Z"/><path d="M222.9 594.2L225.6 599L220.2 599Z"/><path d="M219.2 594.2L221.9 599L216.5 599Z"/><path d="M217.7 594.2L220.4 599L215 599Z"/><path d="M204.4 594.2L207.1 599L201.7 599Z"/><path d="M218.9 594.2L221.6 599L216.2 599Z"/><path d="M215.7 594.2L218.4 599L213 599Z"/><path d="M200.2 594.2L202.9 599L197.5 599Z"/><path d="M224.2 594.2L226.9 599L221.5 599Z"/><path d="M209.5 594.2L212.2 599L206.8 599Z"/><path d="M211.7 594.2L214.4 599L209 599Z"/><path d="M199.4 594.2L202.1 599L196.7 599Z"/><path d="M222.8 594.2L225.5 599L220.1 599Z"/><path d="M209.6 594.2L212.3 599L206.9 599Z"/><path d="M219.5 594.2L222.2 599L216.8 599Z"/><path d="M223.2 594.2L225.9 599L220.5 599Z"/><path d="M211.3 594.2L214 599L208.6 599Z"/><path d="M213.7 594.2L216.4 599L211 599Z"/><path d="M209.2 594.2L211.9 599L206.5 599Z"/><path d="M200.8 594.2L203.5 599L198.1 599Z"/><path d="M221.6 594.2L224.3 599L218.9 599Z"/><path d="M226.1 594.2L228.8 599L223.4 599Z"/><path d="M193.3 594.2L196 599L190.6 599Z"/><path d="M193.3 594.2L196 599L190.6 599Z"/><path d="M209.4 594.2L212.1 599L206.7 599Z"/><path d="M195 594.2L197.7 599L192.3 599Z"/><path d="M208.3 594.2L211 599L205.6 599Z"/><path d="M204.7 594.2L207.4 599L202 599Z"/><path d="M201 594.2L203.7 599L198.3 599Z"/><path d="M220.7 594.2L223.4 599L218 599Z"/><path d="M213.6 594.2L216.3 599L210.9 599Z"/><path d="M226.2 594.2L228.9 599L223.5 599Z"/><path d="M199.2 594.2L201.9 599L196.5 599Z"/><path d="M206.1 594.2L208.8 599L203.4 599Z"/><path d="M214.9 594.2L217.6 599L212.2 599Z"/><path d="M220.6 594.2L223.3 599L217.9 599Z"/><path d="M207.9 594.2L210.6 599L205.2 599Z"/><path d="M198.9 594.2L201.6 599L196.2 599Z"/><path d="M206.3 594.2L209 599L203.6 599Z"/></g>
<line x1="210.6" y1="516" x2="210.6" y2="549.9" stroke="#17B8CB" stroke-width="2.2"/>
<line x1="210.6" y1="597" x2="210.6" y2="597" stroke="#17B8CB" stroke-width="2.2"/>
<rect x="202.4" y="551.1" width="16.3" height="44.7" fill="none" stroke="#17B8CB" stroke-width="2.4"/>
<line x1="202.4" y1="564.1" x2="218.7" y2="564.1" stroke="#17B8CB" stroke-width="4.6"/>
<g fill="#17B8CB" fill-opacity="0.2"><circle cx="285.6" cy="562.4" r="2.5"/><circle cx="285.9" cy="556.7" r="2.5"/><circle cx="269" cy="551" r="2.5"/><circle cx="265.1" cy="561.2" r="2.5"/><circle cx="264.2" cy="553.2" r="2.5"/><circle cx="289.5" cy="557.4" r="2.5"/><circle cx="261.3" cy="549.5" r="2.5"/><circle cx="276.1" cy="549" r="2.5"/><circle cx="291.9" cy="541.2" r="2.5"/><circle cx="270.9" cy="550.8" r="2.5"/><circle cx="273.3" cy="565.8" r="2.5"/><circle cx="262.4" cy="550.4" r="2.5"/><circle cx="273.8" cy="556.9" r="2.5"/><circle cx="285.2" cy="560.3" r="2.5"/><circle cx="287.3" cy="557.7" r="2.5"/><circle cx="282.7" cy="551.2" r="2.5"/><circle cx="272.3" cy="574.8" r="2.5"/><circle cx="270.3" cy="557.1" r="2.5"/><circle cx="272.2" cy="557.2" r="2.5"/><circle cx="263.1" cy="555" r="2.5"/><circle cx="294.6" cy="542.5" r="2.5"/><circle cx="268.2" cy="544.3" r="2.5"/><circle cx="276.4" cy="546.5" r="2.5"/><circle cx="277.5" cy="576.8" r="2.5"/><circle cx="285.4" cy="563.9" r="2.5"/><circle cx="277.6" cy="550.6" r="2.5"/><circle cx="275.3" cy="548.2" r="2.5"/><circle cx="272.1" cy="563.8" r="2.5"/><circle cx="278.5" cy="568.2" r="2.5"/><circle cx="262.7" cy="545.6" r="2.5"/><circle cx="268.2" cy="551.4" r="2.5"/><circle cx="274.2" cy="552" r="2.5"/><circle cx="262.3" cy="553.3" r="2.5"/><circle cx="266" cy="551" r="2.5"/><circle cx="289.8" cy="568.5" r="2.5"/><circle cx="291" cy="568.8" r="2.5"/><circle cx="280.2" cy="552.3" r="2.5"/><circle cx="264.6" cy="560.9" r="2.5"/><circle cx="273.1" cy="578.2" r="2.5"/><circle cx="282.1" cy="583.7" r="2.5"/><circle cx="280.1" cy="565.7" r="2.5"/><circle cx="261.6" cy="557.8" r="2.5"/><circle cx="286.6" cy="547.3" r="2.5"/><circle cx="279.4" cy="582.2" r="2.5"/><circle cx="289.8" cy="562.5" r="2.5"/><circle cx="274.7" cy="550.5" r="2.5"/><circle cx="261.3" cy="543.3" r="2.5"/><circle cx="265.7" cy="554.1" r="2.5"/><circle cx="285.3" cy="585.7" r="2.5"/><circle cx="260.5" cy="546.8" r="2.5"/><circle cx="261.9" cy="559.8" r="2.5"/></g>
<path d="M285.4 535.4 L286 536.1 L286.6 537 L287.4 538.1 L288.3 539.2 L289.3 540.4 L290.4 541.4 L291.5 542.3 L292.8 543.3 L294.1 544.2 L295.5 545.1 L296.8 546 L298.1 546.9 L299.2 547.8 L300.2 548.7 L301.3 549.7 L302.2 550.6 L303.2 551.5 L304.1 552.4 L305 553.3 L305.9 554.2 L306.8 555.1 L307.6 556 L308.2 556.9 L308.4 557.8 L308.4 558.7 L308.2 559.6 L307.7 560.5 L307.1 561.5 L306.4 562.4 L305.6 563.3 L304.8 564.2 L303.8 565.1 L302.6 566 L301.5 567 L300.3 567.9 L299.1 568.8 L298 569.7 L296.9 570.6 L295.7 571.6 L294.6 572.5 L293.5 573.4 L292.6 574.3 L291.7 575.2 L290.8 576.1 L290 577.1 L289.3 578 L288.7 578.9 L288.1 579.7 L287.7 580.5 L287.4 581.2 L287.2 582 L287 582.7 L287 583.4 L287.1 584.1 L287.2 584.8 L287.4 585.6 L287.7 586.3 L288.2 587 L288.7 587.8 L289.2 588.5 L290 589.2 L290.9 590 L291.9 590.7 L292.9 591.4 L293.9 592.2 L294.8 592.9 L295.5 593.7 L296.3 594.5 L297 595.4 L297.6 596.2 L298.2 596.8 L298.6 597.3 L256.9 597.3 L257.3 596.8 L257.9 596.2 L258.5 595.4 L259.2 594.5 L260 593.7 L260.8 592.9 L261.6 592.2 L262.6 591.4 L263.6 590.7 L264.6 590 L265.5 589.2 L266.2 588.5 L266.8 587.8 L267.3 587 L267.8 586.3 L268.1 585.6 L268.3 584.8 L268.4 584.1 L268.5 583.4 L268.5 582.7 L268.3 582 L268.1 581.2 L267.8 580.5 L267.4 579.7 L266.8 578.9 L266.2 578 L265.5 577.1 L264.7 576.1 L263.8 575.2 L262.9 574.3 L262 573.4 L260.9 572.5 L259.8 571.6 L258.6 570.6 L257.5 569.7 L256.4 568.8 L255.2 567.9 L254 567 L252.9 566 L251.7 565.1 L250.7 564.2 L249.8 563.3 L249.1 562.4 L248.4 561.5 L247.8 560.5 L247.3 559.6 L247.1 558.7 L247.1 557.8 L247.3 556.9 L247.9 556 L248.7 555.1 L249.6 554.2 L250.5 553.3 L251.4 552.4 L252.3 551.5 L253.3 550.6 L254.2 549.7 L255.3 548.7 L256.3 547.8 L257.4 546.9 L258.7 546 L260 545.1 L261.4 544.2 L262.7 543.3 L264 542.3 L265.1 541.4 L266.2 540.4 L267.2 539.2 L268.1 538.1 L268.9 537 L269.5 536.1 L270.1 535.4Z" fill="none" stroke="#17B8CB" stroke-width="1.05" stroke-linejoin="round"/>
<g fill="none" stroke="#444" stroke-opacity="0.3" stroke-width="0.85"><path d="M283 594.2L285.7 599L280.3 599Z"/><path d="M270.9 594.2L273.6 599L268.2 599Z"/><path d="M265.9 594.2L268.6 599L263.2 599Z"/><path d="M275.4 594.2L278.1 599L272.7 599Z"/><path d="M285.6 594.2L288.3 599L282.9 599Z"/><path d="M271.9 594.2L274.6 599L269.2 599Z"/><path d="M280 594.2L282.7 599L277.3 599Z"/><path d="M266.2 594.2L268.9 599L263.5 599Z"/><path d="M279.9 594.2L282.6 599L277.2 599Z"/><path d="M260.8 594.2L263.5 599L258.1 599Z"/><path d="M293.4 594.2L296.1 599L290.7 599Z"/><path d="M293.6 594.2L296.3 599L290.9 599Z"/><path d="M280.6 594.2L283.3 599L277.9 599Z"/><path d="M276.8 594.2L279.5 599L274.1 599Z"/><path d="M273.9 594.2L276.6 599L271.2 599Z"/><path d="M287 594.2L289.7 599L284.3 599Z"/><path d="M280.7 594.2L283.4 599L278 599Z"/><path d="M285.5 594.2L288.2 599L282.8 599Z"/></g>
<line x1="277.8" y1="535.4" x2="277.8" y2="554" stroke="#17B8CB" stroke-width="2.2"/>
<line x1="277.8" y1="597.3" x2="277.8" y2="597.3" stroke="#17B8CB" stroke-width="2.2"/>
<rect x="269.4" y="555.2" width="16.7" height="40.9" fill="none" stroke="#17B8CB" stroke-width="2.4"/>
<line x1="269.4" y1="563.9" x2="286.1" y2="563.9" stroke="#17B8CB" stroke-width="4.6"/>
<g fill="#17B8CB" fill-opacity="0.2"><circle cx="353.1" cy="548.6" r="2.5"/><circle cx="358" cy="534" r="2.5"/><circle cx="331.5" cy="550.4" r="2.5"/><circle cx="337.9" cy="560.2" r="2.5"/><circle cx="330.8" cy="582.7" r="2.5"/><circle cx="354" cy="548.8" r="2.5"/><circle cx="353.3" cy="577" r="2.5"/><circle cx="362" cy="554.3" r="2.5"/><circle cx="358.4" cy="553.2" r="2.5"/><circle cx="349.2" cy="553" r="2.5"/><circle cx="350.3" cy="557.7" r="2.5"/><circle cx="354.2" cy="539.9" r="2.5"/><circle cx="332.1" cy="584.3" r="2.5"/><circle cx="340" cy="548.6" r="2.5"/><circle cx="345.1" cy="571.5" r="2.5"/><circle cx="353.9" cy="566.3" r="2.5"/><circle cx="355.2" cy="564.8" r="2.5"/><circle cx="336.8" cy="556.5" r="2.5"/><circle cx="331.1" cy="572.7" r="2.5"/><circle cx="358.4" cy="562" r="2.5"/><circle cx="346.8" cy="561.1" r="2.5"/><circle cx="335.4" cy="586.8" r="2.5"/><circle cx="328.2" cy="530.7" r="2.5"/><circle cx="358.6" cy="558.4" r="2.5"/><circle cx="336" cy="565.2" r="2.5"/><circle cx="353.1" cy="570" r="2.5"/><circle cx="347.9" cy="587.3" r="2.5"/><circle cx="345.3" cy="532.7" r="2.5"/><circle cx="334.9" cy="548.7" r="2.5"/><circle cx="343.6" cy="576.8" r="2.5"/><circle cx="361" cy="553.3" r="2.5"/><circle cx="340" cy="560.1" r="2.5"/><circle cx="341.7" cy="538.3" r="2.5"/><circle cx="349.1" cy="579.5" r="2.5"/><circle cx="332.7" cy="566.6" r="2.5"/><circle cx="330.1" cy="546.5" r="2.5"/><circle cx="356.9" cy="586.3" r="2.5"/><circle cx="330.3" cy="587.6" r="2.5"/><circle cx="332.7" cy="564.3" r="2.5"/><circle cx="334.8" cy="553.2" r="2.5"/><circle cx="362.1" cy="559.8" r="2.5"/><circle cx="342.5" cy="580.8" r="2.5"/><circle cx="360.8" cy="561.1" r="2.5"/><circle cx="345.9" cy="561.9" r="2.5"/><circle cx="343.5" cy="566.3" r="2.5"/><circle cx="353.2" cy="577.7" r="2.5"/><circle cx="330.8" cy="550.3" r="2.5"/><circle cx="355.2" cy="530.3" r="2.5"/><circle cx="348.9" cy="573.1" r="2.5"/><circle cx="337.1" cy="548.4" r="2.5"/><circle cx="331.9" cy="580.5" r="2.5"/><circle cx="348.9" cy="562.8" r="2.5"/><circle cx="357.9" cy="582" r="2.5"/><circle cx="338.1" cy="535.4" r="2.5"/><circle cx="348.1" cy="553.8" r="2.5"/><circle cx="341" cy="586.6" r="2.5"/><circle cx="352.1" cy="558" r="2.5"/><circle cx="355.1" cy="553.1" r="2.5"/><circle cx="356.2" cy="574" r="2.5"/><circle cx="330.9" cy="561.5" r="2.5"/><circle cx="333.8" cy="555.1" r="2.5"/><circle cx="329.2" cy="561.4" r="2.5"/><circle cx="333.3" cy="530.1" r="2.5"/><circle cx="336.6" cy="547.1" r="2.5"/><circle cx="361.3" cy="584.8" r="2.5"/><circle cx="347.6" cy="563.7" r="2.5"/><circle cx="358.9" cy="567.2" r="2.5"/><circle cx="338.1" cy="570.9" r="2.5"/><circle cx="362.7" cy="565.7" r="2.5"/><circle cx="336.2" cy="558.9" r="2.5"/><circle cx="342.8" cy="524.2" r="2.5"/><circle cx="339" cy="525.3" r="2.5"/><circle cx="336.7" cy="526.4" r="2.5"/><circle cx="349.4" cy="587" r="2.5"/><circle cx="349" cy="579.9" r="2.5"/><circle cx="353.7" cy="533.7" r="2.5"/><circle cx="332.2" cy="557.9" r="2.5"/><circle cx="345.6" cy="579.8" r="2.5"/><circle cx="360.5" cy="551" r="2.5"/><circle cx="341.5" cy="560" r="2.5"/><circle cx="334" cy="568" r="2.5"/><circle cx="350.5" cy="564.2" r="2.5"/><circle cx="358.3" cy="587.1" r="2.5"/><circle cx="348.5" cy="570.8" r="2.5"/><circle cx="328.8" cy="528.7" r="2.5"/><circle cx="358.5" cy="560" r="2.5"/><circle cx="350.1" cy="569.8" r="2.5"/><circle cx="362.2" cy="555.3" r="2.5"/><circle cx="355.4" cy="535.4" r="2.5"/><circle cx="333.3" cy="565.2" r="2.5"/><circle cx="350.1" cy="588.7" r="2.5"/><circle cx="342.2" cy="554.3" r="2.5"/><circle cx="350.4" cy="544.2" r="2.5"/><circle cx="340.6" cy="542.2" r="2.5"/><circle cx="342.3" cy="565" r="2.5"/><circle cx="361.7" cy="559.9" r="2.5"/><circle cx="328.8" cy="543" r="2.5"/><circle cx="334.3" cy="526.2" r="2.5"/><circle cx="359.9" cy="529.2" r="2.5"/><circle cx="347.4" cy="559" r="2.5"/><circle cx="328.5" cy="569.7" r="2.5"/><circle cx="353.2" cy="516.6" r="2.5"/><circle cx="338.2" cy="554" r="2.5"/><circle cx="361.1" cy="571.1" r="2.5"/><circle cx="332.7" cy="567.3" r="2.5"/><circle cx="341.4" cy="527.1" r="2.5"/><circle cx="330.6" cy="560.5" r="2.5"/><circle cx="358.5" cy="540.9" r="2.5"/><circle cx="346.7" cy="555.2" r="2.5"/><circle cx="343.1" cy="530.2" r="2.5"/><circle cx="362.7" cy="537.4" r="2.5"/><circle cx="347.1" cy="539.7" r="2.5"/><circle cx="356.8" cy="552.3" r="2.5"/><circle cx="333.7" cy="567.8" r="2.5"/><circle cx="336.1" cy="562.6" r="2.5"/><circle cx="333.8" cy="550.7" r="2.5"/><circle cx="349.6" cy="568.6" r="2.5"/><circle cx="332.9" cy="568.3" r="2.5"/><circle cx="346.7" cy="544.7" r="2.5"/><circle cx="360.4" cy="530.7" r="2.5"/><circle cx="351.3" cy="537.4" r="2.5"/><circle cx="348.4" cy="583.9" r="2.5"/><circle cx="331.3" cy="564.4" r="2.5"/><circle cx="352.2" cy="540.7" r="2.5"/><circle cx="331.4" cy="550.6" r="2.5"/><circle cx="344.4" cy="563.1" r="2.5"/></g>
<path d="M347.2 516.6 L347.4 517.1 L347.7 517.7 L347.9 518.5 L348.3 519.3 L348.6 520.2 L349.1 521 L349.5 521.8 L350 522.7 L350.5 523.6 L351.1 524.6 L351.7 525.5 L352.4 526.4 L353 527.3 L353.7 528.2 L354.5 529.1 L355.2 530.1 L356 531 L356.8 531.9 L357.5 532.8 L358.2 533.7 L358.9 534.7 L359.7 535.6 L360.4 536.5 L361.1 537.4 L361.9 538.3 L362.6 539.2 L363.4 540.1 L364.1 541 L364.8 541.9 L365.6 542.8 L366.3 543.7 L367 544.6 L367.7 545.5 L368.5 546.5 L369.2 547.4 L369.9 548.3 L370.5 549.2 L371.2 550.1 L371.9 551 L372.6 552 L373.2 552.9 L373.8 553.8 L374.3 554.7 L374.8 555.6 L375.2 556.6 L375.6 557.5 L375.9 558.4 L375.9 559.3 L375.9 560.2 L375.7 561.1 L375.4 562 L375 562.9 L374.4 563.8 L373.8 564.7 L372.9 565.6 L371.9 566.5 L370.8 567.4 L369.6 568.4 L368.4 569.3 L367.1 570.2 L365.9 571.1 L364.5 572 L363.1 573 L361.7 573.9 L360.5 574.8 L359.4 575.7 L358.6 576.6 L357.8 577.5 L357.2 578.5 L356.7 579.4 L356.4 580.3 L356.1 581.2 L356.1 582.1 L356.1 583 L356.3 583.9 L356.6 584.8 L357.1 585.7 L357.9 586.6 L358.8 587.5 L360.1 588.4 L361.6 589.3 L363.1 590.3 L364.6 591.2 L366.1 592.1 L367.5 593.1 L368.9 594.1 L370.4 595.2 L371.8 596.2 L372.9 597 L373.8 597.6 L316.8 597.6 L317.6 597 L318.7 596.2 L320.1 595.2 L321.6 594.1 L323 593.1 L324.4 592.1 L325.9 591.2 L327.4 590.3 L328.9 589.3 L330.4 588.4 L331.7 587.5 L332.6 586.6 L333.4 585.7 L333.9 584.8 L334.2 583.9 L334.4 583 L334.4 582.1 L334.4 581.2 L334.1 580.3 L333.8 579.4 L333.3 578.5 L332.7 577.5 L331.9 576.6 L331.1 575.7 L330 574.8 L328.8 573.9 L327.4 573 L326 572 L324.6 571.1 L323.4 570.2 L322.1 569.3 L320.9 568.4 L319.7 567.4 L318.6 566.5 L317.6 565.6 L316.8 564.7 L316.1 563.8 L315.5 562.9 L315.1 562 L314.8 561.1 L314.6 560.2 L314.6 559.3 L314.6 558.4 L314.9 557.5 L315.3 556.6 L315.7 555.6 L316.2 554.7 L316.8 553.8 L317.3 552.9 L317.9 552 L318.6 551 L319.3 550.1 L320 549.2 L320.6 548.3 L321.3 547.4 L322 546.5 L322.8 545.5 L323.5 544.6 L324.2 543.7 L324.9 542.8 L325.7 541.9 L326.4 541 L327.1 540.1 L327.9 539.2 L328.6 538.3 L329.4 537.4 L330.1 536.5 L330.8 535.6 L331.6 534.7 L332.3 533.7 L333 532.8 L333.8 531.9 L334.5 531 L335.3 530.1 L336 529.1 L336.8 528.2 L337.5 527.3 L338.1 526.4 L338.8 525.5 L339.4 524.6 L340 523.6 L340.5 522.7 L341 521.8 L341.4 521 L341.9 520.2 L342.2 519.3 L342.6 518.5 L342.8 517.7 L343.1 517.1 L343.2 516.6Z" fill="none" stroke="#17B8CB" stroke-width="1.05" stroke-linejoin="round"/>
<g fill="none" stroke="#444" stroke-opacity="0.3" stroke-width="0.85"><path d="M348.4 594.2L351.1 599L345.7 599Z"/><path d="M360.4 594.2L363.1 599L357.7 599Z"/><path d="M349.8 594.2L352.5 599L347.1 599Z"/><path d="M352.2 594.2L354.9 599L349.5 599Z"/><path d="M359.4 594.2L362.1 599L356.7 599Z"/><path d="M353.9 594.2L356.6 599L351.2 599Z"/><path d="M343.7 594.2L346.4 599L341 599Z"/><path d="M362.2 594.2L364.9 599L359.5 599Z"/><path d="M361.8 594.2L364.5 599L359.1 599Z"/><path d="M329.7 594.2L332.4 599L327 599Z"/><path d="M363.7 594.2L366.4 599L361 599Z"/><path d="M332.9 594.2L335.6 599L330.2 599Z"/><path d="M359.3 594.2L362 599L356.6 599Z"/><path d="M350.5 594.2L353.2 599L347.8 599Z"/><path d="M355.6 594.2L358.3 599L352.9 599Z"/><path d="M339.6 594.2L342.3 599L336.9 599Z"/><path d="M337.3 594.2L340 599L334.6 599Z"/><path d="M333.3 594.2L336 599L330.6 599Z"/><path d="M331.2 594.2L333.9 599L328.5 599Z"/><path d="M331 594.2L333.7 599L328.3 599Z"/><path d="M333 594.2L335.7 599L330.3 599Z"/><path d="M357.1 594.2L359.8 599L354.4 599Z"/><path d="M346.7 594.2L349.4 599L344 599Z"/><path d="M358.5 594.2L361.2 599L355.8 599Z"/><path d="M363.2 594.2L365.9 599L360.5 599Z"/><path d="M343 594.2L345.7 599L340.3 599Z"/><path d="M333.3 594.2L336 599L330.6 599Z"/><path d="M359.9 594.2L362.6 599L357.2 599Z"/><path d="M330.9 594.2L333.6 599L328.2 599Z"/><path d="M345.8 594.2L348.5 599L343.1 599Z"/><path d="M358 594.2L360.7 599L355.3 599Z"/><path d="M331.4 594.2L334.1 599L328.7 599Z"/><path d="M336.7 594.2L339.4 599L334 599Z"/><path d="M350.9 594.2L353.6 599L348.2 599Z"/><path d="M330.4 594.2L333.1 599L327.7 599Z"/><path d="M358.8 594.2L361.5 599L356.1 599Z"/><path d="M354.4 594.2L357.1 599L351.7 599Z"/><path d="M347.3 594.2L350 599L344.6 599Z"/><path d="M355.5 594.2L358.2 599L352.8 599Z"/><path d="M331.9 594.2L334.6 599L329.2 599Z"/><path d="M358.1 594.2L360.8 599L355.4 599Z"/><path d="M346.7 594.2L349.4 599L344 599Z"/><path d="M340.9 594.2L343.6 599L338.2 599Z"/><path d="M356.9 594.2L359.6 599L354.2 599Z"/><path d="M343.7 594.2L346.4 599L341 599Z"/><path d="M328.3 594.2L331 599L325.6 599Z"/><path d="M352.6 594.2L355.3 599L349.9 599Z"/><path d="M328.1 594.2L330.8 599L325.4 599Z"/></g>
<line x1="345.2" y1="516.6" x2="345.2" y2="552.2" stroke="#17B8CB" stroke-width="2.2"/>
<line x1="345.2" y1="597.6" x2="345.2" y2="597.6" stroke="#17B8CB" stroke-width="2.2"/>
<rect x="336.6" y="553.4" width="17.3" height="43" fill="none" stroke="#17B8CB" stroke-width="2.4"/>
<line x1="336.6" y1="564.2" x2="353.9" y2="564.2" stroke="#17B8CB" stroke-width="4.6"/>
<text x="102.7" y="497" font-size="13">ULoQ</text>
<text x="102.7" y="591.6" font-size="13">LoD</text>
<rect x="102.1" y="424.0" width="283.6" height="226.7" fill="none" stroke="#333333" stroke-width="1.75"/>
<rect x="391.0" y="424.0" width="283.2" height="226.7" fill="#fff"/>
<line x1="391.0" y1="493.1" x2="674.2" y2="493.1" stroke="#C4C4C4" stroke-width="1.05" stroke-dasharray="3.5 3.3"/>
<line x1="391.0" y1="587.3" x2="674.2" y2="587.3" stroke="#C4C4C4" stroke-width="1.05" stroke-dasharray="3.5 3.3"/>
<g fill="#CC0000" fill-opacity="0.2"><circle cx="428" cy="543.7" r="2.5"/><circle cx="436" cy="528.9" r="2.5"/><circle cx="440.9" cy="521.9" r="2.5"/><circle cx="447.2" cy="557.9" r="2.5"/><circle cx="427.3" cy="510.1" r="2.5"/><circle cx="435" cy="540.7" r="2.5"/><circle cx="441.3" cy="534" r="2.5"/><circle cx="426.7" cy="554.4" r="2.5"/><circle cx="416.5" cy="539.4" r="2.5"/><circle cx="440.7" cy="515.1" r="2.5"/><circle cx="414.7" cy="538.4" r="2.5"/><circle cx="417" cy="521.3" r="2.5"/><circle cx="444.1" cy="532.9" r="2.5"/><circle cx="438.3" cy="539.6" r="2.5"/><circle cx="435.5" cy="585.6" r="2.5"/><circle cx="424.2" cy="524.4" r="2.5"/><circle cx="417.5" cy="534.6" r="2.5"/><circle cx="443" cy="550" r="2.5"/><circle cx="446.6" cy="541.9" r="2.5"/><circle cx="447.5" cy="530.8" r="2.5"/><circle cx="415.7" cy="507.3" r="2.5"/><circle cx="442.9" cy="572" r="2.5"/><circle cx="443.3" cy="494.2" r="2.5"/><circle cx="435.9" cy="529.2" r="2.5"/><circle cx="444.9" cy="531.6" r="2.5"/><circle cx="437.8" cy="563.5" r="2.5"/><circle cx="419.2" cy="513.5" r="2.5"/><circle cx="440.8" cy="562.5" r="2.5"/><circle cx="414.2" cy="561.4" r="2.5"/><circle cx="416.2" cy="528.9" r="2.5"/><circle cx="420.4" cy="549.9" r="2.5"/><circle cx="442.5" cy="513.7" r="2.5"/><circle cx="433.4" cy="518" r="2.5"/><circle cx="429.7" cy="523.5" r="2.5"/><circle cx="431.2" cy="541.4" r="2.5"/><circle cx="429.4" cy="528.8" r="2.5"/><circle cx="446.3" cy="520.9" r="2.5"/><circle cx="437.9" cy="586.7" r="2.5"/><circle cx="439.1" cy="523.5" r="2.5"/><circle cx="436" cy="512" r="2.5"/><circle cx="435.8" cy="548.5" r="2.5"/><circle cx="445.7" cy="521.2" r="2.5"/><circle cx="434.4" cy="507.5" r="2.5"/><circle cx="423.2" cy="536.8" r="2.5"/><circle cx="430.5" cy="564.7" r="2.5"/><circle cx="447.9" cy="496.9" r="2.5"/><circle cx="416.2" cy="531" r="2.5"/><circle cx="421.4" cy="526.8" r="2.5"/><circle cx="424.4" cy="571.7" r="2.5"/><circle cx="417.3" cy="517.4" r="2.5"/><circle cx="433.8" cy="556.7" r="2.5"/><circle cx="425" cy="560.1" r="2.5"/><circle cx="427.3" cy="577.6" r="2.5"/><circle cx="431.1" cy="521.6" r="2.5"/><circle cx="429.2" cy="519.5" r="2.5"/><circle cx="435.7" cy="520.6" r="2.5"/><circle cx="447.1" cy="532.1" r="2.5"/><circle cx="425.5" cy="504.5" r="2.5"/><circle cx="421.6" cy="570.1" r="2.5"/><circle cx="438.8" cy="546.9" r="2.5"/><circle cx="421" cy="521.9" r="2.5"/><circle cx="425.7" cy="559.5" r="2.5"/><circle cx="447.4" cy="518.4" r="2.5"/><circle cx="427.6" cy="510.9" r="2.5"/><circle cx="423.9" cy="554.5" r="2.5"/><circle cx="424.5" cy="495" r="2.5"/><circle cx="426.8" cy="541.4" r="2.5"/><circle cx="441.3" cy="519" r="2.5"/><circle cx="419.4" cy="536.8" r="2.5"/><circle cx="447.6" cy="528.9" r="2.5"/><circle cx="416.1" cy="529.4" r="2.5"/><circle cx="438.9" cy="553.3" r="2.5"/><circle cx="429.4" cy="514.8" r="2.5"/><circle cx="413.9" cy="509.4" r="2.5"/><circle cx="426.3" cy="530.2" r="2.5"/><circle cx="423.7" cy="535.3" r="2.5"/><circle cx="438.3" cy="510.3" r="2.5"/><circle cx="425.7" cy="542.9" r="2.5"/><circle cx="434.7" cy="562" r="2.5"/><circle cx="434.6" cy="536.1" r="2.5"/><circle cx="440.9" cy="527.9" r="2.5"/><circle cx="437" cy="551.2" r="2.5"/><circle cx="423.1" cy="544.5" r="2.5"/><circle cx="438.3" cy="546.6" r="2.5"/><circle cx="439.3" cy="566.7" r="2.5"/><circle cx="445.7" cy="534.5" r="2.5"/><circle cx="426.9" cy="532.2" r="2.5"/><circle cx="423.6" cy="550.6" r="2.5"/><circle cx="437.6" cy="517.7" r="2.5"/><circle cx="446.8" cy="524.5" r="2.5"/><circle cx="416.1" cy="530" r="2.5"/><circle cx="416.3" cy="579.7" r="2.5"/><circle cx="415" cy="547.3" r="2.5"/><circle cx="419.4" cy="520.8" r="2.5"/><circle cx="431.3" cy="524.3" r="2.5"/><circle cx="422.5" cy="528.6" r="2.5"/><circle cx="438.5" cy="535.1" r="2.5"/><circle cx="432.1" cy="526.5" r="2.5"/><circle cx="413.8" cy="548.9" r="2.5"/><circle cx="425" cy="553.6" r="2.5"/><circle cx="435.8" cy="518.2" r="2.5"/><circle cx="440.2" cy="572.3" r="2.5"/><circle cx="443.1" cy="536.2" r="2.5"/><circle cx="430.4" cy="505.3" r="2.5"/><circle cx="429.9" cy="538.6" r="2.5"/><circle cx="426.8" cy="530.8" r="2.5"/><circle cx="441.6" cy="527.6" r="2.5"/><circle cx="415.2" cy="511.4" r="2.5"/><circle cx="435.7" cy="537.5" r="2.5"/><circle cx="431.4" cy="525.6" r="2.5"/><circle cx="439.1" cy="525.9" r="2.5"/><circle cx="415.4" cy="527" r="2.5"/><circle cx="431.1" cy="517.5" r="2.5"/><circle cx="426.3" cy="535.4" r="2.5"/><circle cx="438.2" cy="538.2" r="2.5"/><circle cx="421.3" cy="532" r="2.5"/><circle cx="446.1" cy="500.1" r="2.5"/><circle cx="424.2" cy="531.5" r="2.5"/><circle cx="419.5" cy="558.9" r="2.5"/><circle cx="428.4" cy="488.9" r="2.5"/><circle cx="435.8" cy="538.8" r="2.5"/><circle cx="430.8" cy="532.7" r="2.5"/><circle cx="424.6" cy="538" r="2.5"/><circle cx="442.6" cy="563.2" r="2.5"/><circle cx="414.2" cy="514.9" r="2.5"/><circle cx="446.3" cy="512.8" r="2.5"/><circle cx="435.8" cy="518" r="2.5"/><circle cx="419.1" cy="520.9" r="2.5"/><circle cx="420.3" cy="565.8" r="2.5"/><circle cx="442.3" cy="546.3" r="2.5"/><circle cx="425.5" cy="545.7" r="2.5"/><circle cx="418.2" cy="554.8" r="2.5"/><circle cx="415.7" cy="526.5" r="2.5"/><circle cx="442.5" cy="526.4" r="2.5"/><circle cx="442.8" cy="562.6" r="2.5"/><circle cx="442.9" cy="547.3" r="2.5"/><circle cx="434.2" cy="527.8" r="2.5"/><circle cx="421" cy="512.9" r="2.5"/><circle cx="421.9" cy="566.9" r="2.5"/><circle cx="419" cy="555.5" r="2.5"/><circle cx="436" cy="547.8" r="2.5"/><circle cx="447.4" cy="531" r="2.5"/><circle cx="438.9" cy="535.2" r="2.5"/><circle cx="429.8" cy="514.8" r="2.5"/><circle cx="419.4" cy="519.8" r="2.5"/><circle cx="430" cy="520.7" r="2.5"/><circle cx="414.8" cy="534.3" r="2.5"/><circle cx="445.8" cy="539.3" r="2.5"/><circle cx="443" cy="550.8" r="2.5"/><circle cx="439.4" cy="545.8" r="2.5"/><circle cx="444" cy="560.9" r="2.5"/><circle cx="448" cy="562.3" r="2.5"/><circle cx="444.5" cy="515" r="2.5"/><circle cx="432.6" cy="500.9" r="2.5"/><circle cx="436.7" cy="508.2" r="2.5"/><circle cx="438.2" cy="510.9" r="2.5"/><circle cx="414.3" cy="561.8" r="2.5"/><circle cx="441.1" cy="508.8" r="2.5"/><circle cx="424.1" cy="500.5" r="2.5"/><circle cx="439.9" cy="512.4" r="2.5"/><circle cx="436.5" cy="523.2" r="2.5"/><circle cx="420.8" cy="542" r="2.5"/><circle cx="445.2" cy="521.9" r="2.5"/><circle cx="425.1" cy="532.8" r="2.5"/><circle cx="448.4" cy="544" r="2.5"/><circle cx="433.4" cy="556.6" r="2.5"/><circle cx="415.1" cy="514.8" r="2.5"/><circle cx="422.9" cy="511.4" r="2.5"/><circle cx="424.4" cy="551" r="2.5"/><circle cx="434.2" cy="541.6" r="2.5"/><circle cx="440.6" cy="503.5" r="2.5"/><circle cx="440.7" cy="533.8" r="2.5"/><circle cx="434.5" cy="538.6" r="2.5"/><circle cx="435.4" cy="512.4" r="2.5"/><circle cx="434.2" cy="502.7" r="2.5"/><circle cx="414.3" cy="531.6" r="2.5"/><circle cx="417.6" cy="525.8" r="2.5"/><circle cx="438.9" cy="511.1" r="2.5"/><circle cx="422.5" cy="546.8" r="2.5"/><circle cx="431.2" cy="512.9" r="2.5"/><circle cx="415.6" cy="528.7" r="2.5"/><circle cx="421.7" cy="502.4" r="2.5"/><circle cx="439" cy="494.6" r="2.5"/><circle cx="439.1" cy="531.7" r="2.5"/><circle cx="437.1" cy="529.5" r="2.5"/><circle cx="425.7" cy="535.4" r="2.5"/><circle cx="448" cy="521.2" r="2.5"/><circle cx="417.3" cy="505.2" r="2.5"/><circle cx="430.4" cy="552.7" r="2.5"/><circle cx="434" cy="522.5" r="2.5"/><circle cx="424.7" cy="536.8" r="2.5"/><circle cx="437.5" cy="523.4" r="2.5"/><circle cx="444.7" cy="536.9" r="2.5"/><circle cx="430.2" cy="509.8" r="2.5"/><circle cx="420.4" cy="532.8" r="2.5"/><circle cx="428.9" cy="514.5" r="2.5"/><circle cx="446.8" cy="518.1" r="2.5"/><circle cx="417.1" cy="549.4" r="2.5"/><circle cx="434.8" cy="544.5" r="2.5"/><circle cx="426.9" cy="554.6" r="2.5"/><circle cx="447.7" cy="538.2" r="2.5"/><circle cx="447.5" cy="517.4" r="2.5"/><circle cx="414.6" cy="532.2" r="2.5"/><circle cx="419.7" cy="519.8" r="2.5"/><circle cx="421.6" cy="551.3" r="2.5"/><circle cx="424.2" cy="514" r="2.5"/><circle cx="435.5" cy="558.1" r="2.5"/><circle cx="418.5" cy="528.9" r="2.5"/><circle cx="427.3" cy="526.1" r="2.5"/><circle cx="437.3" cy="531.5" r="2.5"/><circle cx="430.5" cy="522.3" r="2.5"/><circle cx="438.4" cy="515.3" r="2.5"/><circle cx="424.2" cy="532.6" r="2.5"/><circle cx="425.5" cy="509.7" r="2.5"/><circle cx="442.4" cy="547.5" r="2.5"/><circle cx="444.3" cy="511.2" r="2.5"/><circle cx="448.6" cy="561.5" r="2.5"/><circle cx="417.7" cy="507.7" r="2.5"/><circle cx="443.4" cy="522.8" r="2.5"/><circle cx="427.6" cy="536.8" r="2.5"/><circle cx="444.1" cy="548" r="2.5"/><circle cx="444.2" cy="552.9" r="2.5"/><circle cx="426.9" cy="508.8" r="2.5"/><circle cx="425.4" cy="516.2" r="2.5"/><circle cx="416.3" cy="526.9" r="2.5"/><circle cx="428" cy="553.1" r="2.5"/><circle cx="418.2" cy="531.1" r="2.5"/><circle cx="422.4" cy="559.8" r="2.5"/><circle cx="439.7" cy="528.4" r="2.5"/><circle cx="430.9" cy="527.2" r="2.5"/><circle cx="436" cy="523" r="2.5"/><circle cx="425.4" cy="558.5" r="2.5"/><circle cx="447.6" cy="523.2" r="2.5"/><circle cx="446.4" cy="553.3" r="2.5"/><circle cx="445.3" cy="545.7" r="2.5"/><circle cx="429" cy="523.1" r="2.5"/><circle cx="446" cy="535.9" r="2.5"/><circle cx="435" cy="562.7" r="2.5"/><circle cx="432.5" cy="498.8" r="2.5"/><circle cx="437.6" cy="524" r="2.5"/><circle cx="434.5" cy="530.5" r="2.5"/><circle cx="421" cy="544.5" r="2.5"/><circle cx="446.5" cy="513.6" r="2.5"/><circle cx="429.4" cy="496.5" r="2.5"/><circle cx="416.2" cy="508.4" r="2.5"/><circle cx="446.7" cy="568.7" r="2.5"/><circle cx="425.6" cy="522.3" r="2.5"/><circle cx="430.1" cy="507.4" r="2.5"/><circle cx="429.6" cy="541.6" r="2.5"/><circle cx="444.5" cy="511.9" r="2.5"/><circle cx="430.1" cy="505.7" r="2.5"/><circle cx="445.7" cy="531.2" r="2.5"/><circle cx="421.4" cy="522.9" r="2.5"/><circle cx="447.5" cy="520" r="2.5"/><circle cx="417.8" cy="513.9" r="2.5"/><circle cx="432.3" cy="538.6" r="2.5"/><circle cx="424.8" cy="548.1" r="2.5"/><circle cx="414.2" cy="555.9" r="2.5"/><circle cx="442.1" cy="517.5" r="2.5"/><circle cx="434.7" cy="535.5" r="2.5"/><circle cx="436" cy="541.9" r="2.5"/><circle cx="423.6" cy="527.1" r="2.5"/><circle cx="443.5" cy="527.4" r="2.5"/><circle cx="427.8" cy="549.2" r="2.5"/><circle cx="421.6" cy="533.3" r="2.5"/><circle cx="432.1" cy="531.4" r="2.5"/><circle cx="440.2" cy="538" r="2.5"/><circle cx="419.3" cy="544" r="2.5"/><circle cx="418.2" cy="548.9" r="2.5"/><circle cx="421.3" cy="534.6" r="2.5"/><circle cx="425.5" cy="537" r="2.5"/><circle cx="418.5" cy="556.6" r="2.5"/><circle cx="418.9" cy="538.5" r="2.5"/><circle cx="414.9" cy="541.5" r="2.5"/><circle cx="414.6" cy="536.2" r="2.5"/><circle cx="441.3" cy="540.7" r="2.5"/><circle cx="437.5" cy="574.8" r="2.5"/><circle cx="427" cy="549.4" r="2.5"/><circle cx="442.9" cy="511.3" r="2.5"/><circle cx="430.5" cy="516.8" r="2.5"/><circle cx="417.9" cy="541.6" r="2.5"/><circle cx="415.3" cy="521.4" r="2.5"/><circle cx="425" cy="562.5" r="2.5"/><circle cx="439.2" cy="513" r="2.5"/><circle cx="427.8" cy="534.4" r="2.5"/><circle cx="426" cy="517.1" r="2.5"/><circle cx="440.2" cy="523.8" r="2.5"/><circle cx="433.4" cy="560.1" r="2.5"/><circle cx="442.3" cy="534.5" r="2.5"/><circle cx="442.8" cy="504.8" r="2.5"/><circle cx="441.6" cy="510" r="2.5"/><circle cx="435.1" cy="544.7" r="2.5"/><circle cx="426.3" cy="535.7" r="2.5"/><circle cx="436.7" cy="536.8" r="2.5"/><circle cx="420.7" cy="497" r="2.5"/><circle cx="444.9" cy="529.9" r="2.5"/><circle cx="439.6" cy="495.3" r="2.5"/><circle cx="422.8" cy="492.1" r="2.5"/><circle cx="434.3" cy="526" r="2.5"/><circle cx="427.1" cy="512.3" r="2.5"/><circle cx="427.7" cy="502.2" r="2.5"/><circle cx="434.5" cy="507.7" r="2.5"/><circle cx="439" cy="517.6" r="2.5"/><circle cx="438.9" cy="547.5" r="2.5"/><circle cx="448.1" cy="506" r="2.5"/><circle cx="444.1" cy="535.5" r="2.5"/><circle cx="436.4" cy="505" r="2.5"/><circle cx="427.9" cy="520.9" r="2.5"/><circle cx="426.9" cy="545.7" r="2.5"/><circle cx="434.8" cy="514.8" r="2.5"/><circle cx="428.4" cy="509.6" r="2.5"/><circle cx="429.8" cy="542.3" r="2.5"/><circle cx="428.3" cy="512.8" r="2.5"/><circle cx="435.1" cy="534.6" r="2.5"/><circle cx="428.5" cy="542.4" r="2.5"/><circle cx="444.6" cy="543.5" r="2.5"/><circle cx="440.9" cy="520.3" r="2.5"/><circle cx="440.9" cy="546.5" r="2.5"/><circle cx="440.5" cy="522.7" r="2.5"/><circle cx="414.2" cy="533.9" r="2.5"/><circle cx="431.8" cy="557.4" r="2.5"/><circle cx="418.7" cy="550.8" r="2.5"/></g>
<path d="M432.6 485.6 L432.7 486.3 L432.7 487.4 L432.8 488.6 L432.9 489.9 L433.2 491.2 L433.6 492.4 L434.4 493.5 L435.3 494.5 L436.3 495.5 L437.5 496.6 L438.7 497.6 L439.8 498.6 L441 499.6 L442.3 500.7 L443.6 501.7 L444.9 502.7 L446.1 503.8 L447.2 504.8 L448.3 505.8 L449.3 506.9 L450.2 507.9 L451.1 508.9 L452 510 L452.8 511 L453.7 512 L454.4 513.1 L455.1 514.1 L455.8 515.1 L456.5 516.2 L457.1 517.2 L457.8 518.2 L458.5 519.3 L459.1 520.4 L459.7 521.4 L460.2 522.4 L460.6 523.4 L461 524.3 L461.3 525 L461.6 525.8 L461.8 526.5 L461.9 527.3 L461.8 528.3 L461.7 529.4 L461.4 530.7 L461.1 532 L460.7 533.3 L460.2 534.6 L459.6 535.8 L459.1 536.9 L458.4 538 L457.6 539 L456.9 540 L456.1 541 L455.3 542 L454.6 543 L453.9 544.1 L453.1 545.1 L452.4 546.1 L451.7 547.2 L450.9 548.2 L450.2 549.2 L449.5 550.3 L448.8 551.3 L448 552.3 L447.3 553.4 L446.6 554.4 L446 555.4 L445.4 556.5 L444.8 557.5 L444.2 558.5 L443.6 559.6 L442.9 560.6 L442.2 561.6 L441.5 562.7 L440.7 563.7 L440 564.7 L439.3 565.8 L438.5 566.8 L437.9 567.8 L437.2 568.9 L436.6 570 L436 571 L435.4 572 L434.8 573 L434.3 573.9 L433.9 574.7 L433.4 575.5 L433 576.3 L432.6 577.1 L432.3 577.9 L432.1 578.7 L432 579.6 L431.9 580.4 L431.8 581.2 L431.8 582.1 L431.8 582.9 L431.7 583.7 L431.8 584.5 L431.8 585.3 L431.9 586.2 L432 587 L432.1 587.8 L432.3 588.6 L432.5 589.5 L432.7 590.4 L433 591.2 L433.2 592 L433.3 592.8 L433.5 593.5 L433.6 594.3 L433.7 595 L433.7 595.6 L433.8 596.1 L433.8 596.5 L428.4 596.5 L428.5 596.1 L428.6 595.6 L428.6 595 L428.7 594.3 L428.8 593.5 L428.9 592.8 L429.1 592 L429.3 591.2 L429.6 590.4 L429.8 589.5 L430 588.6 L430.1 587.8 L430.3 587 L430.4 586.2 L430.5 585.3 L430.5 584.5 L430.6 583.7 L430.5 582.9 L430.5 582.1 L430.5 581.2 L430.4 580.4 L430.3 579.6 L430.2 578.7 L429.9 577.9 L429.7 577.1 L429.3 576.3 L428.9 575.5 L428.4 574.7 L428 573.9 L427.4 573 L426.9 572 L426.3 571 L425.7 570 L425.1 568.9 L424.4 567.8 L423.8 566.8 L423 565.8 L422.3 564.7 L421.6 563.7 L420.8 562.7 L420.1 561.6 L419.3 560.6 L418.7 559.6 L418.1 558.5 L417.5 557.5 L416.9 556.5 L416.3 555.4 L415.6 554.4 L415 553.4 L414.3 552.3 L413.5 551.3 L412.8 550.3 L412.1 549.2 L411.3 548.2 L410.6 547.2 L409.9 546.1 L409.1 545.1 L408.4 544.1 L407.7 543 L406.9 542 L406.2 541 L405.4 540 L404.7 539 L403.9 538 L403.2 536.9 L402.6 535.8 L402.1 534.6 L401.6 533.3 L401.2 532 L400.9 530.7 L400.6 529.4 L400.4 528.3 L400.4 527.3 L400.5 526.5 L400.7 525.8 L401 525 L401.3 524.3 L401.6 523.4 L402.1 522.4 L402.6 521.4 L403.2 520.4 L403.8 519.3 L404.5 518.2 L405.1 517.2 L405.8 516.2 L406.5 515.1 L407.2 514.1 L407.9 513.1 L408.6 512 L409.4 511 L410.3 510 L411.2 508.9 L412.1 507.9 L413 506.9 L414 505.8 L415 504.8 L416.2 503.8 L417.4 502.7 L418.7 501.7 L420 500.7 L421.3 499.6 L422.4 498.6 L423.6 497.6 L424.8 496.6 L425.9 495.5 L427 494.5 L427.9 493.5 L428.6 492.4 L429.1 491.2 L429.4 489.9 L429.5 488.6 L429.6 487.4 L429.6 486.3 L429.6 485.6Z" fill="none" stroke="#CC0000" stroke-width="1.05" stroke-linejoin="round"/>
<g fill="none" stroke="#444" stroke-opacity="0.3" stroke-width="0.85"><path d="M416.8 594.2L419.5 599L414.1 599Z"/><path d="M427.3 594.2L430 599L424.6 599Z"/><path d="M436.8 594.2L439.5 599L434.1 599Z"/><path d="M439.8 594.2L442.5 599L437.1 599Z"/></g>
<line x1="431.1" y1="485.6" x2="431.1" y2="518.4" stroke="#CC0000" stroke-width="2.2"/>
<line x1="431.1" y1="544.5" x2="431.1" y2="574.2" stroke="#CC0000" stroke-width="2.2"/>
<rect x="422.9" y="519.6" width="16.5" height="23.7" fill="none" stroke="#CC0000" stroke-width="2.4"/>
<line x1="422.9" y1="529.6" x2="439.4" y2="529.6" stroke="#CC0000" stroke-width="4.6"/>
<g fill="#17B8CB" fill-opacity="0.2"><circle cx="484.4" cy="529.5" r="2.5"/><circle cx="487.7" cy="529.5" r="2.5"/><circle cx="504.7" cy="521" r="2.5"/><circle cx="508" cy="523.1" r="2.5"/><circle cx="499.8" cy="547.2" r="2.5"/><circle cx="502.5" cy="546.1" r="2.5"/><circle cx="494.3" cy="556.5" r="2.5"/><circle cx="504.7" cy="556.5" r="2.5"/><circle cx="482.8" cy="568.6" r="2.5"/><circle cx="489.9" cy="568.6" r="2.5"/><circle cx="482.3" cy="579.5" r="2.5"/><circle cx="500.3" cy="537.4" r="2.5"/></g>
<path d="M514.3 520.6 L515.2 521.2 L516.4 522.1 L517.8 523.2 L519.3 524.3 L520.8 525.4 L522 526.4 L523 527.3 L524 528.3 L524.8 529.2 L525.6 530.1 L526.4 531 L527 531.9 L527.6 532.8 L528.1 533.7 L528.5 534.7 L528.9 535.6 L529.1 536.5 L529.2 537.4 L529.2 538.3 L529 539.2 L528.7 540.1 L528.4 541 L528 541.9 L527.5 542.8 L527 543.7 L526.4 544.6 L525.7 545.5 L525.1 546.5 L524.4 547.4 L523.7 548.3 L523 549.2 L522.4 550.1 L521.7 551 L521 552 L520.4 552.9 L519.8 553.8 L519.3 554.7 L518.8 555.6 L518.4 556.6 L518 557.5 L517.5 558.4 L517.1 559.3 L516.6 560.2 L516.2 561.1 L515.7 562 L515.3 562.9 L514.8 563.8 L514.4 564.7 L514 565.6 L513.6 566.5 L513.3 567.4 L512.9 568.4 L512.6 569.3 L512.2 570.2 L511.8 571.1 L511.5 572 L511.1 573 L510.7 573.9 L510.4 574.8 L510 575.7 L509.6 576.6 L509.2 577.5 L508.9 578.5 L508.5 579.4 L508.1 580.3 L507.8 581.2 L507.5 582.1 L507.2 583 L506.9 583.9 L506.7 584.8 L506.4 585.7 L506.2 586.6 L506 587.5 L505.9 588.4 L505.8 589.4 L505.6 590.3 L505.5 591.2 L505.4 592.1 L505.2 593 L505.1 594 L504.9 595 L504.7 596 L504.6 596.7 L504.5 597.3 L492.5 597.3 L492.4 596.7 L492.3 596 L492.1 595 L491.9 594 L491.8 593 L491.6 592.1 L491.5 591.2 L491.4 590.3 L491.2 589.4 L491.1 588.4 L491 587.5 L490.8 586.6 L490.6 585.7 L490.3 584.8 L490.1 583.9 L489.8 583 L489.5 582.1 L489.2 581.2 L488.9 580.3 L488.5 579.4 L488.1 578.5 L487.8 577.5 L487.4 576.6 L487 575.7 L486.6 574.8 L486.3 573.9 L485.9 573 L485.5 572 L485.2 571.1 L484.8 570.2 L484.4 569.3 L484.1 568.4 L483.7 567.4 L483.4 566.5 L483 565.6 L482.6 564.7 L482.2 563.8 L481.7 562.9 L481.3 562 L480.8 561.1 L480.4 560.2 L479.9 559.3 L479.5 558.4 L479 557.5 L478.6 556.6 L478.2 555.6 L477.7 554.7 L477.2 553.8 L476.6 552.9 L476 552 L475.3 551 L474.6 550.1 L474 549.2 L473.3 548.3 L472.6 547.4 L471.9 546.5 L471.3 545.5 L470.6 544.6 L470 543.7 L469.5 542.8 L469.1 541.9 L468.6 541 L468.3 540.1 L468 539.2 L467.8 538.3 L467.8 537.4 L467.9 536.5 L468.1 535.6 L468.5 534.7 L468.9 533.7 L469.4 532.8 L470 531.9 L470.6 531 L471.4 530.1 L472.2 529.2 L473 528.3 L474 527.3 L475 526.4 L476.2 525.4 L477.7 524.3 L479.2 523.2 L480.6 522.1 L481.8 521.2 L482.7 520.6Z" fill="none" stroke="#17B8CB" stroke-width="1.05" stroke-linejoin="round"/>
<g fill="none" stroke="#444" stroke-opacity="0.3" stroke-width="0.85"><path d="M481.7 594.2L484.4 599L479 599Z"/><path d="M505.2 594.2L507.9 599L502.5 599Z"/></g>
<line x1="498.5" y1="520.6" x2="498.5" y2="533.9" stroke="#17B8CB" stroke-width="2.2"/>
<line x1="498.5" y1="565.6" x2="498.5" y2="597.3" stroke="#17B8CB" stroke-width="2.2"/>
<rect x="490.4" y="535.1" width="16.2" height="29.3" fill="none" stroke="#17B8CB" stroke-width="2.4"/>
<line x1="490.4" y1="541.8" x2="506.6" y2="541.8" stroke="#17B8CB" stroke-width="4.6"/>
<g fill="#17B8CB" fill-opacity="0.2"><circle cx="552.4" cy="510.4" r="2.5"/><circle cx="562.8" cy="516.4" r="2.5"/><circle cx="577.1" cy="523.5" r="2.5"/><circle cx="552.4" cy="535" r="2.5"/><circle cx="560.1" cy="544.3" r="2.5"/><circle cx="563.9" cy="555.3" r="2.5"/><circle cx="579.3" cy="557.5" r="2.5"/><circle cx="575.4" cy="535" r="2.5"/></g>
<path d="M579.7 510.4 L579.9 510.8 L580.2 511.3 L580.6 512 L580.9 512.7 L581.3 513.4 L581.7 514.2 L581.9 515 L582.1 515.9 L582.3 516.9 L582.6 517.9 L582.9 518.8 L583.2 519.7 L583.7 520.5 L584.3 521.2 L584.9 521.9 L585.5 522.6 L586.3 523.3 L587.1 524.1 L588 524.9 L589 525.8 L590.1 526.7 L591.2 527.7 L592.3 528.6 L593.2 529.6 L593.9 530.6 L594.7 531.7 L595.3 532.8 L595.9 533.9 L596.2 535 L596.4 536.1 L596.2 537.2 L595.9 538.3 L595.4 539.5 L594.8 540.6 L594 541.7 L593.2 542.7 L592.1 543.7 L590.9 544.7 L589.5 545.6 L588.2 546.5 L586.9 547.4 L586 548.2 L585.2 549 L584.7 549.7 L584.4 550.4 L584 551.1 L583.7 551.8 L583.2 552.6 L582.7 553.5 L582.1 554.5 L581.4 555.6 L580.8 556.6 L580.3 557.4 L580 558 L552 558 L551.6 557.4 L551.1 556.6 L550.5 555.6 L549.8 554.5 L549.2 553.5 L548.7 552.6 L548.2 551.8 L547.9 551.1 L547.5 550.4 L547.2 549.7 L546.7 549 L546 548.2 L545 547.4 L543.7 546.5 L542.4 545.6 L541 544.7 L539.8 543.7 L538.8 542.7 L537.9 541.7 L537.1 540.6 L536.5 539.5 L536 538.3 L535.7 537.2 L535.6 536.1 L535.7 535 L536 533.9 L536.6 532.8 L537.2 531.7 L538 530.6 L538.8 529.6 L539.6 528.6 L540.7 527.7 L541.8 526.7 L542.9 525.8 L543.9 524.9 L544.9 524.1 L545.6 523.3 L546.4 522.6 L547 521.9 L547.6 521.2 L548.2 520.5 L548.7 519.7 L549 518.8 L549.3 517.9 L549.6 516.9 L549.8 515.9 L550 515 L550.2 514.2 L550.6 513.4 L551 512.7 L551.4 512 L551.7 511.3 L552 510.8 L552.2 510.4Z" fill="none" stroke="#17B8CB" stroke-width="1.05" stroke-linejoin="round"/>
<line x1="566" y1="510.4" x2="566" y2="525.4" stroke="#17B8CB" stroke-width="2.2"/>
<line x1="566" y1="543.5" x2="566" y2="558" stroke="#17B8CB" stroke-width="2.2"/>
<rect x="557.7" y="526.6" width="16.5" height="15.7" fill="none" stroke="#17B8CB" stroke-width="2.4"/>
<line x1="557.7" y1="535" x2="574.2" y2="535" stroke="#17B8CB" stroke-width="4.6"/>
<g fill="#17B8CB" fill-opacity="0.2"><circle cx="649.3" cy="510.4" r="2.5"/><circle cx="646.8" cy="516.2" r="2.5"/><circle cx="621.1" cy="520.8" r="2.5"/><circle cx="619.4" cy="523.5" r="2.5"/><circle cx="637.5" cy="524.1" r="2.5"/><circle cx="623.3" cy="529.6" r="2.5"/><circle cx="621.6" cy="531.8" r="2.5"/><circle cx="639.2" cy="529.3" r="2.5"/><circle cx="647.4" cy="534.5" r="2.5"/><circle cx="650.1" cy="535.6" r="2.5"/><circle cx="621.6" cy="547.6" r="2.5"/><circle cx="630.9" cy="544.9" r="2.5"/><circle cx="638.1" cy="543.2" r="2.5"/><circle cx="622.7" cy="556.4" r="2.5"/><circle cx="645.7" cy="557.5" r="2.5"/><circle cx="618.9" cy="567.9" r="2.5"/><circle cx="640.8" cy="568.4" r="2.5"/><circle cx="640.2" cy="579.9" r="2.5"/></g>
<path d="M639.6 510.4 L640.2 511.1 L641 512 L642 513.1 L643.1 514.2 L644.1 515.4 L645.2 516.4 L646.2 517.3 L647.3 518.3 L648.4 519.2 L649.5 520.1 L650.7 521 L651.8 521.9 L653 522.8 L654.2 523.7 L655.4 524.5 L656.6 525.4 L657.8 526.4 L658.9 527.4 L660 528.6 L661.2 529.8 L662.3 531.1 L663.2 532.5 L664 533.8 L664.4 535 L664.4 536.2 L664.2 537.3 L663.7 538.4 L663 539.5 L662.3 540.6 L661.6 541.6 L660.8 542.6 L660 543.5 L659 544.4 L658.1 545.3 L657.1 546.2 L656.2 547.1 L655.3 548 L654.5 548.9 L653.6 549.7 L652.8 550.6 L652 551.6 L651.2 552.6 L650.5 553.7 L649.9 555 L649.3 556.3 L648.7 557.6 L648.1 558.9 L647.4 560.2 L646.7 561.5 L646 562.7 L645.2 564 L644.4 565.3 L643.7 566.6 L643 567.9 L642.3 569.3 L641.6 570.8 L640.9 572.3 L640.3 573.8 L639.7 575.3 L639.2 576.6 L638.8 577.8 L638.4 578.9 L638.1 580 L637.8 581 L637.6 582.1 L637.5 583.2 L637.5 584.4 L637.5 585.7 L637.7 587.1 L637.8 588.4 L638 589.7 L638.1 590.9 L638.2 592.1 L638.2 593.2 L638.2 594.4 L638.3 595.4 L638.3 596.3 L638.3 596.9 L628.7 596.9 L628.7 596.3 L628.7 595.4 L628.8 594.4 L628.8 593.2 L628.8 592.1 L628.9 590.9 L629 589.7 L629.2 588.4 L629.3 587.1 L629.5 585.7 L629.5 584.4 L629.5 583.2 L629.4 582.1 L629.2 581 L628.9 580 L628.6 578.9 L628.2 577.8 L627.8 576.6 L627.3 575.3 L626.7 573.8 L626.1 572.3 L625.4 570.8 L624.7 569.3 L624 567.9 L623.3 566.6 L622.6 565.3 L621.8 564 L621 562.7 L620.3 561.5 L619.6 560.2 L618.9 558.9 L618.3 557.6 L617.7 556.3 L617.1 555 L616.5 553.7 L615.8 552.6 L615 551.6 L614.2 550.6 L613.4 549.7 L612.5 548.9 L611.7 548 L610.8 547.1 L609.9 546.2 L608.9 545.3 L608 544.4 L607 543.5 L606.2 542.6 L605.4 541.6 L604.7 540.6 L604 539.5 L603.3 538.4 L602.8 537.3 L602.6 536.2 L602.6 535 L603 533.8 L603.8 532.5 L604.7 531.1 L605.8 529.8 L607 528.6 L608.1 527.4 L609.2 526.4 L610.4 525.4 L611.6 524.5 L612.8 523.7 L614 522.8 L615.2 521.9 L616.3 521 L617.5 520.1 L618.6 519.2 L619.7 518.3 L620.8 517.3 L621.8 516.4 L622.9 515.4 L623.9 514.2 L625 513.1 L626 512 L626.8 511.1 L627.4 510.4Z" fill="none" stroke="#17B8CB" stroke-width="1.05" stroke-linejoin="round"/>
<g fill="none" stroke="#444" stroke-opacity="0.3" stroke-width="0.85"><path d="M631.5 594.2L634.2 599L628.8 599Z"/><path d="M644.6 594.2L647.3 599L641.9 599Z"/></g>
<line x1="633.5" y1="510.4" x2="633.5" y2="531.5" stroke="#17B8CB" stroke-width="2.2"/>
<line x1="633.5" y1="557.2" x2="633.5" y2="579.4" stroke="#17B8CB" stroke-width="2.2"/>
<rect x="625.4" y="532.7" width="16.2" height="23.3" fill="none" stroke="#17B8CB" stroke-width="2.4"/>
<line x1="625.4" y1="539.4" x2="641.6" y2="539.4" stroke="#17B8CB" stroke-width="4.6"/>
<text x="391.6" y="497" font-size="13">ULoQ</text>
<text x="391.6" y="591.6" font-size="13">LoD</text>
<rect x="391.0" y="424.0" width="283.2" height="226.7" fill="none" stroke="#333333" stroke-width="1.75"/>
<rect x="102.1" y="653.8" width="283.6" height="227.8" fill="#fff"/>
<line x1="102.1" y1="722.9" x2="385.7" y2="722.9" stroke="#C4C4C4" stroke-width="1.05" stroke-dasharray="3.5 3.3"/>
<line x1="102.1" y1="817.1" x2="385.7" y2="817.1" stroke="#C4C4C4" stroke-width="1.05" stroke-dasharray="3.5 3.3"/>
<g fill="#CC0000" fill-opacity="0.2"><circle cx="142.7" cy="742.8" r="2.5"/><circle cx="126.2" cy="771.3" r="2.5"/><circle cx="145.5" cy="752.6" r="2.5"/><circle cx="128.4" cy="771.5" r="2.5"/><circle cx="159.2" cy="778.7" r="2.5"/><circle cx="135.4" cy="725.8" r="2.5"/><circle cx="143.9" cy="749.6" r="2.5"/><circle cx="160.4" cy="761.7" r="2.5"/><circle cx="146.9" cy="770.5" r="2.5"/><circle cx="131.5" cy="713.5" r="2.5"/><circle cx="138.5" cy="752.8" r="2.5"/><circle cx="142.4" cy="715.8" r="2.5"/><circle cx="146.1" cy="729" r="2.5"/><circle cx="131.7" cy="742.4" r="2.5"/><circle cx="134" cy="773.3" r="2.5"/><circle cx="131.1" cy="734.1" r="2.5"/><circle cx="138.9" cy="754.2" r="2.5"/><circle cx="126.9" cy="773.7" r="2.5"/><circle cx="146.5" cy="788.8" r="2.5"/><circle cx="143.9" cy="738.1" r="2.5"/><circle cx="136.5" cy="744.4" r="2.5"/><circle cx="157.1" cy="716.5" r="2.5"/><circle cx="128" cy="747.7" r="2.5"/><circle cx="148.9" cy="769.5" r="2.5"/><circle cx="130.4" cy="773.5" r="2.5"/><circle cx="126.8" cy="752.7" r="2.5"/><circle cx="136.9" cy="762.1" r="2.5"/><circle cx="140.5" cy="734.2" r="2.5"/><circle cx="128.7" cy="762.4" r="2.5"/><circle cx="131.2" cy="718.6" r="2.5"/><circle cx="140.1" cy="766.2" r="2.5"/><circle cx="139.8" cy="761.8" r="2.5"/><circle cx="148.8" cy="779.5" r="2.5"/><circle cx="127.6" cy="738.9" r="2.5"/><circle cx="127.1" cy="749.7" r="2.5"/><circle cx="132" cy="802.4" r="2.5"/><circle cx="154" cy="746.6" r="2.5"/><circle cx="130.2" cy="762.9" r="2.5"/><circle cx="147.2" cy="755.9" r="2.5"/><circle cx="140.6" cy="751.4" r="2.5"/><circle cx="149.6" cy="759.7" r="2.5"/><circle cx="138.4" cy="719.1" r="2.5"/><circle cx="132.1" cy="744.2" r="2.5"/><circle cx="133.4" cy="745.3" r="2.5"/><circle cx="157.2" cy="754.4" r="2.5"/><circle cx="139.3" cy="779.8" r="2.5"/><circle cx="144" cy="734.9" r="2.5"/><circle cx="127.2" cy="733.6" r="2.5"/><circle cx="131" cy="748.9" r="2.5"/><circle cx="151.6" cy="779" r="2.5"/><circle cx="148.1" cy="756.5" r="2.5"/><circle cx="151.6" cy="751.6" r="2.5"/><circle cx="145.9" cy="778.3" r="2.5"/><circle cx="153.7" cy="740.2" r="2.5"/><circle cx="129.5" cy="772.8" r="2.5"/><circle cx="126.4" cy="754.6" r="2.5"/><circle cx="128.7" cy="765.5" r="2.5"/><circle cx="142.1" cy="752.6" r="2.5"/><circle cx="149.8" cy="771.9" r="2.5"/><circle cx="147.1" cy="759" r="2.5"/><circle cx="133.7" cy="765" r="2.5"/><circle cx="139.8" cy="754.4" r="2.5"/><circle cx="137.1" cy="755.2" r="2.5"/><circle cx="131" cy="732.4" r="2.5"/><circle cx="141.7" cy="737.3" r="2.5"/><circle cx="148" cy="757.5" r="2.5"/><circle cx="143.5" cy="758.1" r="2.5"/><circle cx="130" cy="748.6" r="2.5"/><circle cx="149.2" cy="787.2" r="2.5"/><circle cx="143" cy="729.3" r="2.5"/><circle cx="158.4" cy="722.8" r="2.5"/><circle cx="138.3" cy="786.2" r="2.5"/><circle cx="154.7" cy="739.4" r="2.5"/><circle cx="142.1" cy="785.6" r="2.5"/><circle cx="159.9" cy="765.9" r="2.5"/><circle cx="136" cy="746.4" r="2.5"/><circle cx="144.9" cy="743.3" r="2.5"/><circle cx="140" cy="768.2" r="2.5"/><circle cx="159.6" cy="790.9" r="2.5"/><circle cx="158.2" cy="769.3" r="2.5"/><circle cx="127.3" cy="758.3" r="2.5"/><circle cx="150" cy="730" r="2.5"/><circle cx="147" cy="741" r="2.5"/><circle cx="132.2" cy="755.3" r="2.5"/><circle cx="144.8" cy="718.8" r="2.5"/><circle cx="152.6" cy="750.4" r="2.5"/><circle cx="157.7" cy="730.6" r="2.5"/><circle cx="155.6" cy="723.1" r="2.5"/><circle cx="156.6" cy="733.3" r="2.5"/><circle cx="137.9" cy="761.4" r="2.5"/><circle cx="149.7" cy="748.5" r="2.5"/><circle cx="126.2" cy="738.9" r="2.5"/><circle cx="129.4" cy="732.6" r="2.5"/><circle cx="145.4" cy="767.7" r="2.5"/><circle cx="148.5" cy="733.4" r="2.5"/><circle cx="154.8" cy="761.7" r="2.5"/><circle cx="148.7" cy="719.9" r="2.5"/><circle cx="128.4" cy="768.9" r="2.5"/><circle cx="158.2" cy="734.1" r="2.5"/><circle cx="141.5" cy="755.9" r="2.5"/><circle cx="128.3" cy="764.2" r="2.5"/><circle cx="143.4" cy="784.2" r="2.5"/><circle cx="140.5" cy="725.5" r="2.5"/><circle cx="132.4" cy="778.6" r="2.5"/><circle cx="148.4" cy="754.2" r="2.5"/><circle cx="148.7" cy="721.1" r="2.5"/><circle cx="144.1" cy="740.7" r="2.5"/><circle cx="157.5" cy="737.1" r="2.5"/><circle cx="138.6" cy="781.3" r="2.5"/><circle cx="133.3" cy="732.2" r="2.5"/><circle cx="160.1" cy="775.8" r="2.5"/><circle cx="135.8" cy="732" r="2.5"/><circle cx="149.6" cy="758" r="2.5"/><circle cx="132.8" cy="751.3" r="2.5"/><circle cx="148.7" cy="744.9" r="2.5"/><circle cx="132.1" cy="724.8" r="2.5"/><circle cx="138.4" cy="762.3" r="2.5"/><circle cx="160.2" cy="754.6" r="2.5"/><circle cx="132.4" cy="763" r="2.5"/><circle cx="131.7" cy="704.5" r="2.5"/><circle cx="154.5" cy="731.8" r="2.5"/><circle cx="155.9" cy="774" r="2.5"/><circle cx="155.3" cy="729.6" r="2.5"/><circle cx="159.8" cy="743.9" r="2.5"/><circle cx="160.1" cy="765" r="2.5"/><circle cx="134.1" cy="709.4" r="2.5"/><circle cx="137.2" cy="729" r="2.5"/><circle cx="134.2" cy="736.5" r="2.5"/><circle cx="144.7" cy="779.6" r="2.5"/><circle cx="154.3" cy="721.2" r="2.5"/><circle cx="127.2" cy="769.4" r="2.5"/><circle cx="148.1" cy="757.8" r="2.5"/><circle cx="136.6" cy="746.2" r="2.5"/><circle cx="127.2" cy="715.7" r="2.5"/><circle cx="141.3" cy="721.1" r="2.5"/><circle cx="152.4" cy="756.7" r="2.5"/><circle cx="159.5" cy="737.4" r="2.5"/><circle cx="156.8" cy="719.9" r="2.5"/><circle cx="151.6" cy="804.3" r="2.5"/><circle cx="139.7" cy="718" r="2.5"/><circle cx="157.6" cy="803.9" r="2.5"/><circle cx="142.7" cy="722.5" r="2.5"/><circle cx="159.6" cy="732.7" r="2.5"/><circle cx="156" cy="780.4" r="2.5"/><circle cx="136.6" cy="755.6" r="2.5"/><circle cx="145.2" cy="741.6" r="2.5"/><circle cx="139" cy="729.5" r="2.5"/><circle cx="132.6" cy="717.9" r="2.5"/><circle cx="144.6" cy="769.5" r="2.5"/><circle cx="127.6" cy="813" r="2.5"/><circle cx="134.2" cy="758.4" r="2.5"/><circle cx="137.4" cy="791.1" r="2.5"/><circle cx="154.9" cy="764.4" r="2.5"/><circle cx="158" cy="754.2" r="2.5"/><circle cx="137.4" cy="755.7" r="2.5"/><circle cx="159.2" cy="752.9" r="2.5"/><circle cx="127.4" cy="751.1" r="2.5"/><circle cx="142.2" cy="779.3" r="2.5"/><circle cx="131.1" cy="774.9" r="2.5"/><circle cx="138.2" cy="748.9" r="2.5"/><circle cx="132" cy="754.7" r="2.5"/><circle cx="135.9" cy="756" r="2.5"/><circle cx="159.6" cy="744.4" r="2.5"/><circle cx="132" cy="746.7" r="2.5"/><circle cx="141.1" cy="768.8" r="2.5"/><circle cx="128.4" cy="748" r="2.5"/><circle cx="134.2" cy="760.2" r="2.5"/><circle cx="142.3" cy="775.6" r="2.5"/><circle cx="142.8" cy="732.1" r="2.5"/><circle cx="150.3" cy="776.3" r="2.5"/><circle cx="139.2" cy="741.6" r="2.5"/><circle cx="142.9" cy="730.1" r="2.5"/><circle cx="134.2" cy="762" r="2.5"/><circle cx="146.4" cy="769.7" r="2.5"/><circle cx="158.5" cy="768.4" r="2.5"/><circle cx="141.8" cy="755.6" r="2.5"/><circle cx="130.4" cy="769.8" r="2.5"/><circle cx="152.8" cy="751.4" r="2.5"/><circle cx="130.3" cy="709.2" r="2.5"/><circle cx="136" cy="740.9" r="2.5"/><circle cx="141.3" cy="776.6" r="2.5"/><circle cx="147.5" cy="762.8" r="2.5"/><circle cx="127.7" cy="742.2" r="2.5"/><circle cx="146" cy="742.7" r="2.5"/><circle cx="128.7" cy="734.6" r="2.5"/><circle cx="146.7" cy="751.4" r="2.5"/><circle cx="134.8" cy="768.7" r="2.5"/><circle cx="134" cy="755.9" r="2.5"/><circle cx="137.6" cy="754.8" r="2.5"/><circle cx="158.3" cy="764.6" r="2.5"/><circle cx="160.2" cy="714.8" r="2.5"/><circle cx="130.1" cy="731.5" r="2.5"/><circle cx="145.6" cy="726.1" r="2.5"/><circle cx="155.9" cy="763.2" r="2.5"/><circle cx="139.8" cy="748" r="2.5"/><circle cx="157.4" cy="764.8" r="2.5"/><circle cx="156.4" cy="769.2" r="2.5"/><circle cx="132" cy="769.3" r="2.5"/><circle cx="155.4" cy="746.4" r="2.5"/><circle cx="130.2" cy="794.7" r="2.5"/><circle cx="134.6" cy="737.1" r="2.5"/><circle cx="134" cy="722.1" r="2.5"/><circle cx="127.5" cy="729.8" r="2.5"/><circle cx="132.2" cy="758" r="2.5"/><circle cx="131.4" cy="747.8" r="2.5"/><circle cx="149.9" cy="762.3" r="2.5"/><circle cx="129.1" cy="772.8" r="2.5"/><circle cx="135.2" cy="718.3" r="2.5"/><circle cx="155.9" cy="725.9" r="2.5"/><circle cx="131.1" cy="763" r="2.5"/><circle cx="153.4" cy="742.5" r="2.5"/><circle cx="139.3" cy="746" r="2.5"/><circle cx="144.5" cy="746.7" r="2.5"/><circle cx="141.2" cy="760.8" r="2.5"/><circle cx="127.9" cy="726.7" r="2.5"/><circle cx="143.6" cy="732" r="2.5"/><circle cx="152.4" cy="786.8" r="2.5"/><circle cx="126.5" cy="757.5" r="2.5"/><circle cx="149.3" cy="765.4" r="2.5"/><circle cx="125.6" cy="717" r="2.5"/><circle cx="138.7" cy="739.7" r="2.5"/><circle cx="158.2" cy="783.6" r="2.5"/><circle cx="159.1" cy="751.6" r="2.5"/><circle cx="146.2" cy="769.1" r="2.5"/><circle cx="146.8" cy="735.7" r="2.5"/><circle cx="125.7" cy="782.2" r="2.5"/><circle cx="139.3" cy="743.2" r="2.5"/><circle cx="134.5" cy="769" r="2.5"/><circle cx="139.7" cy="737.5" r="2.5"/><circle cx="157.7" cy="763" r="2.5"/><circle cx="135.4" cy="774.4" r="2.5"/><circle cx="137.6" cy="746.7" r="2.5"/><circle cx="147.4" cy="721.8" r="2.5"/><circle cx="141" cy="777.3" r="2.5"/><circle cx="142.5" cy="722.7" r="2.5"/><circle cx="126.1" cy="735.4" r="2.5"/><circle cx="144.3" cy="740.6" r="2.5"/><circle cx="128.4" cy="732.1" r="2.5"/><circle cx="153.8" cy="731.6" r="2.5"/><circle cx="132.8" cy="758" r="2.5"/><circle cx="153.3" cy="766.6" r="2.5"/><circle cx="149.6" cy="751.3" r="2.5"/><circle cx="139.3" cy="756.1" r="2.5"/><circle cx="156.6" cy="787.9" r="2.5"/><circle cx="155.6" cy="759.8" r="2.5"/><circle cx="140.5" cy="742.8" r="2.5"/><circle cx="132.1" cy="738.2" r="2.5"/><circle cx="150.9" cy="718.5" r="2.5"/><circle cx="139.1" cy="762.2" r="2.5"/><circle cx="151.6" cy="729" r="2.5"/><circle cx="144" cy="744.7" r="2.5"/><circle cx="151.3" cy="785.4" r="2.5"/><circle cx="147.9" cy="751.1" r="2.5"/><circle cx="141.9" cy="795.2" r="2.5"/><circle cx="136.7" cy="755.5" r="2.5"/><circle cx="160.3" cy="711.5" r="2.5"/><circle cx="135.9" cy="731.2" r="2.5"/><circle cx="146.4" cy="759.6" r="2.5"/><circle cx="131.7" cy="728.9" r="2.5"/><circle cx="151.4" cy="780.9" r="2.5"/><circle cx="150.8" cy="754.8" r="2.5"/><circle cx="130.3" cy="753" r="2.5"/><circle cx="158.3" cy="750.7" r="2.5"/><circle cx="128.1" cy="751" r="2.5"/><circle cx="155.2" cy="817.4" r="2.5"/><circle cx="155.4" cy="763.9" r="2.5"/><circle cx="152.9" cy="768.7" r="2.5"/><circle cx="137.8" cy="748.7" r="2.5"/><circle cx="127.7" cy="775" r="2.5"/><circle cx="129.4" cy="764.4" r="2.5"/><circle cx="135.6" cy="716.5" r="2.5"/><circle cx="136.4" cy="773.6" r="2.5"/><circle cx="140.3" cy="760.2" r="2.5"/><circle cx="128.2" cy="746.5" r="2.5"/><circle cx="146.5" cy="795.1" r="2.5"/><circle cx="150.4" cy="759.6" r="2.5"/><circle cx="128.7" cy="771.4" r="2.5"/><circle cx="134.4" cy="736.8" r="2.5"/><circle cx="131.2" cy="733.4" r="2.5"/><circle cx="137.3" cy="731" r="2.5"/><circle cx="135.2" cy="732.2" r="2.5"/><circle cx="150.4" cy="741.1" r="2.5"/><circle cx="143.6" cy="748.1" r="2.5"/><circle cx="159.8" cy="745.7" r="2.5"/><circle cx="130.6" cy="776.8" r="2.5"/><circle cx="148" cy="741.9" r="2.5"/><circle cx="147" cy="737.7" r="2.5"/><circle cx="128.1" cy="770.3" r="2.5"/><circle cx="133.7" cy="741.7" r="2.5"/><circle cx="145" cy="729.7" r="2.5"/><circle cx="153.7" cy="773.8" r="2.5"/><circle cx="126.3" cy="761.1" r="2.5"/><circle cx="131.2" cy="756.1" r="2.5"/><circle cx="152.4" cy="732" r="2.5"/><circle cx="146.3" cy="742.2" r="2.5"/><circle cx="152.8" cy="752.1" r="2.5"/><circle cx="126.4" cy="737.9" r="2.5"/><circle cx="158.8" cy="746.7" r="2.5"/><circle cx="132.8" cy="732.3" r="2.5"/><circle cx="154.2" cy="735" r="2.5"/><circle cx="133.7" cy="752.2" r="2.5"/><circle cx="146.3" cy="721.4" r="2.5"/><circle cx="148.5" cy="768.6" r="2.5"/><circle cx="134.9" cy="720.6" r="2.5"/><circle cx="142.1" cy="770.5" r="2.5"/><circle cx="127.5" cy="780.8" r="2.5"/><circle cx="152.6" cy="745.5" r="2.5"/><circle cx="146.4" cy="722.3" r="2.5"/><circle cx="150" cy="716.5" r="2.5"/><circle cx="153.6" cy="754" r="2.5"/><circle cx="143.2" cy="743.8" r="2.5"/><circle cx="132.7" cy="773" r="2.5"/><circle cx="139.8" cy="739.4" r="2.5"/><circle cx="126.1" cy="764.8" r="2.5"/><circle cx="139.4" cy="772.6" r="2.5"/><circle cx="135" cy="715.4" r="2.5"/><circle cx="127.4" cy="715.4" r="2.5"/><circle cx="154.3" cy="767.5" r="2.5"/><circle cx="141.3" cy="755.2" r="2.5"/><circle cx="126.5" cy="767.6" r="2.5"/><circle cx="141.1" cy="744.7" r="2.5"/><circle cx="132.8" cy="732.2" r="2.5"/><circle cx="155.6" cy="744.6" r="2.5"/><circle cx="160.3" cy="754.9" r="2.5"/><circle cx="125.5" cy="739.9" r="2.5"/><circle cx="135.3" cy="760.3" r="2.5"/><circle cx="145.3" cy="759.4" r="2.5"/><circle cx="141.9" cy="743.6" r="2.5"/><circle cx="152.3" cy="749.6" r="2.5"/><circle cx="136.4" cy="768.1" r="2.5"/><circle cx="141.2" cy="758.2" r="2.5"/><circle cx="146.5" cy="730.5" r="2.5"/><circle cx="130.4" cy="778.1" r="2.5"/><circle cx="133.9" cy="758.2" r="2.5"/><circle cx="130.9" cy="770.8" r="2.5"/><circle cx="143" cy="767.4" r="2.5"/><circle cx="126.7" cy="739.8" r="2.5"/><circle cx="129" cy="750.6" r="2.5"/><circle cx="159.5" cy="759.7" r="2.5"/><circle cx="143.8" cy="725.6" r="2.5"/><circle cx="136" cy="758.2" r="2.5"/><circle cx="154.7" cy="772.9" r="2.5"/><circle cx="141.8" cy="756.6" r="2.5"/><circle cx="144.1" cy="781.9" r="2.5"/><circle cx="140.4" cy="756.3" r="2.5"/><circle cx="126.2" cy="742.4" r="2.5"/><circle cx="137.9" cy="774.4" r="2.5"/><circle cx="148.3" cy="743.3" r="2.5"/><circle cx="151.3" cy="745" r="2.5"/><circle cx="155.3" cy="725.6" r="2.5"/><circle cx="152.6" cy="718.9" r="2.5"/><circle cx="158.2" cy="759.2" r="2.5"/><circle cx="143.7" cy="753.3" r="2.5"/><circle cx="140.1" cy="756.1" r="2.5"/><circle cx="154.5" cy="760.1" r="2.5"/><circle cx="128.2" cy="733.6" r="2.5"/><circle cx="148.1" cy="770.5" r="2.5"/><circle cx="143.7" cy="760.2" r="2.5"/><circle cx="127.4" cy="751.9" r="2.5"/><circle cx="132" cy="763.8" r="2.5"/><circle cx="153.1" cy="731.7" r="2.5"/><circle cx="153.9" cy="734.7" r="2.5"/><circle cx="155.9" cy="735.4" r="2.5"/><circle cx="130.8" cy="766.6" r="2.5"/><circle cx="148.2" cy="769.5" r="2.5"/><circle cx="159.2" cy="707.8" r="2.5"/><circle cx="148.7" cy="745" r="2.5"/><circle cx="134.9" cy="733.2" r="2.5"/><circle cx="135.6" cy="763.4" r="2.5"/><circle cx="147.1" cy="768.3" r="2.5"/><circle cx="131.8" cy="738.7" r="2.5"/><circle cx="142.1" cy="745.8" r="2.5"/><circle cx="125.6" cy="763.7" r="2.5"/><circle cx="136.6" cy="767.9" r="2.5"/><circle cx="146.1" cy="729.4" r="2.5"/><circle cx="157.9" cy="769.9" r="2.5"/><circle cx="134.5" cy="749.3" r="2.5"/><circle cx="127" cy="747.3" r="2.5"/><circle cx="132.7" cy="766.4" r="2.5"/><circle cx="131.5" cy="764.4" r="2.5"/><circle cx="129.3" cy="763.5" r="2.5"/><circle cx="153.4" cy="746" r="2.5"/><circle cx="154.8" cy="745" r="2.5"/><circle cx="133" cy="762" r="2.5"/><circle cx="149.7" cy="730.9" r="2.5"/><circle cx="147.2" cy="765.2" r="2.5"/><circle cx="138.7" cy="767.1" r="2.5"/><circle cx="148.7" cy="731.2" r="2.5"/><circle cx="137.6" cy="750.3" r="2.5"/><circle cx="126.4" cy="758.1" r="2.5"/><circle cx="151.4" cy="756.9" r="2.5"/><circle cx="157.9" cy="734.7" r="2.5"/><circle cx="156.8" cy="732.9" r="2.5"/><circle cx="131.7" cy="739.3" r="2.5"/><circle cx="155.5" cy="750.7" r="2.5"/><circle cx="158.9" cy="748.5" r="2.5"/><circle cx="142" cy="768.1" r="2.5"/><circle cx="155.7" cy="729.2" r="2.5"/><circle cx="149.3" cy="769.2" r="2.5"/><circle cx="158.8" cy="738" r="2.5"/><circle cx="127.3" cy="725" r="2.5"/><circle cx="134" cy="740.3" r="2.5"/><circle cx="133.1" cy="779.6" r="2.5"/><circle cx="132.4" cy="740.3" r="2.5"/><circle cx="134.6" cy="752.2" r="2.5"/><circle cx="149.6" cy="746.3" r="2.5"/><circle cx="133.6" cy="746.3" r="2.5"/><circle cx="154.4" cy="752.8" r="2.5"/><circle cx="126.9" cy="739.4" r="2.5"/><circle cx="136.9" cy="738.7" r="2.5"/><circle cx="136.5" cy="755.2" r="2.5"/><circle cx="151.6" cy="752.5" r="2.5"/><circle cx="148.4" cy="757" r="2.5"/><circle cx="133.1" cy="721.7" r="2.5"/><circle cx="146.4" cy="733" r="2.5"/><circle cx="149.8" cy="776.7" r="2.5"/><circle cx="143.3" cy="767" r="2.5"/><circle cx="150" cy="768.5" r="2.5"/><circle cx="151.6" cy="710.9" r="2.5"/><circle cx="140.9" cy="774.9" r="2.5"/><circle cx="138.3" cy="744" r="2.5"/><circle cx="151.8" cy="740.3" r="2.5"/><circle cx="145.4" cy="759.9" r="2.5"/><circle cx="160" cy="736.6" r="2.5"/><circle cx="136.7" cy="756.1" r="2.5"/><circle cx="152.4" cy="767.4" r="2.5"/><circle cx="132.7" cy="767.3" r="2.5"/><circle cx="138.6" cy="711.2" r="2.5"/><circle cx="137.1" cy="735.3" r="2.5"/><circle cx="158.4" cy="756" r="2.5"/><circle cx="133" cy="760" r="2.5"/><circle cx="141.6" cy="734.6" r="2.5"/><circle cx="152.5" cy="757.1" r="2.5"/><circle cx="140.9" cy="745.2" r="2.5"/><circle cx="130.6" cy="774.9" r="2.5"/><circle cx="143.5" cy="754.5" r="2.5"/><circle cx="154.9" cy="776" r="2.5"/><circle cx="157.9" cy="721.1" r="2.5"/><circle cx="127.8" cy="740.3" r="2.5"/><circle cx="154.2" cy="755.3" r="2.5"/><circle cx="131.1" cy="751.7" r="2.5"/><circle cx="140" cy="785" r="2.5"/><circle cx="136.2" cy="749.1" r="2.5"/><circle cx="125.8" cy="736.9" r="2.5"/><circle cx="133.6" cy="757" r="2.5"/><circle cx="152.4" cy="759.5" r="2.5"/><circle cx="143.6" cy="723.1" r="2.5"/><circle cx="138.9" cy="771.5" r="2.5"/><circle cx="131.4" cy="742.7" r="2.5"/><circle cx="157" cy="780.4" r="2.5"/><circle cx="133.2" cy="750" r="2.5"/><circle cx="135.4" cy="737.2" r="2.5"/><circle cx="130.7" cy="750.1" r="2.5"/><circle cx="137.2" cy="766.8" r="2.5"/><circle cx="155.5" cy="737.4" r="2.5"/><circle cx="139.3" cy="754" r="2.5"/><circle cx="134.9" cy="718.3" r="2.5"/><circle cx="160.4" cy="743.3" r="2.5"/><circle cx="149.5" cy="743.2" r="2.5"/><circle cx="156.4" cy="728.4" r="2.5"/><circle cx="125.9" cy="756.5" r="2.5"/><circle cx="129.5" cy="743.5" r="2.5"/><circle cx="127" cy="731.7" r="2.5"/><circle cx="150.5" cy="750.6" r="2.5"/><circle cx="144.2" cy="749.5" r="2.5"/><circle cx="133.1" cy="778.5" r="2.5"/><circle cx="131.4" cy="744.1" r="2.5"/><circle cx="128.3" cy="771.8" r="2.5"/><circle cx="138.1" cy="731" r="2.5"/><circle cx="141.9" cy="777.1" r="2.5"/><circle cx="153.8" cy="736.2" r="2.5"/><circle cx="129.8" cy="749.5" r="2.5"/><circle cx="140.1" cy="724.7" r="2.5"/><circle cx="135.4" cy="770.7" r="2.5"/><circle cx="130.4" cy="743.6" r="2.5"/><circle cx="156.3" cy="789.3" r="2.5"/><circle cx="155.9" cy="730.5" r="2.5"/><circle cx="126.9" cy="741.6" r="2.5"/><circle cx="130.6" cy="737.6" r="2.5"/><circle cx="125.7" cy="737.1" r="2.5"/><circle cx="148.4" cy="766.7" r="2.5"/><circle cx="153" cy="729.4" r="2.5"/><circle cx="142.1" cy="766.1" r="2.5"/><circle cx="130" cy="760.2" r="2.5"/><circle cx="129.7" cy="771.8" r="2.5"/><circle cx="140.8" cy="762.9" r="2.5"/><circle cx="133" cy="770.6" r="2.5"/><circle cx="150.2" cy="747.9" r="2.5"/><circle cx="146.9" cy="745" r="2.5"/><circle cx="136.8" cy="767.3" r="2.5"/><circle cx="152.1" cy="732.9" r="2.5"/><circle cx="133.2" cy="756" r="2.5"/><circle cx="143.5" cy="755.2" r="2.5"/><circle cx="134.2" cy="725" r="2.5"/></g>
<path d="M144.5 703.7 L144.5 704.3 L144.5 705.2 L144.5 706.2 L144.5 707.2 L144.6 708.4 L144.9 709.5 L145.3 710.6 L145.8 711.8 L146.4 713 L147 714.2 L147.7 715.5 L148.5 716.7 L149.3 717.9 L150.2 719.1 L151.2 720.3 L152.2 721.5 L153.3 722.7 L154.3 723.9 L155.4 725.1 L156.4 726.3 L157.6 727.5 L158.7 728.7 L159.7 729.9 L160.8 731.1 L161.8 732.3 L162.8 733.5 L163.8 734.8 L164.8 736 L165.7 737.2 L166.6 738.4 L167.4 739.6 L168.2 740.8 L169 742 L169.7 743.2 L170.3 744.4 L170.9 745.6 L171.5 746.8 L172 748 L172.5 749.2 L172.9 750.4 L173.2 751.6 L173.3 752.8 L173.3 754 L173.2 755.2 L172.9 756.4 L172.6 757.6 L172.1 758.8 L171.6 760 L171 761.2 L170.3 762.4 L169.6 763.6 L168.7 764.9 L167.7 766.1 L166.6 767.3 L165.3 768.5 L163.7 769.7 L162 770.9 L160.3 772.1 L158.7 773.3 L157.2 774.5 L155.8 775.7 L154.5 776.9 L153.2 778.1 L152 779.3 L150.9 780.5 L149.9 781.7 L149.1 782.9 L148.3 784.1 L147.7 785.4 L147.2 786.6 L146.7 787.8 L146.3 789 L145.9 790.2 L145.7 791.4 L145.4 792.6 L145.3 793.8 L145.1 795 L144.9 796.2 L144.7 797.4 L144.5 798.6 L144.3 799.8 L144.2 801 L144 802.2 L143.9 803.4 L143.8 804.6 L143.7 805.8 L143.7 807 L143.6 808.2 L143.6 809.4 L143.6 810.6 L143.6 811.8 L143.6 813.1 L143.7 814.3 L143.7 815.5 L143.8 816.7 L143.9 817.8 L144 818.9 L144.2 819.9 L144.4 820.9 L144.6 821.9 L144.7 822.8 L144.9 823.6 L145 824.4 L145.2 825.1 L145.3 825.8 L145.4 826.3 L145.5 826.8 L145.6 827.2 L140.4 827.2 L140.5 826.8 L140.6 826.3 L140.7 825.8 L140.8 825.1 L141 824.4 L141.1 823.6 L141.3 822.8 L141.4 821.9 L141.6 820.9 L141.8 819.9 L142 818.9 L142.1 817.8 L142.2 816.7 L142.3 815.5 L142.3 814.3 L142.4 813.1 L142.4 811.8 L142.4 810.6 L142.4 809.4 L142.4 808.2 L142.3 807 L142.3 805.8 L142.2 804.6 L142.1 803.4 L142 802.2 L141.8 801 L141.7 799.8 L141.5 798.6 L141.3 797.4 L141.1 796.2 L140.9 795 L140.7 793.8 L140.6 792.6 L140.3 791.4 L140.1 790.2 L139.7 789 L139.3 787.8 L138.8 786.6 L138.3 785.4 L137.7 784.1 L136.9 782.9 L136.1 781.7 L135.1 780.5 L134 779.3 L132.8 778.1 L131.5 776.9 L130.2 775.7 L128.8 774.5 L127.3 773.3 L125.7 772.1 L124 770.9 L122.3 769.7 L120.7 768.5 L119.4 767.3 L118.3 766.1 L117.3 764.9 L116.4 763.6 L115.7 762.4 L115 761.2 L114.4 760 L113.9 758.8 L113.4 757.6 L113.1 756.4 L112.8 755.2 L112.7 754 L112.7 752.8 L112.8 751.6 L113.1 750.4 L113.5 749.2 L114 748 L114.5 746.8 L115.1 745.6 L115.7 744.4 L116.3 743.2 L117 742 L117.8 740.8 L118.6 739.6 L119.4 738.4 L120.3 737.2 L121.2 736 L122.2 734.8 L123.2 733.5 L124.2 732.3 L125.2 731.1 L126.3 729.9 L127.3 728.7 L128.5 727.5 L129.6 726.3 L130.6 725.1 L131.7 723.9 L132.7 722.7 L133.8 721.5 L134.8 720.3 L135.8 719.1 L136.7 717.9 L137.5 716.7 L138.3 715.5 L139 714.2 L139.6 713 L140.2 711.8 L140.7 710.6 L141.1 709.5 L141.4 708.4 L141.5 707.2 L141.5 706.2 L141.5 705.2 L141.5 704.3 L141.5 703.7Z" fill="none" stroke="#CC0000" stroke-width="1.05" stroke-linejoin="round"/>
<g fill="none" stroke="#444" stroke-opacity="0.3" stroke-width="0.85"><path d="M136.5 824.6L139.2 829.4L133.8 829.4Z"/><path d="M141.5 824.6L144.2 829.4L138.8 829.4Z"/><path d="M146.5 824.6L149.2 829.4L143.8 829.4Z"/><path d="M151.5 824.6L154.2 829.4L148.8 829.4Z"/><path d="M156 824.6L158.7 829.4L153.3 829.4Z"/></g>
<line x1="143" y1="703.7" x2="143" y2="740.1" stroke="#CC0000" stroke-width="2.2"/>
<line x1="143" y1="766.1" x2="143" y2="801.9" stroke="#CC0000" stroke-width="2.2"/>
<rect x="134.8" y="741.3" width="16.4" height="23.6" fill="none" stroke="#CC0000" stroke-width="2.4"/>
<line x1="134.8" y1="753.5" x2="151.2" y2="753.5" stroke="#CC0000" stroke-width="4.6"/>
<g fill="#17B8CB" fill-opacity="0.2"><circle cx="201.8" cy="756.6" r="2.5"/><circle cx="223.2" cy="778.7" r="2.5"/><circle cx="215" cy="755" r="2.5"/><circle cx="201.6" cy="764.5" r="2.5"/><circle cx="227.2" cy="743.4" r="2.5"/><circle cx="207.3" cy="776.1" r="2.5"/><circle cx="224.3" cy="745.1" r="2.5"/><circle cx="224" cy="758.6" r="2.5"/><circle cx="211.5" cy="748.3" r="2.5"/><circle cx="199" cy="739.8" r="2.5"/><circle cx="213.8" cy="779.3" r="2.5"/><circle cx="207.8" cy="780.6" r="2.5"/><circle cx="200.8" cy="767.6" r="2.5"/><circle cx="194" cy="747.2" r="2.5"/><circle cx="207" cy="755.6" r="2.5"/><circle cx="218.2" cy="757.3" r="2.5"/><circle cx="212.2" cy="761.8" r="2.5"/><circle cx="206.8" cy="754.4" r="2.5"/><circle cx="194.2" cy="755.7" r="2.5"/><circle cx="202.3" cy="742.6" r="2.5"/><circle cx="221.8" cy="761.1" r="2.5"/><circle cx="225.3" cy="761.5" r="2.5"/><circle cx="205.9" cy="759.2" r="2.5"/><circle cx="222" cy="760.8" r="2.5"/><circle cx="204.3" cy="738" r="2.5"/><circle cx="216.5" cy="745.2" r="2.5"/><circle cx="217.3" cy="741" r="2.5"/><circle cx="220.8" cy="770.7" r="2.5"/><circle cx="193.7" cy="736.8" r="2.5"/><circle cx="212.7" cy="721.5" r="2.5"/><circle cx="212.7" cy="745.9" r="2.5"/><circle cx="214.9" cy="748.2" r="2.5"/><circle cx="205.9" cy="730.1" r="2.5"/><circle cx="217.5" cy="730.5" r="2.5"/><circle cx="212" cy="727.2" r="2.5"/><circle cx="200.2" cy="766" r="2.5"/><circle cx="205.8" cy="725.7" r="2.5"/><circle cx="219.7" cy="741" r="2.5"/><circle cx="211.4" cy="738.1" r="2.5"/><circle cx="216.1" cy="733.2" r="2.5"/><circle cx="204.8" cy="755" r="2.5"/><circle cx="204.9" cy="768.7" r="2.5"/><circle cx="201.7" cy="765.1" r="2.5"/><circle cx="220.8" cy="732.7" r="2.5"/><circle cx="206.2" cy="756.6" r="2.5"/><circle cx="219.7" cy="764.6" r="2.5"/><circle cx="209.7" cy="731.9" r="2.5"/><circle cx="205" cy="750.9" r="2.5"/><circle cx="207.3" cy="726.1" r="2.5"/><circle cx="197.4" cy="747.4" r="2.5"/><circle cx="216.1" cy="773.1" r="2.5"/><circle cx="197.8" cy="736" r="2.5"/><circle cx="224" cy="758.2" r="2.5"/><circle cx="215.6" cy="765.6" r="2.5"/><circle cx="225" cy="751.7" r="2.5"/><circle cx="212.2" cy="761.9" r="2.5"/><circle cx="224.2" cy="761.2" r="2.5"/><circle cx="212" cy="764.7" r="2.5"/><circle cx="201" cy="762.3" r="2.5"/><circle cx="193.9" cy="762.7" r="2.5"/><circle cx="209" cy="745.8" r="2.5"/><circle cx="196.5" cy="768.7" r="2.5"/><circle cx="198.8" cy="768" r="2.5"/><circle cx="200.5" cy="739.2" r="2.5"/><circle cx="197.7" cy="759.1" r="2.5"/><circle cx="216.3" cy="770.7" r="2.5"/><circle cx="198.5" cy="749.5" r="2.5"/><circle cx="205" cy="751.4" r="2.5"/><circle cx="225.4" cy="738.8" r="2.5"/><circle cx="200.2" cy="757.4" r="2.5"/><circle cx="225.1" cy="762.7" r="2.5"/><circle cx="197.5" cy="719.3" r="2.5"/><circle cx="209.1" cy="742.7" r="2.5"/><circle cx="199.4" cy="737.9" r="2.5"/><circle cx="214.1" cy="743.5" r="2.5"/><circle cx="223" cy="765.7" r="2.5"/><circle cx="206.7" cy="765.3" r="2.5"/><circle cx="221.1" cy="766.6" r="2.5"/><circle cx="219" cy="758.8" r="2.5"/><circle cx="218.4" cy="777.3" r="2.5"/><circle cx="218.3" cy="764.9" r="2.5"/><circle cx="215" cy="760.7" r="2.5"/><circle cx="197.2" cy="741.7" r="2.5"/><circle cx="207.7" cy="763.3" r="2.5"/><circle cx="204.2" cy="776.2" r="2.5"/><circle cx="202.5" cy="770.7" r="2.5"/><circle cx="193.2" cy="761" r="2.5"/><circle cx="201.7" cy="774.4" r="2.5"/><circle cx="213.5" cy="746" r="2.5"/><circle cx="199.4" cy="779.2" r="2.5"/><circle cx="198.8" cy="770" r="2.5"/><circle cx="223.3" cy="776.7" r="2.5"/><circle cx="217" cy="745.1" r="2.5"/><circle cx="200.6" cy="771.7" r="2.5"/><circle cx="220" cy="774.4" r="2.5"/><circle cx="208.3" cy="738.6" r="2.5"/><circle cx="226.1" cy="774.3" r="2.5"/><circle cx="215.3" cy="756.2" r="2.5"/><circle cx="200.9" cy="738.2" r="2.5"/><circle cx="213.4" cy="734" r="2.5"/><circle cx="207.5" cy="757" r="2.5"/><circle cx="208.1" cy="765.7" r="2.5"/><circle cx="199.9" cy="741.4" r="2.5"/><circle cx="218.4" cy="764.7" r="2.5"/><circle cx="200.6" cy="762.3" r="2.5"/><circle cx="214.4" cy="765" r="2.5"/><circle cx="207.5" cy="772.9" r="2.5"/><circle cx="220.3" cy="755.5" r="2.5"/><circle cx="214.9" cy="749.9" r="2.5"/><circle cx="213.8" cy="758.9" r="2.5"/><circle cx="216.3" cy="737.9" r="2.5"/><circle cx="209.1" cy="767.5" r="2.5"/><circle cx="212.7" cy="757.3" r="2.5"/><circle cx="224.6" cy="777.4" r="2.5"/><circle cx="200.6" cy="767.2" r="2.5"/><circle cx="199.5" cy="742.7" r="2.5"/><circle cx="206.9" cy="765.9" r="2.5"/><circle cx="217.5" cy="764.4" r="2.5"/><circle cx="198.3" cy="743.9" r="2.5"/><circle cx="199.7" cy="757.5" r="2.5"/><circle cx="209.8" cy="771.4" r="2.5"/><circle cx="215.7" cy="756.5" r="2.5"/><circle cx="204.2" cy="765.6" r="2.5"/><circle cx="197.7" cy="757" r="2.5"/><circle cx="194.7" cy="760.1" r="2.5"/><circle cx="197.7" cy="753.4" r="2.5"/></g>
<path d="M212.3 716 L212.4 716.6 L212.5 717.4 L212.7 718.4 L212.9 719.4 L213.2 720.4 L213.7 721.4 L214.3 722.3 L215.2 723.2 L216.1 724.1 L217.2 725.1 L218.2 726 L219.2 726.9 L220.1 727.8 L221 728.7 L221.8 729.7 L222.7 730.6 L223.6 731.5 L224.5 732.4 L225.5 733.3 L226.4 734.2 L227.3 735.1 L228.3 736 L229.2 736.9 L230 737.8 L230.9 738.7 L231.7 739.6 L232.6 740.5 L233.4 741.5 L234.2 742.4 L234.9 743.3 L235.7 744.2 L236.6 745.2 L237.3 746.2 L238.1 747.1 L238.8 748 L239.3 748.8 L239.8 749.5 L240.3 750 L240.6 750.4 L240.9 750.9 L241 751.4 L241 752.1 L240.9 752.9 L240.7 753.8 L240.3 754.7 L239.9 755.7 L239.4 756.7 L238.8 757.6 L238.2 758.5 L237.5 759.4 L236.7 760.3 L236 761.2 L235.2 762.1 L234.4 763 L233.8 763.9 L233.2 764.8 L232.6 765.7 L232 766.7 L231.3 767.6 L230.7 768.5 L229.9 769.4 L229.1 770.3 L228.3 771.2 L227.4 772.2 L226.5 773.1 L225.7 774 L224.8 774.9 L223.9 775.8 L223 776.8 L222 777.7 L221.1 778.6 L220.2 779.5 L219.4 780.4 L218.4 781.3 L217.6 782.2 L216.7 783.1 L215.9 784 L215.2 784.9 L214.7 785.8 L214.3 786.8 L213.9 787.9 L213.6 788.8 L213.3 789.7 L213 790.4 L212.8 791 L212.7 791.5 L212.6 791.8 L212.5 792.2 L212.4 792.4 L212.3 792.6 L208.3 792.6 L208.3 792.4 L208.2 792.2 L208.1 791.8 L208 791.5 L207.9 791 L207.7 790.4 L207.4 789.7 L207.1 788.8 L206.8 787.9 L206.4 786.8 L206 785.8 L205.4 784.9 L204.8 784 L204 783.1 L203.1 782.2 L202.2 781.3 L201.3 780.4 L200.4 779.5 L199.6 778.6 L198.7 777.7 L197.8 776.8 L196.8 775.8 L195.9 774.9 L195 774 L194.2 773.1 L193.3 772.2 L192.4 771.2 L191.6 770.3 L190.8 769.4 L190 768.5 L189.4 767.6 L188.7 766.7 L188.1 765.7 L187.5 764.8 L186.9 763.9 L186.2 763 L185.5 762.1 L184.7 761.2 L183.9 760.3 L183.2 759.4 L182.5 758.5 L181.8 757.6 L181.3 756.7 L180.8 755.7 L180.4 754.7 L180 753.8 L179.8 752.9 L179.7 752.1 L179.7 751.4 L179.8 750.9 L180.1 750.4 L180.4 750 L180.9 749.5 L181.3 748.8 L181.9 748 L182.6 747.1 L183.4 746.2 L184.1 745.2 L185 744.2 L185.8 743.3 L186.5 742.4 L187.3 741.5 L188.1 740.5 L189 739.6 L189.8 738.7 L190.7 737.8 L191.5 736.9 L192.4 736 L193.4 735.1 L194.3 734.2 L195.2 733.3 L196.2 732.4 L197.1 731.5 L198 730.6 L198.9 729.7 L199.7 728.7 L200.6 727.8 L201.5 726.9 L202.5 726 L203.5 725.1 L204.6 724.1 L205.5 723.2 L206.4 722.3 L207 721.4 L207.5 720.4 L207.8 719.4 L208 718.4 L208.2 717.4 L208.3 716.6 L208.3 716Z" fill="none" stroke="#17B8CB" stroke-width="1.05" stroke-linejoin="round"/>
<line x1="210.3" y1="716" x2="210.3" y2="744.4" stroke="#17B8CB" stroke-width="2.2"/>
<line x1="210.3" y1="766.9" x2="210.3" y2="792.6" stroke="#17B8CB" stroke-width="2.2"/>
<rect x="202.4" y="745.6" width="15.9" height="20.1" fill="none" stroke="#17B8CB" stroke-width="2.4"/>
<line x1="202.4" y1="753.2" x2="218.3" y2="753.2" stroke="#17B8CB" stroke-width="4.6"/>
<g fill="#17B8CB" fill-opacity="0.2"><circle cx="264.2" cy="767.3" r="2.5"/><circle cx="293.1" cy="768.6" r="2.5"/><circle cx="278.4" cy="770.5" r="2.5"/><circle cx="292.8" cy="748.1" r="2.5"/><circle cx="284.3" cy="745.6" r="2.5"/><circle cx="286.3" cy="757.3" r="2.5"/><circle cx="286.2" cy="781.5" r="2.5"/><circle cx="278.1" cy="770.1" r="2.5"/><circle cx="285.6" cy="761.4" r="2.5"/><circle cx="270.9" cy="760.2" r="2.5"/><circle cx="285.4" cy="741.6" r="2.5"/><circle cx="261.7" cy="759.9" r="2.5"/><circle cx="293.8" cy="770.5" r="2.5"/><circle cx="289.5" cy="735.1" r="2.5"/><circle cx="277.2" cy="751.7" r="2.5"/><circle cx="282.2" cy="773.9" r="2.5"/><circle cx="282" cy="772.3" r="2.5"/><circle cx="294.6" cy="748.4" r="2.5"/><circle cx="271" cy="768.7" r="2.5"/><circle cx="263.8" cy="759.6" r="2.5"/><circle cx="261.3" cy="778" r="2.5"/><circle cx="268.6" cy="766.1" r="2.5"/><circle cx="261.2" cy="766.1" r="2.5"/><circle cx="272.4" cy="769" r="2.5"/><circle cx="291.8" cy="775.3" r="2.5"/><circle cx="260.4" cy="756.7" r="2.5"/><circle cx="262" cy="754.3" r="2.5"/><circle cx="274.9" cy="760.2" r="2.5"/><circle cx="289" cy="781.9" r="2.5"/><circle cx="278.2" cy="744" r="2.5"/><circle cx="283.1" cy="756.6" r="2.5"/><circle cx="281.8" cy="776.4" r="2.5"/><circle cx="270.2" cy="768.7" r="2.5"/><circle cx="279.7" cy="783" r="2.5"/><circle cx="268.5" cy="749.3" r="2.5"/><circle cx="278.1" cy="747.2" r="2.5"/><circle cx="272.9" cy="759.5" r="2.5"/><circle cx="293.3" cy="736.9" r="2.5"/><circle cx="280.3" cy="770.4" r="2.5"/><circle cx="289.5" cy="765.9" r="2.5"/><circle cx="275.2" cy="740.9" r="2.5"/><circle cx="283" cy="769.6" r="2.5"/><circle cx="284.1" cy="735.6" r="2.5"/><circle cx="272.9" cy="758.8" r="2.5"/><circle cx="271.3" cy="759.6" r="2.5"/><circle cx="278.9" cy="749.4" r="2.5"/><circle cx="267.9" cy="746.7" r="2.5"/><circle cx="263.1" cy="763.1" r="2.5"/><circle cx="284.2" cy="766.5" r="2.5"/><circle cx="272.7" cy="750.6" r="2.5"/><circle cx="293.6" cy="746.1" r="2.5"/><circle cx="282.3" cy="753.8" r="2.5"/><circle cx="268.2" cy="727.2" r="2.5"/><circle cx="266.6" cy="740.1" r="2.5"/><circle cx="265" cy="748.3" r="2.5"/><circle cx="275.4" cy="755.4" r="2.5"/><circle cx="272.7" cy="767.6" r="2.5"/></g>
<path d="M283.7 726 L283.8 726.6 L283.8 727.4 L283.9 728.4 L284.1 729.4 L284.2 730.4 L284.5 731.4 L284.8 732.3 L285.1 733.2 L285.4 734.1 L285.9 735.1 L286.4 736 L287.2 736.9 L288.2 737.8 L289.4 738.7 L290.7 739.7 L292.2 740.6 L293.6 741.5 L294.9 742.4 L296.2 743.3 L297.5 744.2 L298.8 745.1 L300.1 746 L301.3 746.9 L302.5 747.8 L303.7 748.7 L305 749.6 L306.3 750.5 L307.4 751.5 L308.2 752.4 L308.6 753.3 L308.5 754.2 L308 755.1 L307.3 756 L306.4 757 L305.5 757.9 L304.7 758.8 L304 759.7 L303.4 760.6 L302.7 761.6 L302 762.5 L301.4 763.4 L300.9 764.3 L300.5 765.2 L300.2 766.1 L299.9 767 L299.7 767.9 L299.3 768.8 L298.7 769.7 L297.9 770.6 L297 771.5 L295.9 772.4 L294.8 773.4 L293.7 774.3 L292.7 775.2 L291.7 776.1 L290.6 777.1 L289.5 778.1 L288.5 779.1 L287.5 779.9 L286.7 780.7 L286 781.3 L285.4 781.9 L284.9 782.4 L284.5 782.8 L284.2 783.1 L283.9 783.4 L271.9 783.4 L271.6 783.1 L271.3 782.8 L270.9 782.4 L270.4 781.9 L269.8 781.3 L269.1 780.7 L268.3 779.9 L267.3 779.1 L266.3 778.1 L265.2 777.1 L264.1 776.1 L263.1 775.2 L262.1 774.3 L261 773.4 L259.9 772.4 L258.8 771.5 L257.9 770.6 L257.1 769.7 L256.5 768.8 L256.1 767.9 L255.9 767 L255.6 766.1 L255.3 765.2 L254.9 764.3 L254.4 763.4 L253.8 762.5 L253.1 761.6 L252.4 760.6 L251.8 759.7 L251.1 758.8 L250.3 757.9 L249.4 757 L248.5 756 L247.8 755.1 L247.3 754.2 L247.2 753.3 L247.6 752.4 L248.4 751.5 L249.5 750.5 L250.8 749.6 L252.1 748.7 L253.3 747.8 L254.5 746.9 L255.7 746 L257 745.1 L258.3 744.2 L259.6 743.3 L260.9 742.4 L262.2 741.5 L263.6 740.6 L265.1 739.7 L266.4 738.7 L267.6 737.8 L268.6 736.9 L269.4 736 L269.9 735.1 L270.4 734.1 L270.7 733.2 L271 732.3 L271.3 731.4 L271.6 730.4 L271.7 729.4 L271.9 728.4 L272 727.4 L272 726.6 L272.1 726Z" fill="none" stroke="#17B8CB" stroke-width="1.05" stroke-linejoin="round"/>
<line x1="277.9" y1="726" x2="277.9" y2="747.8" stroke="#17B8CB" stroke-width="2.2"/>
<line x1="277.9" y1="767.3" x2="277.9" y2="783.4" stroke="#17B8CB" stroke-width="2.2"/>
<rect x="269.4" y="749" width="17" height="17.1" fill="none" stroke="#17B8CB" stroke-width="2.4"/>
<line x1="269.4" y1="755" x2="286.4" y2="755" stroke="#17B8CB" stroke-width="4.6"/>
<g fill="#17B8CB" fill-opacity="0.2"><circle cx="340.8" cy="786.7" r="2.5"/><circle cx="341.2" cy="719.3" r="2.5"/><circle cx="361.9" cy="741.3" r="2.5"/><circle cx="342" cy="746" r="2.5"/><circle cx="346.9" cy="749" r="2.5"/><circle cx="332.7" cy="767.1" r="2.5"/><circle cx="355.4" cy="753.8" r="2.5"/><circle cx="347.3" cy="747" r="2.5"/><circle cx="331.3" cy="774.5" r="2.5"/><circle cx="352.6" cy="786.1" r="2.5"/><circle cx="338.8" cy="760" r="2.5"/><circle cx="330.9" cy="757.5" r="2.5"/><circle cx="352.6" cy="783.8" r="2.5"/><circle cx="328.4" cy="747.5" r="2.5"/><circle cx="361.9" cy="751.8" r="2.5"/><circle cx="340.1" cy="736.2" r="2.5"/><circle cx="338.3" cy="758.2" r="2.5"/><circle cx="345.3" cy="765.6" r="2.5"/><circle cx="358" cy="758.9" r="2.5"/><circle cx="338.1" cy="757.8" r="2.5"/><circle cx="363" cy="744.2" r="2.5"/><circle cx="333.8" cy="751.5" r="2.5"/><circle cx="329" cy="758.9" r="2.5"/><circle cx="357.2" cy="735.1" r="2.5"/><circle cx="340.9" cy="755.1" r="2.5"/><circle cx="359.2" cy="733.4" r="2.5"/><circle cx="355" cy="780.3" r="2.5"/><circle cx="342.9" cy="755" r="2.5"/><circle cx="356.1" cy="738.6" r="2.5"/><circle cx="344" cy="729.9" r="2.5"/><circle cx="328.5" cy="749.9" r="2.5"/><circle cx="343.1" cy="746.3" r="2.5"/><circle cx="332.7" cy="754.1" r="2.5"/><circle cx="346.7" cy="750.1" r="2.5"/><circle cx="343.6" cy="766.6" r="2.5"/><circle cx="354.7" cy="785.3" r="2.5"/><circle cx="329.5" cy="752.8" r="2.5"/><circle cx="357.1" cy="764.6" r="2.5"/><circle cx="338.5" cy="767.2" r="2.5"/><circle cx="328.6" cy="750.1" r="2.5"/><circle cx="349.4" cy="734.3" r="2.5"/><circle cx="360.5" cy="767.1" r="2.5"/><circle cx="355" cy="739" r="2.5"/><circle cx="336.5" cy="738.6" r="2.5"/><circle cx="328.5" cy="766.2" r="2.5"/><circle cx="335.3" cy="773.5" r="2.5"/><circle cx="340.4" cy="737.5" r="2.5"/><circle cx="349.3" cy="760" r="2.5"/><circle cx="348.3" cy="758.8" r="2.5"/><circle cx="329.9" cy="746.2" r="2.5"/><circle cx="343.7" cy="769.6" r="2.5"/><circle cx="359.4" cy="753.8" r="2.5"/><circle cx="329.5" cy="740.2" r="2.5"/><circle cx="340.4" cy="779.9" r="2.5"/><circle cx="346.5" cy="765.3" r="2.5"/><circle cx="342.4" cy="756.4" r="2.5"/><circle cx="358" cy="739.1" r="2.5"/><circle cx="331.8" cy="774.8" r="2.5"/><circle cx="347.6" cy="773.2" r="2.5"/><circle cx="350" cy="767.6" r="2.5"/><circle cx="345.3" cy="758.8" r="2.5"/><circle cx="340.7" cy="777" r="2.5"/><circle cx="340.5" cy="737.3" r="2.5"/><circle cx="330.6" cy="758.1" r="2.5"/><circle cx="357.4" cy="752.2" r="2.5"/><circle cx="334.6" cy="768" r="2.5"/><circle cx="356.5" cy="769.9" r="2.5"/><circle cx="350.5" cy="776.7" r="2.5"/><circle cx="329.6" cy="737.9" r="2.5"/><circle cx="328.1" cy="752.2" r="2.5"/><circle cx="345.7" cy="768" r="2.5"/><circle cx="343.6" cy="757.6" r="2.5"/><circle cx="342.4" cy="736.9" r="2.5"/><circle cx="362.8" cy="759.5" r="2.5"/><circle cx="330.4" cy="748" r="2.5"/><circle cx="352.5" cy="784.3" r="2.5"/><circle cx="338.5" cy="770.9" r="2.5"/><circle cx="328.5" cy="733.4" r="2.5"/><circle cx="338.2" cy="763.1" r="2.5"/><circle cx="340.5" cy="726.9" r="2.5"/><circle cx="328.5" cy="757.2" r="2.5"/><circle cx="343.4" cy="739.8" r="2.5"/><circle cx="340.8" cy="764.6" r="2.5"/><circle cx="350.2" cy="744.7" r="2.5"/><circle cx="342.6" cy="739.6" r="2.5"/><circle cx="338.8" cy="759.9" r="2.5"/><circle cx="345.1" cy="738.3" r="2.5"/><circle cx="361.8" cy="730.9" r="2.5"/><circle cx="358.4" cy="744.6" r="2.5"/><circle cx="335.7" cy="752.1" r="2.5"/><circle cx="351.4" cy="756.7" r="2.5"/><circle cx="358.5" cy="730.3" r="2.5"/><circle cx="328.5" cy="730.9" r="2.5"/><circle cx="355.3" cy="748.1" r="2.5"/><circle cx="344.6" cy="743.2" r="2.5"/><circle cx="336.6" cy="758.6" r="2.5"/><circle cx="353.4" cy="777.9" r="2.5"/><circle cx="331.5" cy="766.4" r="2.5"/><circle cx="342.5" cy="731.7" r="2.5"/><circle cx="358.1" cy="775.2" r="2.5"/><circle cx="338.6" cy="736" r="2.5"/><circle cx="332.2" cy="747.3" r="2.5"/><circle cx="332.5" cy="724.9" r="2.5"/><circle cx="355.8" cy="759.3" r="2.5"/><circle cx="328.7" cy="757.4" r="2.5"/><circle cx="340.8" cy="762.3" r="2.5"/><circle cx="340.4" cy="749.3" r="2.5"/><circle cx="344.5" cy="783.2" r="2.5"/><circle cx="362.7" cy="766.3" r="2.5"/><circle cx="358.9" cy="748.8" r="2.5"/><circle cx="346.6" cy="769.4" r="2.5"/><circle cx="352.6" cy="741.7" r="2.5"/><circle cx="348.6" cy="738.2" r="2.5"/><circle cx="356.5" cy="732.6" r="2.5"/><circle cx="351.2" cy="781.5" r="2.5"/><circle cx="351.3" cy="755.2" r="2.5"/><circle cx="340" cy="743.6" r="2.5"/><circle cx="337.3" cy="777.4" r="2.5"/><circle cx="336.5" cy="766.1" r="2.5"/><circle cx="356.5" cy="754.2" r="2.5"/><circle cx="341.5" cy="748.8" r="2.5"/><circle cx="336.2" cy="732.9" r="2.5"/><circle cx="343.6" cy="745.3" r="2.5"/><circle cx="349.6" cy="780.6" r="2.5"/><circle cx="336.3" cy="740.3" r="2.5"/><circle cx="348.2" cy="761" r="2.5"/><circle cx="360.7" cy="738" r="2.5"/><circle cx="339.6" cy="749.9" r="2.5"/><circle cx="341.6" cy="757.9" r="2.5"/><circle cx="331.3" cy="749" r="2.5"/><circle cx="357.8" cy="756.1" r="2.5"/><circle cx="341" cy="770.9" r="2.5"/><circle cx="339.7" cy="756.2" r="2.5"/><circle cx="336.3" cy="747.2" r="2.5"/><circle cx="344.9" cy="766.2" r="2.5"/><circle cx="335.6" cy="771.5" r="2.5"/><circle cx="345.5" cy="778.2" r="2.5"/><circle cx="340.8" cy="732.8" r="2.5"/><circle cx="333.4" cy="774.4" r="2.5"/><circle cx="347.4" cy="766.7" r="2.5"/><circle cx="336.7" cy="764.7" r="2.5"/><circle cx="336.6" cy="735.7" r="2.5"/><circle cx="355.6" cy="718.5" r="2.5"/><circle cx="342.9" cy="784.3" r="2.5"/><circle cx="332.4" cy="760.5" r="2.5"/><circle cx="354.1" cy="770.4" r="2.5"/><circle cx="333" cy="758.9" r="2.5"/><circle cx="352.6" cy="765.4" r="2.5"/><circle cx="329.5" cy="731.5" r="2.5"/><circle cx="344.9" cy="725" r="2.5"/><circle cx="356.4" cy="777.7" r="2.5"/><circle cx="336.3" cy="761.3" r="2.5"/><circle cx="339.1" cy="740.2" r="2.5"/><circle cx="336" cy="751.5" r="2.5"/><circle cx="348.9" cy="785.1" r="2.5"/><circle cx="349.2" cy="745.9" r="2.5"/><circle cx="337.5" cy="751.5" r="2.5"/><circle cx="348.4" cy="757.6" r="2.5"/><circle cx="352.1" cy="744.4" r="2.5"/><circle cx="341.7" cy="745.2" r="2.5"/><circle cx="336" cy="722.7" r="2.5"/><circle cx="359" cy="772.1" r="2.5"/><circle cx="343.3" cy="754.2" r="2.5"/><circle cx="349.8" cy="767.9" r="2.5"/><circle cx="347.5" cy="742.5" r="2.5"/><circle cx="349.4" cy="747.6" r="2.5"/><circle cx="357" cy="753.6" r="2.5"/><circle cx="332.8" cy="735.4" r="2.5"/><circle cx="342.5" cy="772.3" r="2.5"/><circle cx="360.7" cy="775.5" r="2.5"/><circle cx="331.9" cy="738" r="2.5"/><circle cx="338" cy="741.6" r="2.5"/></g>
<path d="M347 716 L347.2 716.6 L347.4 717.4 L347.6 718.4 L347.9 719.4 L348.2 720.4 L348.6 721.4 L349.1 722.3 L349.7 723.2 L350.4 724.1 L351.1 725.1 L351.8 726 L352.4 726.9 L353.1 727.8 L353.8 728.7 L354.5 729.7 L355.3 730.6 L356 731.5 L356.8 732.4 L357.7 733.3 L358.6 734.2 L359.5 735.1 L360.4 736 L361.4 736.9 L362.3 737.8 L363.3 738.7 L364.3 739.6 L365.3 740.5 L366.4 741.5 L367.4 742.4 L368.3 743.3 L369.3 744.2 L370.3 745.2 L371.3 746.1 L372.3 747 L373.1 747.9 L373.8 748.8 L374.5 749.6 L375 750.3 L375.4 750.9 L375.8 751.6 L375.9 752.4 L375.9 753.2 L375.7 754.2 L375.3 755.2 L374.8 756.4 L374.1 757.5 L373.4 758.7 L372.7 759.7 L372 760.7 L371.2 761.6 L370.3 762.5 L369.5 763.4 L368.6 764.3 L367.8 765.2 L367.1 766.1 L366.5 767 L365.8 768 L365.2 768.9 L364.6 769.8 L363.9 770.7 L363.3 771.6 L362.7 772.5 L362.1 773.5 L361.5 774.4 L360.9 775.3 L360.1 776.2 L359.4 777.1 L358.6 778 L357.7 778.9 L356.9 779.8 L356 780.7 L355.1 781.6 L354.3 782.5 L353.4 783.4 L352.6 784.3 L351.8 785.3 L351 786.2 L350.2 787.1 L349.6 788.1 L348.9 789.1 L348.3 790.2 L347.8 791.2 L347.4 792 L347 792.6 L344 792.6 L343.7 792 L343.3 791.2 L342.8 790.2 L342.2 789.1 L341.5 788.1 L340.8 787.1 L340.1 786.2 L339.3 785.3 L338.5 784.3 L337.7 783.4 L336.8 782.5 L335.9 781.6 L335.1 780.7 L334.2 779.8 L333.4 778.9 L332.5 778 L331.7 777.1 L330.9 776.2 L330.2 775.3 L329.6 774.4 L329 773.5 L328.4 772.5 L327.8 771.6 L327.1 770.7 L326.5 769.8 L325.9 768.9 L325.3 768 L324.6 767 L324 766.1 L323.2 765.2 L322.5 764.3 L321.6 763.4 L320.8 762.5 L319.9 761.6 L319.1 760.7 L318.3 759.7 L317.7 758.7 L317 757.5 L316.3 756.4 L315.8 755.2 L315.4 754.2 L315.1 753.2 L315.2 752.4 L315.3 751.6 L315.7 750.9 L316.1 750.3 L316.6 749.6 L317.2 748.8 L318 747.9 L318.8 747 L319.8 746.1 L320.8 745.2 L321.8 744.2 L322.7 743.3 L323.7 742.4 L324.7 741.5 L325.7 740.5 L326.8 739.6 L327.8 738.7 L328.7 737.8 L329.7 736.9 L330.7 736 L331.6 735.1 L332.5 734.2 L333.4 733.3 L334.2 732.4 L335.1 731.5 L335.8 730.6 L336.6 729.7 L337.3 728.7 L338 727.8 L338.6 726.9 L339.3 726 L340 725.1 L340.7 724.1 L341.4 723.2 L342 722.3 L342.4 721.4 L342.9 720.4 L343.2 719.4 L343.5 718.4 L343.7 717.4 L343.9 716.6 L344 716Z" fill="none" stroke="#17B8CB" stroke-width="1.05" stroke-linejoin="round"/>
<line x1="345.5" y1="716" x2="345.5" y2="745.5" stroke="#17B8CB" stroke-width="2.2"/>
<line x1="345.5" y1="767.6" x2="345.5" y2="792.6" stroke="#17B8CB" stroke-width="2.2"/>
<rect x="337.4" y="746.7" width="16.3" height="19.7" fill="none" stroke="#17B8CB" stroke-width="2.4"/>
<line x1="337.4" y1="754.3" x2="353.7" y2="754.3" stroke="#17B8CB" stroke-width="4.6"/>
<text x="102.7" y="726.8" font-size="13">ULoQ</text>
<text x="102.7" y="821.4" font-size="13">LoD</text>
<rect x="102.1" y="653.8" width="283.6" height="227.8" fill="none" stroke="#333333" stroke-width="1.75"/>
<rect x="391.0" y="653.8" width="283.2" height="227.8" fill="#fff"/>
<line x1="391.0" y1="722.9" x2="674.2" y2="722.9" stroke="#C4C4C4" stroke-width="1.05" stroke-dasharray="3.5 3.3"/>
<line x1="391.0" y1="817.1" x2="674.2" y2="817.1" stroke="#C4C4C4" stroke-width="1.05" stroke-dasharray="3.5 3.3"/>
<g fill="#CC0000" fill-opacity="0.2"><circle cx="442.7" cy="737" r="2.5"/><circle cx="447.7" cy="748.1" r="2.5"/><circle cx="424.7" cy="740.3" r="2.5"/><circle cx="435.2" cy="736.4" r="2.5"/><circle cx="433.2" cy="723" r="2.5"/><circle cx="447.6" cy="759.4" r="2.5"/><circle cx="422.6" cy="753.9" r="2.5"/><circle cx="428.1" cy="734.7" r="2.5"/><circle cx="444.2" cy="746.4" r="2.5"/><circle cx="434.4" cy="718.2" r="2.5"/><circle cx="447.4" cy="753.1" r="2.5"/><circle cx="445.4" cy="726.4" r="2.5"/><circle cx="432.8" cy="711.8" r="2.5"/><circle cx="423.8" cy="760.5" r="2.5"/><circle cx="431.7" cy="737.1" r="2.5"/><circle cx="432.5" cy="735.7" r="2.5"/><circle cx="417.9" cy="706.4" r="2.5"/><circle cx="446.9" cy="729.6" r="2.5"/><circle cx="447.9" cy="753" r="2.5"/><circle cx="443.3" cy="721.3" r="2.5"/><circle cx="422.2" cy="760" r="2.5"/><circle cx="419.7" cy="712.9" r="2.5"/><circle cx="434.2" cy="734.5" r="2.5"/><circle cx="421.6" cy="724.2" r="2.5"/><circle cx="419.9" cy="761.8" r="2.5"/><circle cx="414.2" cy="740.3" r="2.5"/><circle cx="430.1" cy="757.3" r="2.5"/><circle cx="439" cy="740.9" r="2.5"/><circle cx="425.5" cy="740.2" r="2.5"/><circle cx="419.8" cy="732.8" r="2.5"/><circle cx="436.9" cy="739.2" r="2.5"/><circle cx="425" cy="755.1" r="2.5"/><circle cx="431" cy="732.2" r="2.5"/><circle cx="443.1" cy="719.2" r="2.5"/><circle cx="447.7" cy="739.1" r="2.5"/><circle cx="426.9" cy="737.2" r="2.5"/><circle cx="418.5" cy="741.4" r="2.5"/><circle cx="414.5" cy="734.3" r="2.5"/><circle cx="418.9" cy="745.5" r="2.5"/><circle cx="441.6" cy="755.4" r="2.5"/><circle cx="430.2" cy="717.4" r="2.5"/><circle cx="441.4" cy="731.2" r="2.5"/><circle cx="439.3" cy="752.2" r="2.5"/><circle cx="445.1" cy="751.6" r="2.5"/><circle cx="437.5" cy="734.8" r="2.5"/><circle cx="422.8" cy="722.2" r="2.5"/><circle cx="433.6" cy="720.5" r="2.5"/><circle cx="430.8" cy="756.5" r="2.5"/><circle cx="431.4" cy="721.4" r="2.5"/><circle cx="442.4" cy="725.3" r="2.5"/><circle cx="446.6" cy="751.1" r="2.5"/><circle cx="437.4" cy="735.8" r="2.5"/><circle cx="441.9" cy="711.7" r="2.5"/><circle cx="442.4" cy="744.5" r="2.5"/><circle cx="438.3" cy="736.9" r="2.5"/><circle cx="446.6" cy="722.5" r="2.5"/><circle cx="425.3" cy="726.2" r="2.5"/><circle cx="435" cy="727.5" r="2.5"/><circle cx="446.5" cy="751.8" r="2.5"/><circle cx="446.8" cy="742.5" r="2.5"/><circle cx="438.9" cy="719.9" r="2.5"/><circle cx="425.4" cy="752.5" r="2.5"/><circle cx="426.5" cy="738.9" r="2.5"/><circle cx="426.8" cy="728.1" r="2.5"/><circle cx="427.8" cy="736.9" r="2.5"/><circle cx="426.2" cy="736.2" r="2.5"/><circle cx="431" cy="719.1" r="2.5"/><circle cx="440.4" cy="738.3" r="2.5"/><circle cx="447.2" cy="729" r="2.5"/><circle cx="443.3" cy="711.3" r="2.5"/><circle cx="431.8" cy="741.9" r="2.5"/><circle cx="418.6" cy="739.2" r="2.5"/><circle cx="437.1" cy="741" r="2.5"/><circle cx="433.2" cy="734.2" r="2.5"/><circle cx="421.1" cy="709.4" r="2.5"/><circle cx="447.3" cy="714.9" r="2.5"/><circle cx="431.2" cy="764.7" r="2.5"/><circle cx="443.1" cy="720.6" r="2.5"/><circle cx="442.4" cy="746.9" r="2.5"/><circle cx="435.1" cy="711" r="2.5"/><circle cx="443.1" cy="714.8" r="2.5"/><circle cx="417.9" cy="714.8" r="2.5"/><circle cx="418.8" cy="741.5" r="2.5"/><circle cx="426.6" cy="744.1" r="2.5"/><circle cx="436" cy="725.8" r="2.5"/><circle cx="431.4" cy="712" r="2.5"/><circle cx="440.6" cy="743.1" r="2.5"/><circle cx="446.5" cy="745" r="2.5"/><circle cx="420.2" cy="732.7" r="2.5"/><circle cx="448" cy="715.2" r="2.5"/><circle cx="414.6" cy="729.9" r="2.5"/><circle cx="435.6" cy="764.7" r="2.5"/><circle cx="436.1" cy="737.7" r="2.5"/><circle cx="445.4" cy="732.2" r="2.5"/><circle cx="438.8" cy="718.5" r="2.5"/><circle cx="442.9" cy="722.2" r="2.5"/><circle cx="416.2" cy="721" r="2.5"/><circle cx="439.1" cy="771.6" r="2.5"/><circle cx="421.1" cy="754.9" r="2.5"/><circle cx="433.5" cy="750.9" r="2.5"/><circle cx="428.2" cy="741.1" r="2.5"/><circle cx="429.4" cy="758.2" r="2.5"/><circle cx="423.3" cy="734.2" r="2.5"/><circle cx="427.2" cy="732.3" r="2.5"/><circle cx="421" cy="752.2" r="2.5"/><circle cx="414.1" cy="752.4" r="2.5"/><circle cx="443.9" cy="762.8" r="2.5"/><circle cx="431.2" cy="723.4" r="2.5"/><circle cx="429.7" cy="721.9" r="2.5"/><circle cx="420.3" cy="752.7" r="2.5"/><circle cx="420.7" cy="728.3" r="2.5"/><circle cx="430.9" cy="735.6" r="2.5"/><circle cx="441" cy="759" r="2.5"/><circle cx="447.6" cy="715.6" r="2.5"/><circle cx="434.7" cy="734.2" r="2.5"/><circle cx="416.5" cy="731.3" r="2.5"/><circle cx="426.7" cy="711.8" r="2.5"/><circle cx="419.6" cy="738.7" r="2.5"/><circle cx="433.1" cy="754.4" r="2.5"/><circle cx="436.5" cy="705.5" r="2.5"/><circle cx="433.5" cy="759.1" r="2.5"/><circle cx="437.3" cy="721.4" r="2.5"/><circle cx="429.9" cy="749.5" r="2.5"/><circle cx="447.9" cy="712.2" r="2.5"/><circle cx="445.5" cy="726" r="2.5"/><circle cx="446.4" cy="736.3" r="2.5"/><circle cx="417.2" cy="740.4" r="2.5"/><circle cx="436.4" cy="722.5" r="2.5"/><circle cx="444.7" cy="738.5" r="2.5"/><circle cx="421.9" cy="735.8" r="2.5"/><circle cx="433.8" cy="749.7" r="2.5"/><circle cx="417.2" cy="737.4" r="2.5"/><circle cx="444.9" cy="739.2" r="2.5"/><circle cx="435.5" cy="720.9" r="2.5"/><circle cx="444.5" cy="734.5" r="2.5"/><circle cx="441.9" cy="705.8" r="2.5"/><circle cx="417.2" cy="717.5" r="2.5"/><circle cx="448.1" cy="727.7" r="2.5"/><circle cx="448.2" cy="732.2" r="2.5"/><circle cx="433.6" cy="733.4" r="2.5"/><circle cx="429.4" cy="733.6" r="2.5"/><circle cx="447.4" cy="732.6" r="2.5"/><circle cx="440.9" cy="709.7" r="2.5"/><circle cx="431.4" cy="730.4" r="2.5"/><circle cx="434.6" cy="726.6" r="2.5"/><circle cx="415.2" cy="724.7" r="2.5"/><circle cx="421" cy="735.2" r="2.5"/><circle cx="435.5" cy="728" r="2.5"/><circle cx="448" cy="755.9" r="2.5"/><circle cx="415.9" cy="742" r="2.5"/><circle cx="433.8" cy="731.7" r="2.5"/><circle cx="448.7" cy="753.2" r="2.5"/><circle cx="418.3" cy="749.2" r="2.5"/><circle cx="444.8" cy="703.4" r="2.5"/><circle cx="444.5" cy="715.6" r="2.5"/><circle cx="434.9" cy="708.2" r="2.5"/><circle cx="431.5" cy="734.4" r="2.5"/><circle cx="438.8" cy="733.6" r="2.5"/><circle cx="437.9" cy="747.2" r="2.5"/><circle cx="426.9" cy="730.2" r="2.5"/><circle cx="447" cy="759.9" r="2.5"/><circle cx="433.6" cy="738.1" r="2.5"/><circle cx="414.9" cy="770.6" r="2.5"/><circle cx="433.6" cy="779.3" r="2.5"/><circle cx="417.5" cy="730.2" r="2.5"/><circle cx="413.8" cy="721.1" r="2.5"/><circle cx="414.4" cy="722.5" r="2.5"/><circle cx="437" cy="745.5" r="2.5"/><circle cx="447.1" cy="698" r="2.5"/><circle cx="414.2" cy="738.9" r="2.5"/><circle cx="420.7" cy="733.3" r="2.5"/><circle cx="429.2" cy="706.3" r="2.5"/><circle cx="422.1" cy="733.5" r="2.5"/><circle cx="434.2" cy="739.5" r="2.5"/><circle cx="446.6" cy="732.5" r="2.5"/><circle cx="443.8" cy="737.3" r="2.5"/><circle cx="436.7" cy="731.8" r="2.5"/><circle cx="414.2" cy="713.6" r="2.5"/><circle cx="425.4" cy="706" r="2.5"/><circle cx="435.1" cy="711.5" r="2.5"/><circle cx="447.1" cy="729.8" r="2.5"/><circle cx="426.4" cy="716" r="2.5"/><circle cx="445" cy="741.5" r="2.5"/><circle cx="426.3" cy="748" r="2.5"/><circle cx="429.4" cy="757.6" r="2.5"/><circle cx="420.3" cy="744.6" r="2.5"/><circle cx="418" cy="729.1" r="2.5"/><circle cx="435.3" cy="724" r="2.5"/><circle cx="426.6" cy="739.4" r="2.5"/><circle cx="429.4" cy="726.9" r="2.5"/><circle cx="429.1" cy="722.1" r="2.5"/><circle cx="435.8" cy="732.3" r="2.5"/><circle cx="413.8" cy="738" r="2.5"/><circle cx="448.6" cy="724.2" r="2.5"/><circle cx="429" cy="754.1" r="2.5"/><circle cx="433.7" cy="749.7" r="2.5"/><circle cx="434" cy="749.7" r="2.5"/><circle cx="446.5" cy="729.7" r="2.5"/><circle cx="447.8" cy="747.8" r="2.5"/><circle cx="438.6" cy="733.3" r="2.5"/><circle cx="435.8" cy="744.3" r="2.5"/><circle cx="431.3" cy="712.6" r="2.5"/><circle cx="420.5" cy="724.4" r="2.5"/><circle cx="445.8" cy="754" r="2.5"/><circle cx="445.3" cy="753.8" r="2.5"/><circle cx="441" cy="754.3" r="2.5"/><circle cx="426.1" cy="724.4" r="2.5"/><circle cx="414.6" cy="753.9" r="2.5"/><circle cx="444.8" cy="723.7" r="2.5"/><circle cx="423.7" cy="718.7" r="2.5"/><circle cx="439.6" cy="731" r="2.5"/><circle cx="424.7" cy="738.6" r="2.5"/><circle cx="425.3" cy="748.5" r="2.5"/><circle cx="438.3" cy="731.3" r="2.5"/><circle cx="426.9" cy="717.6" r="2.5"/><circle cx="429" cy="724" r="2.5"/><circle cx="441.3" cy="744.5" r="2.5"/><circle cx="421.7" cy="755.5" r="2.5"/><circle cx="433" cy="735.4" r="2.5"/><circle cx="433.1" cy="781.1" r="2.5"/><circle cx="420.6" cy="722.3" r="2.5"/><circle cx="418.6" cy="734.5" r="2.5"/><circle cx="444.4" cy="728.9" r="2.5"/><circle cx="441.8" cy="764.7" r="2.5"/><circle cx="413.9" cy="740.2" r="2.5"/><circle cx="435.8" cy="760.1" r="2.5"/><circle cx="429.9" cy="734.7" r="2.5"/><circle cx="438.8" cy="737.3" r="2.5"/><circle cx="415" cy="746.8" r="2.5"/><circle cx="442.4" cy="748.8" r="2.5"/><circle cx="416.1" cy="746" r="2.5"/><circle cx="448.7" cy="743.5" r="2.5"/><circle cx="429" cy="718.4" r="2.5"/><circle cx="428.6" cy="730.9" r="2.5"/><circle cx="419.4" cy="705.6" r="2.5"/><circle cx="414.9" cy="738.7" r="2.5"/><circle cx="447.3" cy="723.6" r="2.5"/><circle cx="435.7" cy="739.7" r="2.5"/><circle cx="437.1" cy="739.3" r="2.5"/><circle cx="437.6" cy="718" r="2.5"/><circle cx="448.7" cy="734.2" r="2.5"/><circle cx="437.2" cy="742.6" r="2.5"/><circle cx="430.4" cy="741.2" r="2.5"/><circle cx="420.8" cy="741.5" r="2.5"/><circle cx="433.9" cy="729.8" r="2.5"/><circle cx="448.7" cy="745.7" r="2.5"/><circle cx="442" cy="750.2" r="2.5"/><circle cx="427.5" cy="703.7" r="2.5"/><circle cx="444.1" cy="727.4" r="2.5"/><circle cx="419.4" cy="752.1" r="2.5"/><circle cx="428.1" cy="742.3" r="2.5"/><circle cx="435.3" cy="714.9" r="2.5"/><circle cx="435.5" cy="768.3" r="2.5"/><circle cx="429.6" cy="732.5" r="2.5"/><circle cx="414.5" cy="725.1" r="2.5"/><circle cx="415.8" cy="734.7" r="2.5"/><circle cx="440.7" cy="738.5" r="2.5"/><circle cx="423.9" cy="732.1" r="2.5"/><circle cx="430.6" cy="745" r="2.5"/><circle cx="429" cy="740.4" r="2.5"/><circle cx="414.9" cy="761.9" r="2.5"/><circle cx="415.7" cy="748.7" r="2.5"/><circle cx="421.3" cy="736.2" r="2.5"/><circle cx="418" cy="704.3" r="2.5"/><circle cx="420.1" cy="757.4" r="2.5"/><circle cx="438.3" cy="747.9" r="2.5"/><circle cx="422.7" cy="721.3" r="2.5"/><circle cx="420.3" cy="751.6" r="2.5"/><circle cx="431.8" cy="768.4" r="2.5"/><circle cx="426.9" cy="731.5" r="2.5"/><circle cx="442.2" cy="714.3" r="2.5"/><circle cx="414" cy="720.3" r="2.5"/><circle cx="422.3" cy="734.7" r="2.5"/><circle cx="437.5" cy="746.9" r="2.5"/><circle cx="435.9" cy="744.2" r="2.5"/><circle cx="439" cy="724.9" r="2.5"/><circle cx="420.4" cy="754.9" r="2.5"/><circle cx="418.6" cy="735.8" r="2.5"/><circle cx="437.1" cy="721" r="2.5"/><circle cx="424.8" cy="735.8" r="2.5"/><circle cx="443.3" cy="749.3" r="2.5"/><circle cx="446.2" cy="714.8" r="2.5"/><circle cx="429.2" cy="749.9" r="2.5"/><circle cx="419" cy="716" r="2.5"/><circle cx="416.7" cy="727.8" r="2.5"/><circle cx="417.8" cy="703.4" r="2.5"/><circle cx="415.4" cy="728.4" r="2.5"/><circle cx="439.3" cy="764.8" r="2.5"/><circle cx="426" cy="746.6" r="2.5"/><circle cx="431" cy="724.9" r="2.5"/><circle cx="442" cy="741.7" r="2.5"/><circle cx="447.3" cy="716.9" r="2.5"/><circle cx="415.2" cy="759.9" r="2.5"/><circle cx="417.8" cy="715.9" r="2.5"/><circle cx="422.2" cy="720.1" r="2.5"/><circle cx="416.1" cy="729.7" r="2.5"/><circle cx="423.4" cy="738" r="2.5"/><circle cx="446.2" cy="721.7" r="2.5"/><circle cx="438.7" cy="778.7" r="2.5"/><circle cx="444.8" cy="754.4" r="2.5"/><circle cx="421.4" cy="738.7" r="2.5"/><circle cx="429.9" cy="759.7" r="2.5"/><circle cx="416.2" cy="728" r="2.5"/><circle cx="444.1" cy="721.2" r="2.5"/><circle cx="436.4" cy="764.3" r="2.5"/><circle cx="430.7" cy="737" r="2.5"/><circle cx="417.7" cy="738" r="2.5"/><circle cx="429.5" cy="715.6" r="2.5"/><circle cx="424.4" cy="735.5" r="2.5"/><circle cx="427" cy="728.1" r="2.5"/><circle cx="445.4" cy="703.4" r="2.5"/><circle cx="447.7" cy="772.5" r="2.5"/><circle cx="434.4" cy="735.8" r="2.5"/><circle cx="444.3" cy="730.3" r="2.5"/><circle cx="414.8" cy="732.7" r="2.5"/><circle cx="425.6" cy="730.5" r="2.5"/><circle cx="446.8" cy="778.3" r="2.5"/><circle cx="431.4" cy="734.6" r="2.5"/><circle cx="448.7" cy="748.7" r="2.5"/><circle cx="426.4" cy="735.8" r="2.5"/><circle cx="441.6" cy="744.7" r="2.5"/><circle cx="430.6" cy="726.7" r="2.5"/><circle cx="437.3" cy="745" r="2.5"/><circle cx="437" cy="724.4" r="2.5"/><circle cx="430.3" cy="716.1" r="2.5"/><circle cx="442.1" cy="738.9" r="2.5"/><circle cx="430.2" cy="770.5" r="2.5"/><circle cx="420.2" cy="762.4" r="2.5"/><circle cx="420.9" cy="737.9" r="2.5"/><circle cx="434.8" cy="730.2" r="2.5"/><circle cx="438.6" cy="741.6" r="2.5"/><circle cx="415.4" cy="747.5" r="2.5"/><circle cx="414.4" cy="742.6" r="2.5"/><circle cx="435.5" cy="718.5" r="2.5"/><circle cx="419.1" cy="754.5" r="2.5"/><circle cx="447.9" cy="742.2" r="2.5"/><circle cx="429.7" cy="728.9" r="2.5"/><circle cx="442.5" cy="738.6" r="2.5"/><circle cx="447.6" cy="742.7" r="2.5"/><circle cx="417.1" cy="756.7" r="2.5"/><circle cx="433.7" cy="714.8" r="2.5"/><circle cx="416.5" cy="729.1" r="2.5"/><circle cx="432.8" cy="711.8" r="2.5"/><circle cx="413.9" cy="734.5" r="2.5"/><circle cx="424.3" cy="712" r="2.5"/></g>
<path d="M432.8 696.7 L432.9 697.3 L432.9 698 L432.9 699 L433.1 700 L433.3 701 L433.7 702 L434.3 703 L435 703.9 L435.8 705 L436.7 706 L437.6 707 L438.5 708 L439.4 709 L440.4 710 L441.3 711 L442.3 712 L443.4 713 L444.5 714 L445.7 715 L446.9 715.9 L448.3 716.9 L449.6 717.8 L450.8 718.8 L452 719.9 L453.1 721.1 L454.2 722.3 L455.2 723.6 L456.1 725 L457.1 726.2 L457.9 727.4 L458.7 728.5 L459.5 729.5 L460.3 730.5 L461 731.5 L461.4 732.4 L461.7 733.4 L461.7 734.4 L461.5 735.3 L461.2 736.3 L460.7 737.3 L460.1 738.3 L459.4 739.4 L458.5 740.6 L457.5 741.8 L456.4 743.1 L455.2 744.3 L453.9 745.6 L452.7 746.9 L451.5 748.1 L450.2 749.4 L448.9 750.6 L447.6 751.9 L446.4 753.1 L445.2 754.4 L444.1 755.7 L443 756.9 L442 758.2 L441.1 759.4 L440.1 760.7 L439.2 761.9 L438.3 763.2 L437.4 764.5 L436.5 765.8 L435.7 767.1 L434.9 768.2 L434.3 769.3 L433.8 770.2 L433.4 771 L433.1 771.6 L432.9 772.3 L432.7 773 L432.5 773.8 L432.4 774.6 L432.3 775.4 L432.3 776.1 L432.2 777.1 L432.2 778.3 L432.2 779.8 L432.1 781.8 L432.1 784.1 L432 786.7 L432 789.5 L431.9 792.2 L431.9 794.8 L431.9 797.3 L431.9 799.9 L431.9 802.5 L431.9 805 L431.9 807.5 L431.9 809.8 L431.9 812 L432 814.2 L432.1 816.4 L432.1 818.3 L432.2 820.1 L432.3 821.7 L432.4 823 L432.5 824.2 L432.6 825.1 L432.7 825.9 L432.7 826.5 L432.8 827 L429.8 827 L429.9 826.5 L429.9 825.9 L430 825.1 L430.1 824.2 L430.2 823 L430.3 821.7 L430.4 820.1 L430.5 818.3 L430.5 816.4 L430.6 814.2 L430.7 812 L430.7 809.8 L430.7 807.5 L430.7 805 L430.7 802.5 L430.7 799.9 L430.7 797.3 L430.7 794.8 L430.7 792.2 L430.6 789.5 L430.6 786.7 L430.5 784.1 L430.5 781.8 L430.4 779.8 L430.4 778.3 L430.4 777.1 L430.3 776.1 L430.3 775.4 L430.2 774.6 L430.1 773.8 L429.9 773 L429.7 772.3 L429.5 771.6 L429.2 771 L428.8 770.2 L428.3 769.3 L427.7 768.2 L426.9 767.1 L426.1 765.8 L425.2 764.5 L424.3 763.2 L423.4 761.9 L422.5 760.7 L421.5 759.4 L420.6 758.2 L419.6 756.9 L418.5 755.7 L417.4 754.4 L416.2 753.1 L415 751.9 L413.7 750.6 L412.4 749.4 L411.1 748.1 L409.9 746.9 L408.7 745.6 L407.4 744.3 L406.2 743.1 L405.1 741.8 L404.1 740.6 L403.2 739.4 L402.5 738.3 L401.9 737.3 L401.4 736.3 L401.1 735.3 L400.9 734.4 L400.9 733.4 L401.2 732.4 L401.6 731.5 L402.3 730.5 L403.1 729.5 L403.9 728.5 L404.7 727.4 L405.5 726.2 L406.5 725 L407.4 723.6 L408.4 722.3 L409.5 721.1 L410.6 719.9 L411.8 718.8 L413 717.8 L414.3 716.9 L415.7 715.9 L416.9 715 L418.1 714 L419.2 713 L420.3 712 L421.3 711 L422.2 710 L423.2 709 L424.1 708 L425 707 L425.9 706 L426.8 705 L427.6 703.9 L428.3 703 L428.9 702 L429.3 701 L429.5 700 L429.6 699 L429.7 698 L429.7 697.3 L429.8 696.7Z" fill="none" stroke="#CC0000" stroke-width="1.05" stroke-linejoin="round"/>
<g fill="none" stroke="#444" stroke-opacity="0.3" stroke-width="0.85"><path d="M416 824.6L418.7 829.4L413.3 829.4Z"/><path d="M422.7 824.6L425.4 829.4L420 829.4Z"/></g>
<line x1="431.3" y1="696.7" x2="431.3" y2="725.9" stroke="#CC0000" stroke-width="2.2"/>
<line x1="431.3" y1="747.6" x2="431.3" y2="772.3" stroke="#CC0000" stroke-width="2.2"/>
<rect x="423.6" y="727.1" width="15.4" height="19.3" fill="none" stroke="#CC0000" stroke-width="2.4"/>
<line x1="423.6" y1="734.9" x2="439" y2="734.9" stroke="#CC0000" stroke-width="4.6"/>
<g fill="#17B8CB" fill-opacity="0.2"><circle cx="482.3" cy="731.4" r="2.5"/><circle cx="493.8" cy="720.4" r="2.5"/><circle cx="493.8" cy="736.3" r="2.5"/><circle cx="490.5" cy="742.3" r="2.5"/><circle cx="484.4" cy="748.1" r="2.5"/><circle cx="484.4" cy="754.3" r="2.5"/><circle cx="511.8" cy="740.7" r="2.5"/><circle cx="512.4" cy="746.7" r="2.5"/><circle cx="513.5" cy="757.1" r="2.5"/><circle cx="508" cy="762.6" r="2.5"/><circle cx="481.7" cy="762.6" r="2.5"/><circle cx="493.8" cy="766.9" r="2.5"/><circle cx="497.6" cy="769.1" r="2.5"/><circle cx="504.2" cy="759.3" r="2.5"/></g>
<path d="M502.1 720.6 L502 720.8 L501.8 721.1 L501.6 721.5 L501.4 722 L501.3 722.5 L501.3 723.1 L501.4 723.8 L501.6 724.7 L501.9 725.7 L502.3 726.7 L502.6 727.6 L503 728.6 L503.4 729.5 L503.8 730.4 L504.2 731.4 L504.7 732.3 L505.2 733.2 L505.7 734.1 L506.2 735 L506.6 736 L507.1 736.9 L507.6 737.9 L508.3 738.8 L509 739.6 L509.9 740.4 L510.9 741.1 L512 741.8 L513.1 742.5 L514.3 743.2 L515.6 743.9 L517 744.6 L518.5 745.3 L520.1 746.1 L521.6 746.8 L523 747.5 L524.3 748.3 L525.5 749.1 L526.6 749.9 L527.7 750.7 L528.5 751.5 L529.1 752.4 L529.3 753.2 L529.1 754 L528.6 754.9 L527.8 755.7 L526.8 756.6 L525.6 757.4 L524.3 758.2 L522.8 759 L520.9 759.7 L518.9 760.4 L516.9 761.1 L515 761.8 L513.4 762.6 L512.1 763.5 L511 764.5 L510 765.6 L509.1 766.6 L508.4 767.4 L507.9 768 L489.3 768 L488.8 767.4 L488.1 766.6 L487.2 765.6 L486.2 764.5 L485.1 763.5 L483.8 762.6 L482.2 761.8 L480.3 761.1 L478.3 760.4 L476.3 759.7 L474.4 759 L472.9 758.2 L471.6 757.4 L470.4 756.6 L469.4 755.7 L468.6 754.9 L468.1 754 L467.9 753.2 L468.1 752.4 L468.7 751.5 L469.5 750.7 L470.6 749.9 L471.7 749.1 L472.9 748.3 L474.2 747.5 L475.6 746.8 L477.2 746.1 L478.7 745.3 L480.2 744.6 L481.6 743.9 L482.9 743.2 L484.1 742.5 L485.2 741.8 L486.3 741.1 L487.3 740.4 L488.2 739.6 L488.9 738.8 L489.6 737.9 L490.1 736.9 L490.6 736 L491 735 L491.5 734.1 L492 733.2 L492.5 732.3 L493 731.4 L493.4 730.4 L493.8 729.5 L494.2 728.6 L494.6 727.6 L494.9 726.7 L495.3 725.7 L495.6 724.7 L495.8 723.8 L495.9 723.1 L495.9 722.5 L495.8 722 L495.6 721.5 L495.4 721.1 L495.2 720.8 L495.1 720.6Z" fill="none" stroke="#17B8CB" stroke-width="1.05" stroke-linejoin="round"/>
<line x1="498.6" y1="736.3" x2="498.6" y2="746.1" stroke="#17B8CB" stroke-width="2.2"/>
<line x1="498.6" y1="758" x2="498.6" y2="768" stroke="#17B8CB" stroke-width="2.2"/>
<rect x="490.4" y="747.3" width="16.4" height="9.5" fill="none" stroke="#17B8CB" stroke-width="2.4"/>
<line x1="490.4" y1="752.9" x2="506.8" y2="752.9" stroke="#17B8CB" stroke-width="4.6"/>
<g fill="#17B8CB" fill-opacity="0.2"><circle cx="556.8" cy="706.6" r="2.5"/><circle cx="577.1" cy="715.9" r="2.5"/><circle cx="561.8" cy="720.8" r="2.5"/><circle cx="564.5" cy="728.7" r="2.5"/><circle cx="573.2" cy="730.7" r="2.5"/><circle cx="567.8" cy="744.9" r="2.5"/><circle cx="560.7" cy="752" r="2.5"/><circle cx="572.7" cy="759.7" r="2.5"/></g>
<path d="M580.1 706.6 L580.6 707.1 L581.2 707.7 L582 708.5 L582.8 709.3 L583.5 710.2 L584.2 711 L584.9 711.8 L585.6 712.7 L586.3 713.6 L586.9 714.6 L587.5 715.5 L588 716.4 L588.5 717.3 L589 718.2 L589.4 719.1 L589.7 720.1 L590 721 L590.2 721.9 L590.4 722.8 L590.5 723.7 L590.6 724.7 L590.6 725.6 L590.7 726.5 L590.8 727.4 L590.9 728.3 L591 729.2 L591.2 730.1 L591.4 731 L591.6 731.9 L591.9 732.8 L592.2 733.7 L592.5 734.6 L592.9 735.5 L593.3 736.5 L593.7 737.4 L594 738.3 L594.4 739.2 L594.9 740.2 L595.3 741.1 L595.7 742 L596 742.9 L596.2 743.8 L596.4 744.6 L596.6 745.3 L596.7 746.1 L596.8 746.8 L596.7 747.5 L596.5 748.2 L596.3 748.9 L595.8 749.7 L595.3 750.4 L594.8 751.1 L594.2 751.9 L593.5 752.6 L592.9 753.3 L592.1 754.1 L591.3 754.9 L590.5 755.6 L589.8 756.3 L589.1 756.9 L588.6 757.5 L588.2 758 L587.8 758.6 L587.4 759 L587.2 759.4 L586.9 759.7 L545.4 759.7 L545.1 759.4 L544.9 759 L544.5 758.6 L544.1 758 L543.7 757.5 L543.1 756.9 L542.5 756.3 L541.8 755.6 L541 754.9 L540.2 754.1 L539.4 753.3 L538.8 752.6 L538.1 751.9 L537.5 751.1 L537 750.4 L536.5 749.7 L536 748.9 L535.8 748.2 L535.6 747.5 L535.5 746.8 L535.6 746.1 L535.7 745.3 L535.9 744.6 L536 743.8 L536.3 742.9 L536.6 742 L537 741.1 L537.4 740.2 L537.9 739.2 L538.2 738.3 L538.6 737.4 L539 736.5 L539.4 735.5 L539.8 734.6 L540.1 733.7 L540.4 732.8 L540.7 731.9 L540.9 731 L541.1 730.1 L541.3 729.2 L541.4 728.3 L541.5 727.4 L541.6 726.5 L541.7 725.6 L541.7 724.7 L541.8 723.7 L541.9 722.8 L542 721.9 L542.3 721 L542.6 720.1 L542.9 719.1 L543.3 718.2 L543.8 717.3 L544.2 716.4 L544.8 715.5 L545.4 714.6 L546 713.6 L546.7 712.7 L547.4 711.8 L548 711 L548.8 710.2 L549.5 709.3 L550.3 708.5 L551.1 707.7 L551.7 707.1 L552.1 706.6Z" fill="none" stroke="#17B8CB" stroke-width="1.05" stroke-linejoin="round"/>
<line x1="566.1" y1="706.6" x2="566.1" y2="722.4" stroke="#17B8CB" stroke-width="2.2"/>
<line x1="566.1" y1="750.1" x2="566.1" y2="759.7" stroke="#17B8CB" stroke-width="2.2"/>
<rect x="557.7" y="723.6" width="16.9" height="25.3" fill="none" stroke="#17B8CB" stroke-width="2.4"/>
<line x1="557.7" y1="737.8" x2="574.6" y2="737.8" stroke="#17B8CB" stroke-width="4.6"/>
<g fill="#17B8CB" fill-opacity="0.2"><circle cx="643.5" cy="706.8" r="2.5"/><circle cx="646.1" cy="715.7" r="2.5"/><circle cx="641.9" cy="720.8" r="2.5"/><circle cx="620.5" cy="730.7" r="2.5"/><circle cx="638.1" cy="729" r="2.5"/><circle cx="637" cy="731.8" r="2.5"/><circle cx="647.9" cy="736.1" r="2.5"/><circle cx="617.3" cy="747.6" r="2.5"/><circle cx="619.4" cy="748.2" r="2.5"/><circle cx="620.5" cy="753.7" r="2.5"/><circle cx="629.8" cy="743.8" r="2.5"/><circle cx="647.9" cy="752" r="2.5"/><circle cx="649" cy="754.2" r="2.5"/><circle cx="623.8" cy="761.9" r="2.5"/><circle cx="646.8" cy="759.7" r="2.5"/><circle cx="644.1" cy="768.4" r="2.5"/></g>
<path d="M636.4 706.6 L636.5 707.1 L636.6 707.7 L636.8 708.4 L636.9 709.2 L637.2 710.1 L637.4 710.9 L637.7 711.7 L638.1 712.6 L638.5 713.6 L638.9 714.5 L639.2 715.5 L639.6 716.4 L639.9 717.3 L640.2 718.2 L640.5 719.1 L640.8 720.1 L641.1 721 L641.3 721.9 L641.5 722.8 L641.7 723.7 L641.9 724.7 L642.1 725.6 L642.3 726.5 L642.4 727.4 L642.5 728.3 L642.5 729.2 L642.6 730.2 L642.6 731.1 L642.7 732 L642.9 732.8 L643.1 733.6 L643.3 734.3 L643.5 735.1 L643.9 735.8 L644.4 736.5 L645.1 737.2 L646.1 737.9 L647.3 738.7 L648.6 739.4 L650 740.1 L651.5 740.9 L652.8 741.6 L654.1 742.3 L655.5 743 L656.8 743.8 L658.1 744.5 L659.3 745.2 L660.4 746 L661.4 746.8 L662.3 747.6 L663.1 748.4 L663.7 749.2 L664.1 750.1 L664.3 750.9 L664.2 751.7 L663.8 752.5 L663.1 753.3 L662.3 754.1 L661.4 754.9 L660.4 755.8 L659.2 756.7 L657.8 757.6 L656.2 758.6 L654.6 759.5 L653.1 760.4 L651.7 761.3 L650.4 762.1 L649.2 762.9 L648.1 763.7 L647 764.4 L646 765.1 L645.1 765.7 L644.3 766.3 L643.6 766.8 L643 767.3 L642.5 767.8 L642.1 768.1 L641.8 768.4 L625.4 768.4 L625.1 768.1 L624.7 767.8 L624.2 767.3 L623.6 766.8 L622.9 766.3 L622.1 765.7 L621.2 765.1 L620.2 764.4 L619.1 763.7 L618 762.9 L616.8 762.1 L615.5 761.3 L614.1 760.4 L612.6 759.5 L611 758.6 L609.4 757.6 L608 756.7 L606.8 755.8 L605.8 754.9 L604.9 754.1 L604.1 753.3 L603.4 752.5 L603 751.7 L602.9 750.9 L603.1 750.1 L603.5 749.2 L604.1 748.4 L604.9 747.6 L605.8 746.8 L606.8 746 L607.9 745.2 L609.1 744.5 L610.4 743.8 L611.7 743 L613.1 742.3 L614.4 741.6 L615.7 740.9 L617.2 740.1 L618.6 739.4 L619.9 738.7 L621.1 737.9 L622.1 737.2 L622.8 736.5 L623.3 735.8 L623.6 735.1 L623.9 734.3 L624.1 733.6 L624.3 732.8 L624.5 732 L624.6 731.1 L624.6 730.2 L624.7 729.2 L624.7 728.3 L624.8 727.4 L624.9 726.5 L625.1 725.6 L625.3 724.7 L625.5 723.7 L625.7 722.8 L625.9 721.9 L626.1 721 L626.4 720.1 L626.7 719.1 L627 718.2 L627.3 717.3 L627.6 716.4 L628 715.5 L628.3 714.5 L628.7 713.6 L629.1 712.6 L629.5 711.7 L629.8 710.9 L630 710.1 L630.3 709.2 L630.4 708.4 L630.6 707.7 L630.7 707.1 L630.8 706.6Z" fill="none" stroke="#17B8CB" stroke-width="1.05" stroke-linejoin="round"/>
<line x1="633.6" y1="721.4" x2="633.6" y2="739.2" stroke="#17B8CB" stroke-width="2.2"/>
<line x1="633.6" y1="755.8" x2="633.6" y2="768.4" stroke="#17B8CB" stroke-width="2.2"/>
<rect x="625.4" y="740.4" width="16.4" height="14.2" fill="none" stroke="#17B8CB" stroke-width="2.4"/>
<line x1="625.4" y1="749.8" x2="641.8" y2="749.8" stroke="#17B8CB" stroke-width="4.6"/>
<text x="391.6" y="726.8" font-size="13">ULoQ</text>
<text x="391.6" y="821.4" font-size="13">LoD</text>
<rect x="391.0" y="653.8" width="283.2" height="227.8" fill="none" stroke="#333333" stroke-width="1.75"/>
<text x="145.3" y="451" font-size="13" text-anchor="middle">75.9%</text>
<text x="212.8" y="451" font-size="13" text-anchor="middle">68.9%</text>
<text x="280.3" y="451" font-size="13" text-anchor="middle">71.2%</text>
<text x="347.8" y="451" font-size="13" text-anchor="middle">69.6%</text>
<text x="433.8" y="451" font-size="13" text-anchor="middle">97.8%</text>
<text x="501.3" y="451" font-size="13" text-anchor="middle">90.9%</text>
<text x="568.6" y="451" font-size="13" text-anchor="middle">100%</text>
<text x="636.2" y="451" font-size="13" text-anchor="middle">93.8%</text>
<text x="145.3" y="682.3" font-size="13" text-anchor="middle">98.2%</text>
<text x="212.8" y="682.3" font-size="13" text-anchor="middle">100%</text>
<text x="280.3" y="682.3" font-size="13" text-anchor="middle">100%</text>
<text x="347.8" y="682.3" font-size="13" text-anchor="middle">100%</text>
<text x="433.8" y="682.3" font-size="13" text-anchor="middle">99.1%</text>
<text x="501.3" y="682.3" font-size="13" text-anchor="middle">100%</text>
<text x="568.6" y="682.3" font-size="13" text-anchor="middle">100%</text>
<text x="636.2" y="682.3" font-size="13" text-anchor="middle">100%</text>
<text x="96.4" y="448.65" font-size="13" text-anchor="end">Rate</text>
<text x="99.5" y="681.5" font-size="13" text-anchor="end">Rate</text>
<line x1="97.6" y1="640.6" x2="102.1" y2="640.6" stroke="#333333" stroke-width="1.75"/>
<text x="93.2" y="647" font-size="16.5" fill="#4D4D4D" text-anchor="end">10<tspan dy="-6.2" font-size="14">0</tspan></text>
<line x1="97.6" y1="574" x2="102.1" y2="574" stroke="#333333" stroke-width="1.75"/>
<text x="93.2" y="580.4" font-size="16.5" fill="#4D4D4D" text-anchor="end">10<tspan dy="-6.2" font-size="14">2</tspan></text>
<line x1="97.6" y1="507.4" x2="102.1" y2="507.4" stroke="#333333" stroke-width="1.75"/>
<text x="93.2" y="513.8" font-size="16.5" fill="#4D4D4D" text-anchor="end">10<tspan dy="-6.2" font-size="14">4</tspan></text>
<line x1="97.6" y1="474.1" x2="102.1" y2="474.1" stroke="#333333" stroke-width="1.75"/>
<text x="93.2" y="480.5" font-size="16.5" fill="#4D4D4D" text-anchor="end">10<tspan dy="-6.2" font-size="14">5</tspan></text>
<line x1="97.6" y1="870.6" x2="102.1" y2="870.6" stroke="#333333" stroke-width="1.75"/>
<text x="93.2" y="877" font-size="16.5" fill="#4D4D4D" text-anchor="end">10<tspan dy="-6.2" font-size="14">0</tspan></text>
<line x1="97.6" y1="804" x2="102.1" y2="804" stroke="#333333" stroke-width="1.75"/>
<text x="93.2" y="810.4" font-size="16.5" fill="#4D4D4D" text-anchor="end">10<tspan dy="-6.2" font-size="14">2</tspan></text>
<line x1="97.6" y1="737.4" x2="102.1" y2="737.4" stroke="#333333" stroke-width="1.75"/>
<text x="93.2" y="743.8" font-size="16.5" fill="#4D4D4D" text-anchor="end">10<tspan dy="-6.2" font-size="14">4</tspan></text>
<line x1="97.6" y1="704.1" x2="102.1" y2="704.1" stroke="#333333" stroke-width="1.75"/>
<text x="93.2" y="710.5" font-size="16.5" fill="#4D4D4D" text-anchor="end">10<tspan dy="-6.2" font-size="14">5</tspan></text>
<text x="244" y="418.2" font-size="15.2" text-anchor="middle">Naive</text>
<text x="532.6" y="418.2" font-size="15.6" text-anchor="middle">Non−naive</text>
<text transform="translate(49.1,535.6) rotate(-90)" font-size="14.8" text-anchor="middle">D1 BA.1 nAb-ID50 (AU/ml)</text>
<text transform="translate(48.3,783.9) rotate(-90)" font-size="14.8" text-anchor="middle">D15 BA.1 nAb-ID50 (AU/ml)</text>
<line x1="142.7" y1="881.6" x2="142.7" y2="885.8" stroke="#333333" stroke-width="1.75"/>
<text x="142.7" y="902.6" font-size="13.1" text-anchor="middle">Non-</text>
<text x="142.7" y="918.7" font-size="13.1" text-anchor="middle">Cases</text>
<line x1="210.2" y1="881.6" x2="210.2" y2="885.8" stroke="#333333" stroke-width="1.75"/>
<text x="210.2" y="902.6" font-size="13.1" text-anchor="middle">Booster-</text>
<text x="210.2" y="918.7" font-size="13.1" text-anchor="middle">Proximal</text>
<text x="210.2" y="934.8" font-size="13.1" text-anchor="middle">Cases</text>
<line x1="277.7" y1="881.6" x2="277.7" y2="885.8" stroke="#333333" stroke-width="1.75"/>
<text x="277.7" y="902.6" font-size="13.1" text-anchor="middle">Booster-</text>
<text x="277.7" y="918.7" font-size="13.1" text-anchor="middle">Distal</text>
<text x="277.7" y="934.8" font-size="13.1" text-anchor="middle">Cases</text>
<line x1="345.2" y1="881.6" x2="345.2" y2="885.8" stroke="#333333" stroke-width="1.75"/>
<text x="345.2" y="902.6" font-size="13.1" text-anchor="middle">Cases</text>
<text x="345.2" y="918.7" font-size="13.1" text-anchor="middle">(Proximal</text>
<text x="345.2" y="934.8" font-size="13.1" text-anchor="middle">+ Distal)</text>
<line x1="431.2" y1="881.6" x2="431.2" y2="885.8" stroke="#333333" stroke-width="1.75"/>
<text x="434.8" y="902.6" font-size="13.1" text-anchor="middle">Non-</text>
<text x="434.8" y="918.7" font-size="13.1" text-anchor="middle">Cases</text>
<line x1="498.7" y1="881.6" x2="498.7" y2="885.8" stroke="#333333" stroke-width="1.75"/>
<text x="501.8" y="902.6" font-size="13.1" text-anchor="middle">Booster-</text>
<text x="501.8" y="918.7" font-size="13.1" text-anchor="middle">Proximal</text>
<text x="501.8" y="934.8" font-size="13.1" text-anchor="middle">Cases</text>
<line x1="566" y1="881.6" x2="566" y2="885.8" stroke="#333333" stroke-width="1.75"/>
<text x="568.2" y="902.6" font-size="13.1" text-anchor="middle">Booster-</text>
<text x="568.2" y="918.7" font-size="13.1" text-anchor="middle">Distal</text>
<text x="568.2" y="934.8" font-size="13.1" text-anchor="middle">Cases</text>
<line x1="633.6" y1="881.6" x2="633.6" y2="885.8" stroke="#333333" stroke-width="1.75"/>
<text x="634.9" y="902.6" font-size="13.1" text-anchor="middle">Cases</text>
<text x="634.9" y="918.7" font-size="13.1" text-anchor="middle">(Proximal</text>
<text x="634.9" y="934.8" font-size="13.1" text-anchor="middle">+ Distal)</text>
<path d="M320.5 957.5L324.3 963.6L316.7 963.6Z" fill="none" stroke="#CFCFCF" stroke-width="3.2" stroke-linejoin="round"/>
<text x="334" y="964.9" font-size="13">Non−Responders</text>
</svg>
</body></html>
